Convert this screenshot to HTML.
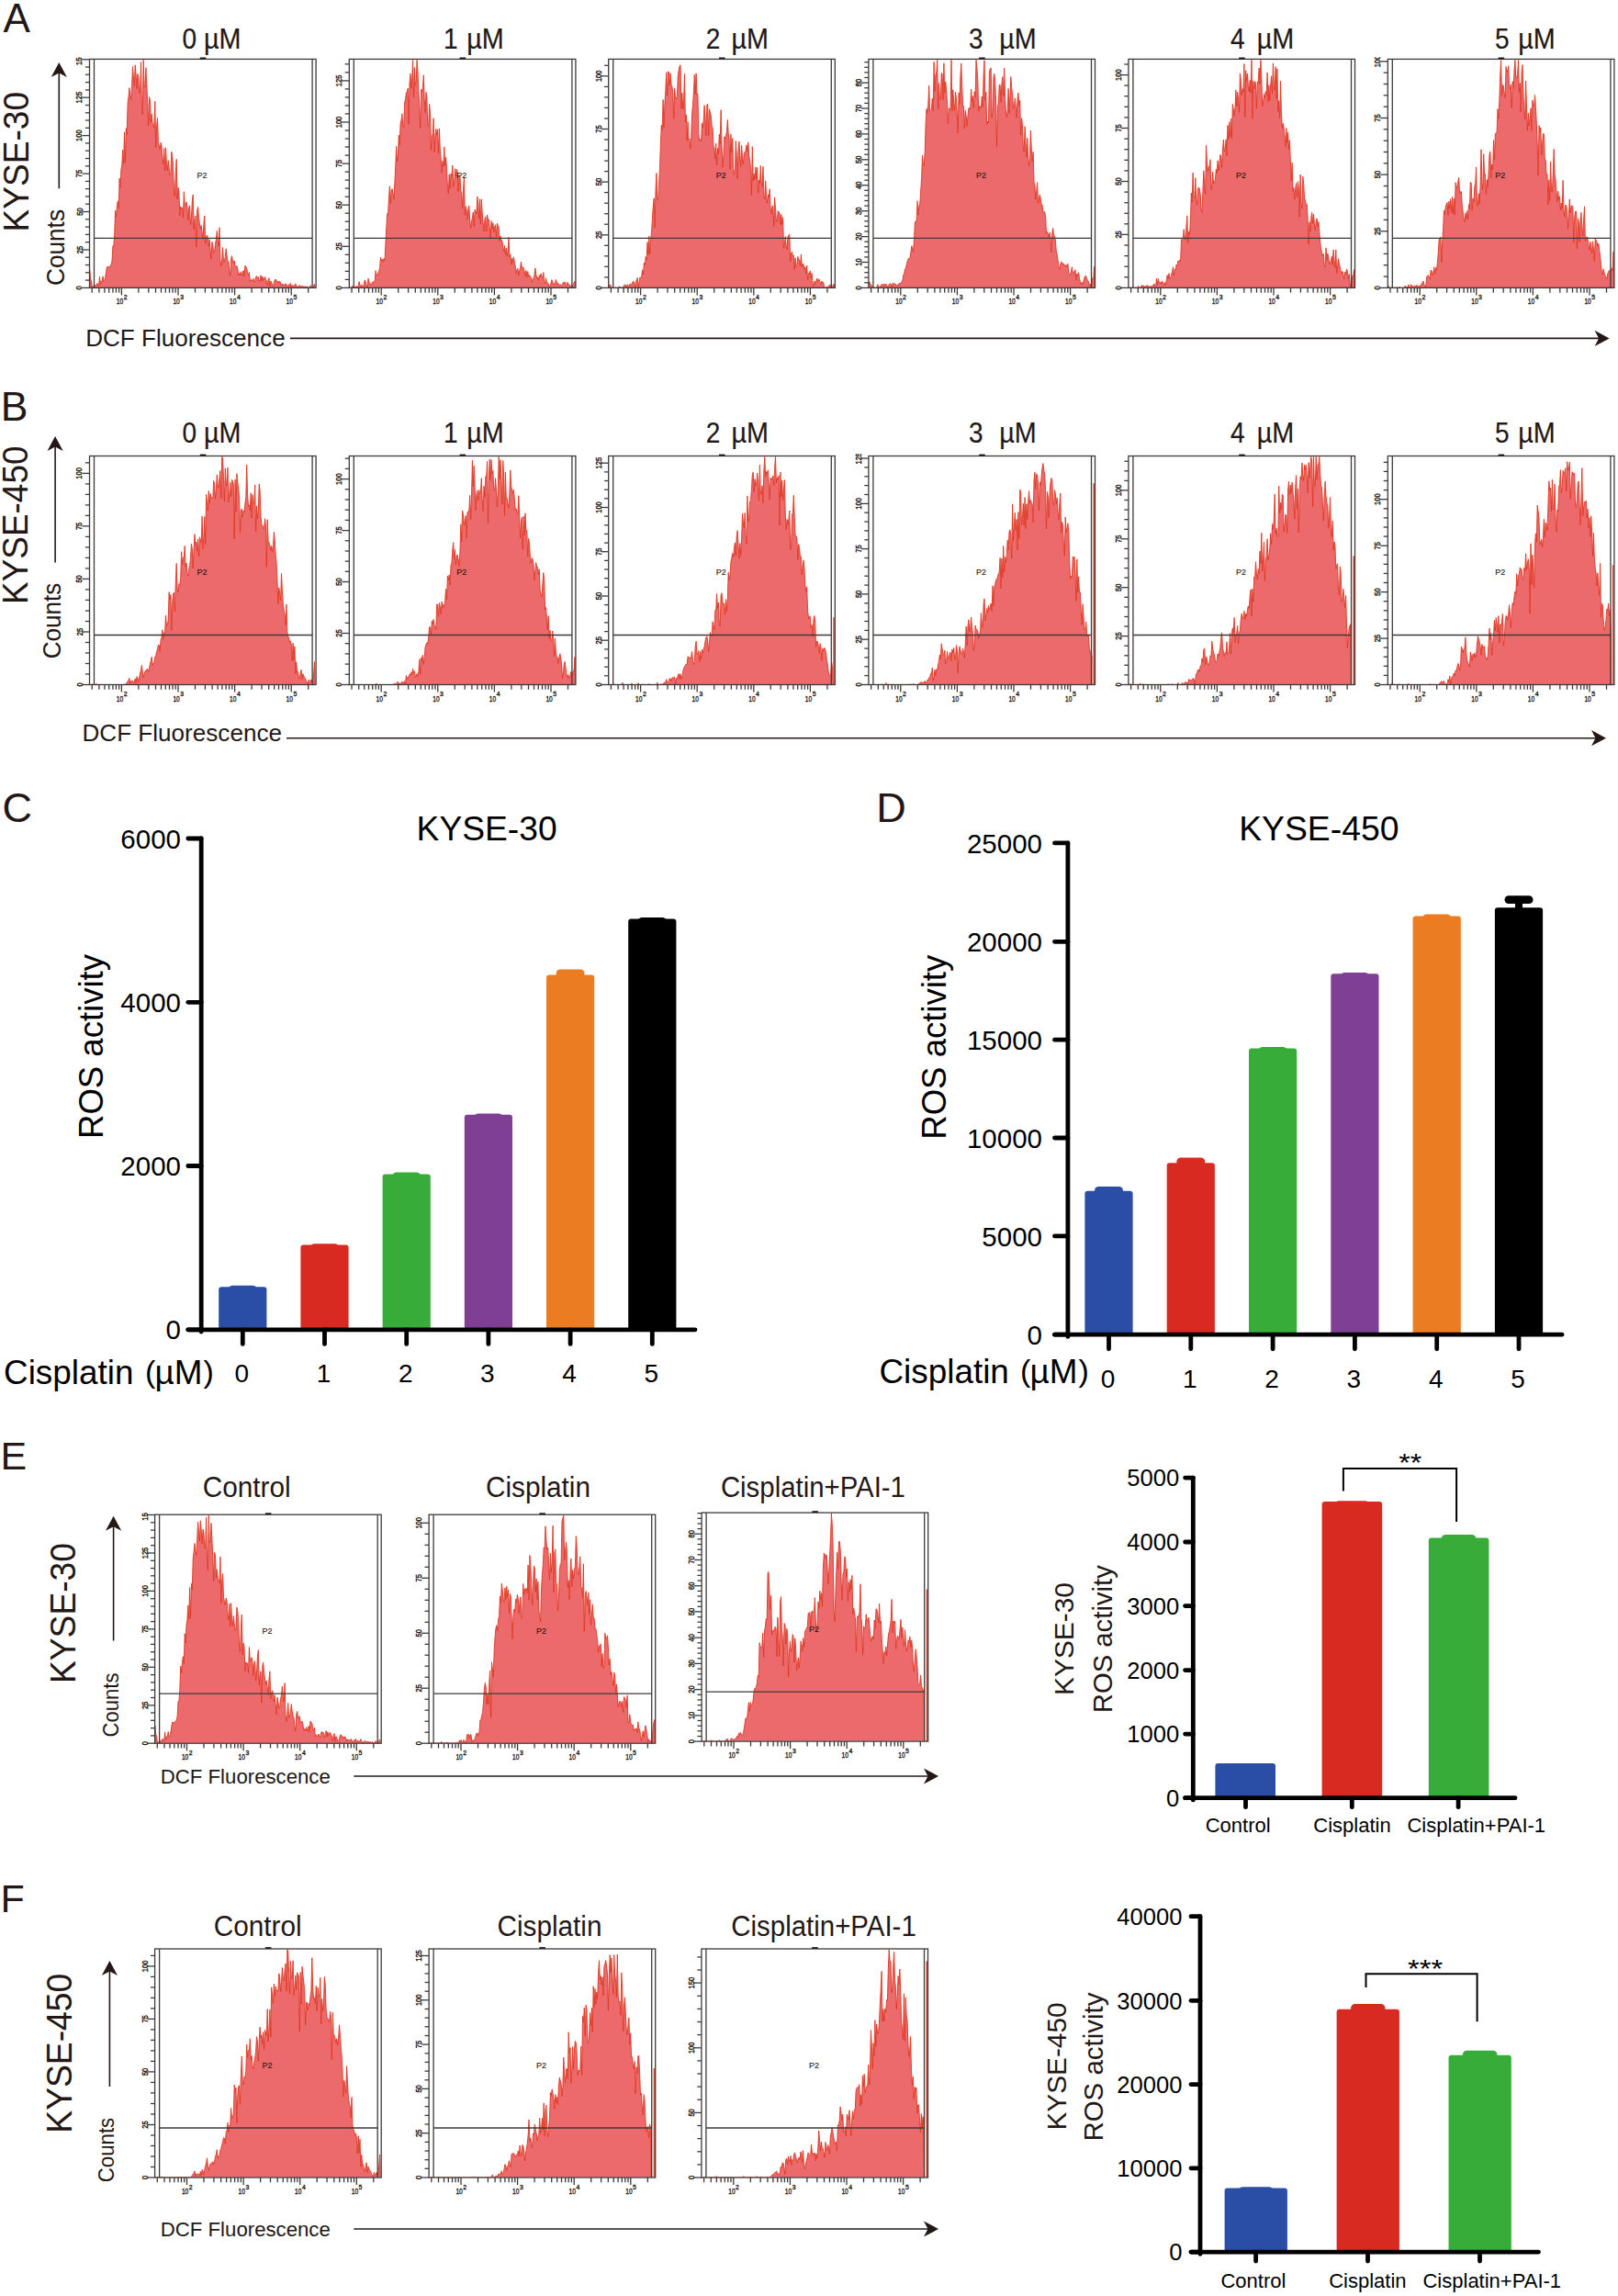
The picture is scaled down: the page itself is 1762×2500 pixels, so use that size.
<!DOCTYPE html>
<html lang="en"><head><meta charset="utf-8"><title>ROS activity figure</title>
<style>html,body{margin:0;padding:0;background:#fff}svg{display:block}text{font-family:"Liberation Sans",sans-serif}</style>
</head><body>
<svg width="1762" height="2500" viewBox="0 0 1762 2500" font-family="'Liberation Sans', sans-serif">
<rect width="1762" height="2500" fill="#fff"/>
<line x1="89.5" y1="313.4" x2="97.5" y2="313.4" stroke="#3e3a39" stroke-width="1.3"/>
<text x="89.5" y="313.4" font-size="9.5" text-anchor="middle" transform="rotate(-90 89.5 313.4)" textLength="4.2" lengthAdjust="spacingAndGlyphs" stroke="#231815" stroke-width="0.45" fill="#231815">0</text>
<line x1="92.9" y1="305.1" x2="97.5" y2="305.1" stroke="#3e3a39" stroke-width="1.3"/>
<line x1="92.9" y1="296.8" x2="97.5" y2="296.8" stroke="#3e3a39" stroke-width="1.3"/>
<line x1="92.9" y1="288.5" x2="97.5" y2="288.5" stroke="#3e3a39" stroke-width="1.3"/>
<line x1="92.9" y1="280.2" x2="97.5" y2="280.2" stroke="#3e3a39" stroke-width="1.3"/>
<line x1="89.5" y1="272" x2="97.5" y2="272" stroke="#3e3a39" stroke-width="1.3"/>
<text x="89.5" y="272" font-size="9.5" text-anchor="middle" transform="rotate(-90 89.5 272)" textLength="8.4" lengthAdjust="spacingAndGlyphs" stroke="#231815" stroke-width="0.45" fill="#231815">25</text>
<line x1="92.9" y1="263.7" x2="97.5" y2="263.7" stroke="#3e3a39" stroke-width="1.3"/>
<line x1="92.9" y1="255.4" x2="97.5" y2="255.4" stroke="#3e3a39" stroke-width="1.3"/>
<line x1="92.9" y1="247.1" x2="97.5" y2="247.1" stroke="#3e3a39" stroke-width="1.3"/>
<line x1="92.9" y1="238.8" x2="97.5" y2="238.8" stroke="#3e3a39" stroke-width="1.3"/>
<line x1="89.5" y1="230.5" x2="97.5" y2="230.5" stroke="#3e3a39" stroke-width="1.3"/>
<text x="89.5" y="230.5" font-size="9.5" text-anchor="middle" transform="rotate(-90 89.5 230.5)" textLength="8.4" lengthAdjust="spacingAndGlyphs" stroke="#231815" stroke-width="0.45" fill="#231815">50</text>
<line x1="92.9" y1="222.2" x2="97.5" y2="222.2" stroke="#3e3a39" stroke-width="1.3"/>
<line x1="92.9" y1="213.9" x2="97.5" y2="213.9" stroke="#3e3a39" stroke-width="1.3"/>
<line x1="92.9" y1="205.6" x2="97.5" y2="205.6" stroke="#3e3a39" stroke-width="1.3"/>
<line x1="92.9" y1="197.4" x2="97.5" y2="197.4" stroke="#3e3a39" stroke-width="1.3"/>
<line x1="89.5" y1="189.1" x2="97.5" y2="189.1" stroke="#3e3a39" stroke-width="1.3"/>
<text x="89.5" y="189.1" font-size="9.5" text-anchor="middle" transform="rotate(-90 89.5 189.1)" textLength="8.4" lengthAdjust="spacingAndGlyphs" stroke="#231815" stroke-width="0.45" fill="#231815">75</text>
<line x1="92.9" y1="180.8" x2="97.5" y2="180.8" stroke="#3e3a39" stroke-width="1.3"/>
<line x1="92.9" y1="172.5" x2="97.5" y2="172.5" stroke="#3e3a39" stroke-width="1.3"/>
<line x1="92.9" y1="164.2" x2="97.5" y2="164.2" stroke="#3e3a39" stroke-width="1.3"/>
<line x1="92.9" y1="155.9" x2="97.5" y2="155.9" stroke="#3e3a39" stroke-width="1.3"/>
<line x1="89.5" y1="147.6" x2="97.5" y2="147.6" stroke="#3e3a39" stroke-width="1.3"/>
<text x="89.5" y="147.6" font-size="9.5" text-anchor="middle" transform="rotate(-90 89.5 147.6)" textLength="12.6" lengthAdjust="spacingAndGlyphs" stroke="#231815" stroke-width="0.45" fill="#231815">100</text>
<line x1="92.9" y1="139.3" x2="97.5" y2="139.3" stroke="#3e3a39" stroke-width="1.3"/>
<line x1="92.9" y1="131" x2="97.5" y2="131" stroke="#3e3a39" stroke-width="1.3"/>
<line x1="92.9" y1="122.8" x2="97.5" y2="122.8" stroke="#3e3a39" stroke-width="1.3"/>
<line x1="92.9" y1="114.5" x2="97.5" y2="114.5" stroke="#3e3a39" stroke-width="1.3"/>
<line x1="89.5" y1="106.2" x2="97.5" y2="106.2" stroke="#3e3a39" stroke-width="1.3"/>
<text x="89.5" y="106.2" font-size="9.5" text-anchor="middle" transform="rotate(-90 89.5 106.2)" textLength="12.6" lengthAdjust="spacingAndGlyphs" stroke="#231815" stroke-width="0.45" fill="#231815">125</text>
<line x1="92.9" y1="97.9" x2="97.5" y2="97.9" stroke="#3e3a39" stroke-width="1.3"/>
<line x1="92.9" y1="89.6" x2="97.5" y2="89.6" stroke="#3e3a39" stroke-width="1.3"/>
<line x1="92.9" y1="81.3" x2="97.5" y2="81.3" stroke="#3e3a39" stroke-width="1.3"/>
<line x1="92.9" y1="73" x2="97.5" y2="73" stroke="#3e3a39" stroke-width="1.3"/>
<line x1="89.5" y1="64.7" x2="97.5" y2="64.7" stroke="#3e3a39" stroke-width="1.3"/>
<clipPath id="cA1"><rect x="77.5" y="62.2" width="20" height="24"/></clipPath><g clip-path="url(#cA1)">
<text x="89.5" y="64.7" font-size="9.5" text-anchor="middle" transform="rotate(-90 89.5 64.7)" textLength="12.6" lengthAdjust="spacingAndGlyphs" stroke="#231815" stroke-width="0.45" fill="#231815">150</text>
</g>
<line x1="100.2" y1="313.4" x2="100.2" y2="318.7" stroke="#3e3a39" stroke-width="1.3"/>
<line x1="107.9" y1="313.4" x2="107.9" y2="318.7" stroke="#3e3a39" stroke-width="1.3"/>
<line x1="113.9" y1="313.4" x2="113.9" y2="318.7" stroke="#3e3a39" stroke-width="1.3"/>
<line x1="118.7" y1="313.4" x2="118.7" y2="318.7" stroke="#3e3a39" stroke-width="1.3"/>
<line x1="122.9" y1="313.4" x2="122.9" y2="318.7" stroke="#3e3a39" stroke-width="1.3"/>
<line x1="126.4" y1="313.4" x2="126.4" y2="318.7" stroke="#3e3a39" stroke-width="1.3"/>
<line x1="129.6" y1="313.4" x2="129.6" y2="318.7" stroke="#3e3a39" stroke-width="1.3"/>
<line x1="132.4" y1="313.4" x2="132.4" y2="321.4" stroke="#3e3a39" stroke-width="1.3"/>
<text x="134.2" y="331.4" font-size="9" text-anchor="end" textLength="7.4" lengthAdjust="spacingAndGlyphs" stroke="#231815" stroke-width="0.35" fill="#231815">10</text>
<text x="134.7" y="326.2" font-size="7.2" textLength="3.8" lengthAdjust="spacingAndGlyphs" stroke="#231815" stroke-width="0.35" fill="#231815">2</text>
<line x1="150.9" y1="313.4" x2="150.9" y2="318.7" stroke="#3e3a39" stroke-width="1.3"/>
<line x1="161.8" y1="313.4" x2="161.8" y2="318.7" stroke="#3e3a39" stroke-width="1.3"/>
<line x1="169.5" y1="313.4" x2="169.5" y2="318.7" stroke="#3e3a39" stroke-width="1.3"/>
<line x1="175.5" y1="313.4" x2="175.5" y2="318.7" stroke="#3e3a39" stroke-width="1.3"/>
<line x1="180.3" y1="313.4" x2="180.3" y2="318.7" stroke="#3e3a39" stroke-width="1.3"/>
<line x1="184.5" y1="313.4" x2="184.5" y2="318.7" stroke="#3e3a39" stroke-width="1.3"/>
<line x1="188" y1="313.4" x2="188" y2="318.7" stroke="#3e3a39" stroke-width="1.3"/>
<line x1="191.2" y1="313.4" x2="191.2" y2="318.7" stroke="#3e3a39" stroke-width="1.3"/>
<line x1="194" y1="313.4" x2="194" y2="321.4" stroke="#3e3a39" stroke-width="1.3"/>
<text x="195.8" y="331.4" font-size="9" text-anchor="end" textLength="7.4" lengthAdjust="spacingAndGlyphs" stroke="#231815" stroke-width="0.35" fill="#231815">10</text>
<text x="196.3" y="326.2" font-size="7.2" textLength="3.8" lengthAdjust="spacingAndGlyphs" stroke="#231815" stroke-width="0.35" fill="#231815">3</text>
<line x1="212.5" y1="313.4" x2="212.5" y2="318.7" stroke="#3e3a39" stroke-width="1.3"/>
<line x1="223.4" y1="313.4" x2="223.4" y2="318.7" stroke="#3e3a39" stroke-width="1.3"/>
<line x1="231.1" y1="313.4" x2="231.1" y2="318.7" stroke="#3e3a39" stroke-width="1.3"/>
<line x1="237.1" y1="313.4" x2="237.1" y2="318.7" stroke="#3e3a39" stroke-width="1.3"/>
<line x1="241.9" y1="313.4" x2="241.9" y2="318.7" stroke="#3e3a39" stroke-width="1.3"/>
<line x1="246.1" y1="313.4" x2="246.1" y2="318.7" stroke="#3e3a39" stroke-width="1.3"/>
<line x1="249.6" y1="313.4" x2="249.6" y2="318.7" stroke="#3e3a39" stroke-width="1.3"/>
<line x1="252.8" y1="313.4" x2="252.8" y2="318.7" stroke="#3e3a39" stroke-width="1.3"/>
<line x1="255.6" y1="313.4" x2="255.6" y2="321.4" stroke="#3e3a39" stroke-width="1.3"/>
<text x="257.4" y="331.4" font-size="9" text-anchor="end" textLength="7.4" lengthAdjust="spacingAndGlyphs" stroke="#231815" stroke-width="0.35" fill="#231815">10</text>
<text x="257.9" y="326.2" font-size="7.2" textLength="3.8" lengthAdjust="spacingAndGlyphs" stroke="#231815" stroke-width="0.35" fill="#231815">4</text>
<line x1="274.1" y1="313.4" x2="274.1" y2="318.7" stroke="#3e3a39" stroke-width="1.3"/>
<line x1="285" y1="313.4" x2="285" y2="318.7" stroke="#3e3a39" stroke-width="1.3"/>
<line x1="292.7" y1="313.4" x2="292.7" y2="318.7" stroke="#3e3a39" stroke-width="1.3"/>
<line x1="298.7" y1="313.4" x2="298.7" y2="318.7" stroke="#3e3a39" stroke-width="1.3"/>
<line x1="303.5" y1="313.4" x2="303.5" y2="318.7" stroke="#3e3a39" stroke-width="1.3"/>
<line x1="307.7" y1="313.4" x2="307.7" y2="318.7" stroke="#3e3a39" stroke-width="1.3"/>
<line x1="311.2" y1="313.4" x2="311.2" y2="318.7" stroke="#3e3a39" stroke-width="1.3"/>
<line x1="314.4" y1="313.4" x2="314.4" y2="318.7" stroke="#3e3a39" stroke-width="1.3"/>
<line x1="317.2" y1="313.4" x2="317.2" y2="321.4" stroke="#3e3a39" stroke-width="1.3"/>
<text x="319" y="331.4" font-size="9" text-anchor="end" textLength="7.4" lengthAdjust="spacingAndGlyphs" stroke="#231815" stroke-width="0.35" fill="#231815">10</text>
<text x="319.5" y="326.2" font-size="7.2" textLength="3.8" lengthAdjust="spacingAndGlyphs" stroke="#231815" stroke-width="0.35" fill="#231815">5</text>
<line x1="335.7" y1="313.4" x2="335.7" y2="318.7" stroke="#3e3a39" stroke-width="1.3"/>
<clipPath id="h1"><rect x="97.5" y="64.4" width="246.6" height="248.5"/></clipPath>
<polygon clip-path="url(#h1)" points="97.7,313.4 97.7,294.2 98.6,303.6 99.5,305.9 100.4,312.6 101.3,312.1 102.2,312.1 103.1,310.9 104,310.7 104.9,311.2 105.8,308.4 106.7,310.1 107.6,311.3 108.5,301.1 109.4,309.5 110.3,306.1 111.2,306.4 112.1,300.8 113,306.6 113.9,305.6 114.8,301.3 115.7,295.3 116.6,290.2 117.5,290.9 118.4,290.5 119.3,290.7 120.2,289.2 121.1,287.9 122,284.1 122.9,267.7 123.8,268.1 124.7,255 125.6,229.3 126.5,236.6 127.4,224.6 128.3,218.9 129.2,226.6 130.1,194.1 131,204.3 131.9,184.8 132.8,179.2 133.7,163.1 134.6,178.3 135.5,143.8 136.4,176.8 137.3,139.6 138.2,146.5 139.1,112.3 140,105.3 140.9,95.6 141.8,103.7 142.7,108.5 143.6,92.2 144.5,72.4 145.4,83.8 146.3,93.3 147.2,70.9 148.1,81.3 149,96.5 149.9,80.4 150.8,83.1 151.7,101.3 152.6,100.7 153.5,67.5 154.4,114.2 155.3,124.6 156.2,65.4 157.1,95 158,93.2 158.9,73.7 159.8,91.9 160.7,111.3 161.6,136.8 162.5,105.6 163.4,108.6 164.3,133.1 165.2,124 166.1,133.6 167,135.4 167.9,139.2 168.8,110.3 169.7,160.4 170.6,136.5 171.5,128.5 172.4,154.6 173.3,158.7 174.2,162.8 175.1,155.2 176,158.6 176.9,172.4 177.8,178.8 178.7,161.4 179.6,185.9 180.5,160.8 181.4,177.9 182.3,185.6 183.2,174.7 184.1,183 185,190.4 185.9,188.5 186.8,165.2 187.7,169.7 188.6,181.4 189.5,209.6 190.4,213.9 191.3,187.3 192.2,173.2 193.1,216.8 194,204.2 194.9,208.1 195.8,234.7 196.7,224.9 197.6,227.2 198.5,226 199.4,236.6 200.3,208.8 201.2,222.8 202.1,223.5 203,219.9 203.9,225.1 204.8,239.7 205.7,225.8 206.6,223.8 207.5,245 208.4,237.3 209.3,219.5 210.2,211.9 211.1,249.8 212,238.4 212.9,234.9 213.8,268.9 214.7,228.8 215.6,225.4 216.5,236.6 217.4,243.4 218.3,249.1 219.2,245.3 220.1,252.9 221,260.7 221.9,243.1 222.8,235 223.7,265.2 224.6,258.2 225.5,255.9 226.4,259.7 227.3,268.1 228.2,260.7 229.1,271.8 230,282 230.9,263.3 231.8,267.7 232.7,275.3 233.6,273.8 234.5,265.3 235.4,260.7 236.3,251.4 237.2,262.7 238.1,267.9 239,247.7 239.9,283.1 240.8,289.8 241.7,282.5 242.6,269.5 243.5,285.6 244.4,284.9 245.3,279.4 246.2,270.9 247.1,278.7 248,284.4 248.9,284.9 249.8,295 250.7,300.2 251.6,282.2 252.5,278.6 253.4,283.8 254.3,286.3 255.2,283.9 256.1,290.5 257,290.5 257.9,289.4 258.8,292.6 259.7,299.5 260.6,297.5 261.5,299.3 262.4,295.8 263.3,300.3 264.2,297 265.1,294.6 266,301.4 266.9,289.2 267.8,290.5 268.7,291.9 269.6,297.4 270.5,299.7 271.4,296.3 272.3,306.6 273.2,304.1 274.1,304.9 275,306 275.9,303.2 276.8,306.1 277.7,307.2 278.6,301.5 279.5,300.7 280.4,301.9 281.3,301.7 282.2,307 283.1,304.4 284,299.8 284.9,306.4 285.8,300.9 286.7,305.2 287.6,302.9 288.5,301.5 289.4,303.7 290.3,305.7 291.2,310.9 292.1,305.1 293,302.7 293.9,311.9 294.8,306 295.7,307.6 296.6,310.2 297.5,311.6 298.4,308.3 299.3,304.6 300.2,304 301.1,306.3 302,306 302.9,308.2 303.8,306.3 304.7,306.3 305.6,307.9 306.5,311.1 307.4,308.9 308.3,310.3 309.2,309.7 310.1,310.9 311,308.7 311.9,310 312.8,311.3 313.7,312.3 314.6,309.7 315.5,310.7 316.4,308.4 317.3,313.4 318.2,310.3 319.1,310.8 320,311.8 320.9,310.4 321.8,308.9 322.7,311 323.6,313.4 324.5,311.8 325.4,311.8 326.3,310.6 327.2,311.7 328.1,312.2 329,311.3 329.9,311.9 330.8,312 331.7,312.3 332.6,311.8 333.5,313.1 334.4,311.7 335.3,313 336.2,313 337.1,313.4 338,310.7 338.9,312.3 339.8,313.4 340.7,312.5 341.6,310.9 342.5,309.2 343.1,313.4" fill="#ec6a6b" stroke="#e0341f" stroke-width="0.9" stroke-linejoin="miter" stroke-miterlimit="6"/>
<rect x="97.5" y="64.4" width="246.6" height="249" fill="none" stroke="#3e3a39" stroke-width="1.3"/>
<line x1="102.5" y1="64.4" x2="102.5" y2="313.4" stroke="#3e3a39" stroke-width="1.3"/>
<line x1="340.1" y1="64.4" x2="340.1" y2="313.4" stroke="#3e3a39" stroke-width="1.3"/>
<line x1="102.5" y1="259.4" x2="340.1" y2="259.4" stroke="#3e3a39" stroke-width="1.3"/>
<line x1="217.8" y1="63.4" x2="224.3" y2="63.4" stroke="#1a1a1a" stroke-width="1.8"/>
<text x="214.5" y="194" font-size="8.6" textLength="11" lengthAdjust="spacingAndGlyphs" stroke="#231815" stroke-width="0.12" fill="#231815">P2</text>
<line x1="372.3" y1="313.4" x2="380.3" y2="313.4" stroke="#3e3a39" stroke-width="1.3"/>
<text x="372.3" y="313.4" font-size="9.5" text-anchor="middle" transform="rotate(-90 372.3 313.4)" textLength="4.2" lengthAdjust="spacingAndGlyphs" stroke="#231815" stroke-width="0.45" fill="#231815">0</text>
<line x1="375.7" y1="304.4" x2="380.3" y2="304.4" stroke="#3e3a39" stroke-width="1.3"/>
<line x1="375.7" y1="295.4" x2="380.3" y2="295.4" stroke="#3e3a39" stroke-width="1.3"/>
<line x1="375.7" y1="286.3" x2="380.3" y2="286.3" stroke="#3e3a39" stroke-width="1.3"/>
<line x1="375.7" y1="277.3" x2="380.3" y2="277.3" stroke="#3e3a39" stroke-width="1.3"/>
<line x1="372.3" y1="268.3" x2="380.3" y2="268.3" stroke="#3e3a39" stroke-width="1.3"/>
<text x="372.3" y="268.3" font-size="9.5" text-anchor="middle" transform="rotate(-90 372.3 268.3)" textLength="8.4" lengthAdjust="spacingAndGlyphs" stroke="#231815" stroke-width="0.45" fill="#231815">25</text>
<line x1="375.7" y1="259.3" x2="380.3" y2="259.3" stroke="#3e3a39" stroke-width="1.3"/>
<line x1="375.7" y1="250.2" x2="380.3" y2="250.2" stroke="#3e3a39" stroke-width="1.3"/>
<line x1="375.7" y1="241.2" x2="380.3" y2="241.2" stroke="#3e3a39" stroke-width="1.3"/>
<line x1="375.7" y1="232.2" x2="380.3" y2="232.2" stroke="#3e3a39" stroke-width="1.3"/>
<line x1="372.3" y1="223.2" x2="380.3" y2="223.2" stroke="#3e3a39" stroke-width="1.3"/>
<text x="372.3" y="223.2" font-size="9.5" text-anchor="middle" transform="rotate(-90 372.3 223.2)" textLength="8.4" lengthAdjust="spacingAndGlyphs" stroke="#231815" stroke-width="0.45" fill="#231815">50</text>
<line x1="375.7" y1="214.2" x2="380.3" y2="214.2" stroke="#3e3a39" stroke-width="1.3"/>
<line x1="375.7" y1="205.1" x2="380.3" y2="205.1" stroke="#3e3a39" stroke-width="1.3"/>
<line x1="375.7" y1="196.1" x2="380.3" y2="196.1" stroke="#3e3a39" stroke-width="1.3"/>
<line x1="375.7" y1="187.1" x2="380.3" y2="187.1" stroke="#3e3a39" stroke-width="1.3"/>
<line x1="372.3" y1="178.1" x2="380.3" y2="178.1" stroke="#3e3a39" stroke-width="1.3"/>
<text x="372.3" y="178.1" font-size="9.5" text-anchor="middle" transform="rotate(-90 372.3 178.1)" textLength="8.4" lengthAdjust="spacingAndGlyphs" stroke="#231815" stroke-width="0.45" fill="#231815">75</text>
<line x1="375.7" y1="169.1" x2="380.3" y2="169.1" stroke="#3e3a39" stroke-width="1.3"/>
<line x1="375.7" y1="160" x2="380.3" y2="160" stroke="#3e3a39" stroke-width="1.3"/>
<line x1="375.7" y1="151" x2="380.3" y2="151" stroke="#3e3a39" stroke-width="1.3"/>
<line x1="375.7" y1="142" x2="380.3" y2="142" stroke="#3e3a39" stroke-width="1.3"/>
<line x1="372.3" y1="133" x2="380.3" y2="133" stroke="#3e3a39" stroke-width="1.3"/>
<text x="372.3" y="133" font-size="9.5" text-anchor="middle" transform="rotate(-90 372.3 133)" textLength="12.6" lengthAdjust="spacingAndGlyphs" stroke="#231815" stroke-width="0.45" fill="#231815">100</text>
<line x1="375.7" y1="123.9" x2="380.3" y2="123.9" stroke="#3e3a39" stroke-width="1.3"/>
<line x1="375.7" y1="114.9" x2="380.3" y2="114.9" stroke="#3e3a39" stroke-width="1.3"/>
<line x1="375.7" y1="105.9" x2="380.3" y2="105.9" stroke="#3e3a39" stroke-width="1.3"/>
<line x1="375.7" y1="96.9" x2="380.3" y2="96.9" stroke="#3e3a39" stroke-width="1.3"/>
<line x1="372.3" y1="87.9" x2="380.3" y2="87.9" stroke="#3e3a39" stroke-width="1.3"/>
<text x="372.3" y="87.9" font-size="9.5" text-anchor="middle" transform="rotate(-90 372.3 87.9)" textLength="12.6" lengthAdjust="spacingAndGlyphs" stroke="#231815" stroke-width="0.45" fill="#231815">125</text>
<line x1="375.7" y1="78.8" x2="380.3" y2="78.8" stroke="#3e3a39" stroke-width="1.3"/>
<line x1="375.7" y1="69.8" x2="380.3" y2="69.8" stroke="#3e3a39" stroke-width="1.3"/>
<line x1="383" y1="313.4" x2="383" y2="318.7" stroke="#3e3a39" stroke-width="1.3"/>
<line x1="390.7" y1="313.4" x2="390.7" y2="318.7" stroke="#3e3a39" stroke-width="1.3"/>
<line x1="396.7" y1="313.4" x2="396.7" y2="318.7" stroke="#3e3a39" stroke-width="1.3"/>
<line x1="401.5" y1="313.4" x2="401.5" y2="318.7" stroke="#3e3a39" stroke-width="1.3"/>
<line x1="405.7" y1="313.4" x2="405.7" y2="318.7" stroke="#3e3a39" stroke-width="1.3"/>
<line x1="409.2" y1="313.4" x2="409.2" y2="318.7" stroke="#3e3a39" stroke-width="1.3"/>
<line x1="412.4" y1="313.4" x2="412.4" y2="318.7" stroke="#3e3a39" stroke-width="1.3"/>
<line x1="415.2" y1="313.4" x2="415.2" y2="321.4" stroke="#3e3a39" stroke-width="1.3"/>
<text x="417" y="331.4" font-size="9" text-anchor="end" textLength="7.4" lengthAdjust="spacingAndGlyphs" stroke="#231815" stroke-width="0.35" fill="#231815">10</text>
<text x="417.5" y="326.2" font-size="7.2" textLength="3.8" lengthAdjust="spacingAndGlyphs" stroke="#231815" stroke-width="0.35" fill="#231815">2</text>
<line x1="433.7" y1="313.4" x2="433.7" y2="318.7" stroke="#3e3a39" stroke-width="1.3"/>
<line x1="444.6" y1="313.4" x2="444.6" y2="318.7" stroke="#3e3a39" stroke-width="1.3"/>
<line x1="452.3" y1="313.4" x2="452.3" y2="318.7" stroke="#3e3a39" stroke-width="1.3"/>
<line x1="458.3" y1="313.4" x2="458.3" y2="318.7" stroke="#3e3a39" stroke-width="1.3"/>
<line x1="463.1" y1="313.4" x2="463.1" y2="318.7" stroke="#3e3a39" stroke-width="1.3"/>
<line x1="467.3" y1="313.4" x2="467.3" y2="318.7" stroke="#3e3a39" stroke-width="1.3"/>
<line x1="470.8" y1="313.4" x2="470.8" y2="318.7" stroke="#3e3a39" stroke-width="1.3"/>
<line x1="474" y1="313.4" x2="474" y2="318.7" stroke="#3e3a39" stroke-width="1.3"/>
<line x1="476.8" y1="313.4" x2="476.8" y2="321.4" stroke="#3e3a39" stroke-width="1.3"/>
<text x="478.6" y="331.4" font-size="9" text-anchor="end" textLength="7.4" lengthAdjust="spacingAndGlyphs" stroke="#231815" stroke-width="0.35" fill="#231815">10</text>
<text x="479.1" y="326.2" font-size="7.2" textLength="3.8" lengthAdjust="spacingAndGlyphs" stroke="#231815" stroke-width="0.35" fill="#231815">3</text>
<line x1="495.3" y1="313.4" x2="495.3" y2="318.7" stroke="#3e3a39" stroke-width="1.3"/>
<line x1="506.2" y1="313.4" x2="506.2" y2="318.7" stroke="#3e3a39" stroke-width="1.3"/>
<line x1="513.9" y1="313.4" x2="513.9" y2="318.7" stroke="#3e3a39" stroke-width="1.3"/>
<line x1="519.9" y1="313.4" x2="519.9" y2="318.7" stroke="#3e3a39" stroke-width="1.3"/>
<line x1="524.7" y1="313.4" x2="524.7" y2="318.7" stroke="#3e3a39" stroke-width="1.3"/>
<line x1="528.9" y1="313.4" x2="528.9" y2="318.7" stroke="#3e3a39" stroke-width="1.3"/>
<line x1="532.4" y1="313.4" x2="532.4" y2="318.7" stroke="#3e3a39" stroke-width="1.3"/>
<line x1="535.6" y1="313.4" x2="535.6" y2="318.7" stroke="#3e3a39" stroke-width="1.3"/>
<line x1="538.4" y1="313.4" x2="538.4" y2="321.4" stroke="#3e3a39" stroke-width="1.3"/>
<text x="540.2" y="331.4" font-size="9" text-anchor="end" textLength="7.4" lengthAdjust="spacingAndGlyphs" stroke="#231815" stroke-width="0.35" fill="#231815">10</text>
<text x="540.7" y="326.2" font-size="7.2" textLength="3.8" lengthAdjust="spacingAndGlyphs" stroke="#231815" stroke-width="0.35" fill="#231815">4</text>
<line x1="556.9" y1="313.4" x2="556.9" y2="318.7" stroke="#3e3a39" stroke-width="1.3"/>
<line x1="567.8" y1="313.4" x2="567.8" y2="318.7" stroke="#3e3a39" stroke-width="1.3"/>
<line x1="575.5" y1="313.4" x2="575.5" y2="318.7" stroke="#3e3a39" stroke-width="1.3"/>
<line x1="581.5" y1="313.4" x2="581.5" y2="318.7" stroke="#3e3a39" stroke-width="1.3"/>
<line x1="586.3" y1="313.4" x2="586.3" y2="318.7" stroke="#3e3a39" stroke-width="1.3"/>
<line x1="590.5" y1="313.4" x2="590.5" y2="318.7" stroke="#3e3a39" stroke-width="1.3"/>
<line x1="594" y1="313.4" x2="594" y2="318.7" stroke="#3e3a39" stroke-width="1.3"/>
<line x1="597.2" y1="313.4" x2="597.2" y2="318.7" stroke="#3e3a39" stroke-width="1.3"/>
<line x1="600" y1="313.4" x2="600" y2="321.4" stroke="#3e3a39" stroke-width="1.3"/>
<text x="601.8" y="331.4" font-size="9" text-anchor="end" textLength="7.4" lengthAdjust="spacingAndGlyphs" stroke="#231815" stroke-width="0.35" fill="#231815">10</text>
<text x="602.3" y="326.2" font-size="7.2" textLength="3.8" lengthAdjust="spacingAndGlyphs" stroke="#231815" stroke-width="0.35" fill="#231815">5</text>
<line x1="618.5" y1="313.4" x2="618.5" y2="318.7" stroke="#3e3a39" stroke-width="1.3"/>
<clipPath id="h2"><rect x="380.3" y="64.4" width="246.6" height="248.5"/></clipPath>
<polygon clip-path="url(#h2)" points="380.3,313.4 380.3,313.4 381.2,313.4 382.1,313.4 383,313.4 383.9,311.2 384.8,313.4 385.7,313.4 386.6,312.4 387.5,313.4 388.4,311.1 389.3,313.4 390.2,311.5 391.1,306.6 392,311.2 392.9,311.4 393.8,309.9 394.7,312.2 395.6,313.4 396.5,308.1 397.4,304.8 398.3,306.7 399.2,310.7 400.1,313.4 401,303.2 401.9,307.3 402.8,308.2 403.7,310.2 404.6,310 405.5,307.1 406.4,307.3 407.3,306.5 408.2,305.3 409.1,294.7 410,299.1 410.9,300.2 411.8,297.2 412.7,295.2 413.6,291.6 414.5,280.1 415.4,283.9 416.3,282.2 417.2,285.1 418.1,281.4 419,283.3 419.9,265.5 420.8,247.4 421.7,232.4 422.6,232.9 423.5,215.4 424.4,202.7 425.3,221.6 426.2,206.8 427.1,205.6 428,210.5 428.9,216.7 429.8,200 430.7,181.8 431.6,159.4 432.5,175.9 433.4,169.3 434.3,147.2 435.2,157.9 436.1,134.4 437,131 437.9,123.9 438.8,138.6 439.7,138.5 440.6,112 441.5,108.1 442.4,101 443.3,99.9 444.2,96.1 445.1,135.4 446,91 446.9,80.1 447.8,96.4 448.7,85.9 449.6,65.4 450.5,106.1 451.4,73.5 452.3,92.8 453.2,88.5 454.1,65.4 455,78.9 455.9,100.9 456.8,115.2 457.7,139.3 458.6,97.4 459.5,99.2 460.4,95.3 461.3,81.8 462.2,107.6 463.1,122.5 464,100.5 464.9,106.2 465.8,136.8 466.7,137.6 467.6,113.3 468.5,123.4 469.4,163.4 470.3,147.8 471.2,145.6 472.1,128.7 473,165.5 473.9,147.4 474.8,140.4 475.7,147.2 476.6,140.9 477.5,167.1 478.4,140 479.3,162.8 480.2,173.8 481.1,188.1 482,175.3 482.9,180.8 483.8,159.9 484.7,180.6 485.6,171.4 486.5,184.7 487.4,203.1 488.3,210.9 489.2,189.9 490.1,205 491,189 491.9,192.5 492.8,180.1 493.7,203.4 494.6,200.8 495.5,183.6 496.4,192.1 497.3,184.2 498.2,186.7 499.1,208.3 500,191 500.9,191.3 501.8,208.1 502.7,209.3 503.6,226.9 504.5,206.5 505.4,193.8 506.3,234.4 507.2,224.6 508.1,228.1 509,238.7 509.9,227.7 510.8,224 511.7,238.2 512.6,248.6 513.5,241.2 514.4,237.4 515.3,230.9 516.2,246.3 517.1,228.2 518,230 518.9,232.3 519.8,214 520.7,221.7 521.6,237.8 522.5,216.7 523.4,244.1 524.3,216.8 525.2,232.3 526.1,242.8 527,251.7 527.9,239.1 528.8,235.9 529.7,252 530.6,234 531.5,239.9 532.4,238.9 533.3,248.3 534.2,259.6 535.1,240.4 536,249.2 536.9,242.8 537.8,252.9 538.7,247.1 539.6,244.7 540.5,257.6 541.4,243.2 542.3,246 543.2,247.1 544.1,262.5 545,256.9 545.9,262.3 546.8,261.8 547.7,269.7 548.6,273.6 549.5,267.4 550.4,276.6 551.3,270 552.2,279 553.1,273.2 554,258.4 554.9,279.8 555.8,276.9 556.7,288.3 557.6,281 558.5,285.6 559.4,279.8 560.3,285.9 561.2,290 562.1,297.9 563,293.4 563.9,292.3 564.8,299.9 565.7,294.6 566.6,291.3 567.5,285 568.4,291.5 569.3,291.4 570.2,291.5 571.1,295.6 572,300.6 572.9,294.5 573.8,301.8 574.7,295.7 575.6,301.2 576.5,299.6 577.4,300.6 578.3,302.4 579.2,307.2 580.1,303.7 581,302.6 581.9,300.4 582.8,291.8 583.7,298.3 584.6,303.1 585.5,301.7 586.4,305.4 587.3,299.7 588.2,301.7 589.1,297.9 590,301.9 590.9,302.1 591.8,296.5 592.7,306.8 593.6,308.7 594.5,302.8 595.4,307.4 596.3,307.8 597.2,309.1 598.1,312.1 599,311.1 599.9,309.1 600.8,304.6 601.7,306.5 602.6,309.6 603.5,308.8 604.4,309.9 605.3,304.4 606.2,307.6 607.1,307.7 608,309.6 608.9,309.6 609.8,310.4 610.7,309.9 611.6,310.3 612.5,309.4 613.4,307.7 614.3,307.5 615.2,307 616.1,310 617,310.8 617.9,307.3 618.8,309.3 619.7,309.8 620.6,311 621.5,310.9 622.4,312.3 623.3,310.8 624.2,309.7 625.1,307.8 626,306.2 626.8,313.4" fill="#ec6a6b" stroke="#e0341f" stroke-width="0.9" stroke-linejoin="miter" stroke-miterlimit="6"/>
<rect x="380.3" y="64.4" width="246.6" height="249" fill="none" stroke="#3e3a39" stroke-width="1.3"/>
<line x1="385.3" y1="64.4" x2="385.3" y2="313.4" stroke="#3e3a39" stroke-width="1.3"/>
<line x1="622.9" y1="64.4" x2="622.9" y2="313.4" stroke="#3e3a39" stroke-width="1.3"/>
<line x1="385.3" y1="259.4" x2="622.9" y2="259.4" stroke="#3e3a39" stroke-width="1.3"/>
<line x1="500.6" y1="63.4" x2="507.1" y2="63.4" stroke="#1a1a1a" stroke-width="1.8"/>
<text x="497.3" y="194" font-size="8.6" textLength="11" lengthAdjust="spacingAndGlyphs" stroke="#231815" stroke-width="0.12" fill="#231815">P2</text>
<line x1="654.7" y1="313.4" x2="662.7" y2="313.4" stroke="#3e3a39" stroke-width="1.3"/>
<text x="654.7" y="313.4" font-size="9.5" text-anchor="middle" transform="rotate(-90 654.7 313.4)" textLength="4.2" lengthAdjust="spacingAndGlyphs" stroke="#231815" stroke-width="0.45" fill="#231815">0</text>
<line x1="658.1" y1="301.9" x2="662.7" y2="301.9" stroke="#3e3a39" stroke-width="1.3"/>
<line x1="658.1" y1="290.3" x2="662.7" y2="290.3" stroke="#3e3a39" stroke-width="1.3"/>
<line x1="658.1" y1="278.8" x2="662.7" y2="278.8" stroke="#3e3a39" stroke-width="1.3"/>
<line x1="658.1" y1="267.3" x2="662.7" y2="267.3" stroke="#3e3a39" stroke-width="1.3"/>
<line x1="654.7" y1="255.8" x2="662.7" y2="255.8" stroke="#3e3a39" stroke-width="1.3"/>
<text x="654.7" y="255.8" font-size="9.5" text-anchor="middle" transform="rotate(-90 654.7 255.8)" textLength="8.4" lengthAdjust="spacingAndGlyphs" stroke="#231815" stroke-width="0.45" fill="#231815">25</text>
<line x1="658.1" y1="244.2" x2="662.7" y2="244.2" stroke="#3e3a39" stroke-width="1.3"/>
<line x1="658.1" y1="232.7" x2="662.7" y2="232.7" stroke="#3e3a39" stroke-width="1.3"/>
<line x1="658.1" y1="221.2" x2="662.7" y2="221.2" stroke="#3e3a39" stroke-width="1.3"/>
<line x1="658.1" y1="209.6" x2="662.7" y2="209.6" stroke="#3e3a39" stroke-width="1.3"/>
<line x1="654.7" y1="198.1" x2="662.7" y2="198.1" stroke="#3e3a39" stroke-width="1.3"/>
<text x="654.7" y="198.1" font-size="9.5" text-anchor="middle" transform="rotate(-90 654.7 198.1)" textLength="8.4" lengthAdjust="spacingAndGlyphs" stroke="#231815" stroke-width="0.45" fill="#231815">50</text>
<line x1="658.1" y1="186.6" x2="662.7" y2="186.6" stroke="#3e3a39" stroke-width="1.3"/>
<line x1="658.1" y1="175.1" x2="662.7" y2="175.1" stroke="#3e3a39" stroke-width="1.3"/>
<line x1="658.1" y1="163.5" x2="662.7" y2="163.5" stroke="#3e3a39" stroke-width="1.3"/>
<line x1="658.1" y1="152" x2="662.7" y2="152" stroke="#3e3a39" stroke-width="1.3"/>
<line x1="654.7" y1="140.5" x2="662.7" y2="140.5" stroke="#3e3a39" stroke-width="1.3"/>
<text x="654.7" y="140.5" font-size="9.5" text-anchor="middle" transform="rotate(-90 654.7 140.5)" textLength="8.4" lengthAdjust="spacingAndGlyphs" stroke="#231815" stroke-width="0.45" fill="#231815">75</text>
<line x1="658.1" y1="129" x2="662.7" y2="129" stroke="#3e3a39" stroke-width="1.3"/>
<line x1="658.1" y1="117.4" x2="662.7" y2="117.4" stroke="#3e3a39" stroke-width="1.3"/>
<line x1="658.1" y1="105.9" x2="662.7" y2="105.9" stroke="#3e3a39" stroke-width="1.3"/>
<line x1="658.1" y1="94.4" x2="662.7" y2="94.4" stroke="#3e3a39" stroke-width="1.3"/>
<line x1="654.7" y1="82.8" x2="662.7" y2="82.8" stroke="#3e3a39" stroke-width="1.3"/>
<text x="654.7" y="82.8" font-size="9.5" text-anchor="middle" transform="rotate(-90 654.7 82.8)" textLength="12.6" lengthAdjust="spacingAndGlyphs" stroke="#231815" stroke-width="0.45" fill="#231815">100</text>
<line x1="658.1" y1="71.3" x2="662.7" y2="71.3" stroke="#3e3a39" stroke-width="1.3"/>
<line x1="665.4" y1="313.4" x2="665.4" y2="318.7" stroke="#3e3a39" stroke-width="1.3"/>
<line x1="673.1" y1="313.4" x2="673.1" y2="318.7" stroke="#3e3a39" stroke-width="1.3"/>
<line x1="679.1" y1="313.4" x2="679.1" y2="318.7" stroke="#3e3a39" stroke-width="1.3"/>
<line x1="683.9" y1="313.4" x2="683.9" y2="318.7" stroke="#3e3a39" stroke-width="1.3"/>
<line x1="688.1" y1="313.4" x2="688.1" y2="318.7" stroke="#3e3a39" stroke-width="1.3"/>
<line x1="691.6" y1="313.4" x2="691.6" y2="318.7" stroke="#3e3a39" stroke-width="1.3"/>
<line x1="694.8" y1="313.4" x2="694.8" y2="318.7" stroke="#3e3a39" stroke-width="1.3"/>
<line x1="697.6" y1="313.4" x2="697.6" y2="321.4" stroke="#3e3a39" stroke-width="1.3"/>
<text x="699.4" y="331.4" font-size="9" text-anchor="end" textLength="7.4" lengthAdjust="spacingAndGlyphs" stroke="#231815" stroke-width="0.35" fill="#231815">10</text>
<text x="699.9" y="326.2" font-size="7.2" textLength="3.8" lengthAdjust="spacingAndGlyphs" stroke="#231815" stroke-width="0.35" fill="#231815">2</text>
<line x1="716.1" y1="313.4" x2="716.1" y2="318.7" stroke="#3e3a39" stroke-width="1.3"/>
<line x1="727" y1="313.4" x2="727" y2="318.7" stroke="#3e3a39" stroke-width="1.3"/>
<line x1="734.7" y1="313.4" x2="734.7" y2="318.7" stroke="#3e3a39" stroke-width="1.3"/>
<line x1="740.7" y1="313.4" x2="740.7" y2="318.7" stroke="#3e3a39" stroke-width="1.3"/>
<line x1="745.5" y1="313.4" x2="745.5" y2="318.7" stroke="#3e3a39" stroke-width="1.3"/>
<line x1="749.7" y1="313.4" x2="749.7" y2="318.7" stroke="#3e3a39" stroke-width="1.3"/>
<line x1="753.2" y1="313.4" x2="753.2" y2="318.7" stroke="#3e3a39" stroke-width="1.3"/>
<line x1="756.4" y1="313.4" x2="756.4" y2="318.7" stroke="#3e3a39" stroke-width="1.3"/>
<line x1="759.2" y1="313.4" x2="759.2" y2="321.4" stroke="#3e3a39" stroke-width="1.3"/>
<text x="761" y="331.4" font-size="9" text-anchor="end" textLength="7.4" lengthAdjust="spacingAndGlyphs" stroke="#231815" stroke-width="0.35" fill="#231815">10</text>
<text x="761.5" y="326.2" font-size="7.2" textLength="3.8" lengthAdjust="spacingAndGlyphs" stroke="#231815" stroke-width="0.35" fill="#231815">3</text>
<line x1="777.7" y1="313.4" x2="777.7" y2="318.7" stroke="#3e3a39" stroke-width="1.3"/>
<line x1="788.6" y1="313.4" x2="788.6" y2="318.7" stroke="#3e3a39" stroke-width="1.3"/>
<line x1="796.3" y1="313.4" x2="796.3" y2="318.7" stroke="#3e3a39" stroke-width="1.3"/>
<line x1="802.3" y1="313.4" x2="802.3" y2="318.7" stroke="#3e3a39" stroke-width="1.3"/>
<line x1="807.1" y1="313.4" x2="807.1" y2="318.7" stroke="#3e3a39" stroke-width="1.3"/>
<line x1="811.3" y1="313.4" x2="811.3" y2="318.7" stroke="#3e3a39" stroke-width="1.3"/>
<line x1="814.8" y1="313.4" x2="814.8" y2="318.7" stroke="#3e3a39" stroke-width="1.3"/>
<line x1="818" y1="313.4" x2="818" y2="318.7" stroke="#3e3a39" stroke-width="1.3"/>
<line x1="820.8" y1="313.4" x2="820.8" y2="321.4" stroke="#3e3a39" stroke-width="1.3"/>
<text x="822.6" y="331.4" font-size="9" text-anchor="end" textLength="7.4" lengthAdjust="spacingAndGlyphs" stroke="#231815" stroke-width="0.35" fill="#231815">10</text>
<text x="823.1" y="326.2" font-size="7.2" textLength="3.8" lengthAdjust="spacingAndGlyphs" stroke="#231815" stroke-width="0.35" fill="#231815">4</text>
<line x1="839.3" y1="313.4" x2="839.3" y2="318.7" stroke="#3e3a39" stroke-width="1.3"/>
<line x1="850.2" y1="313.4" x2="850.2" y2="318.7" stroke="#3e3a39" stroke-width="1.3"/>
<line x1="857.9" y1="313.4" x2="857.9" y2="318.7" stroke="#3e3a39" stroke-width="1.3"/>
<line x1="863.9" y1="313.4" x2="863.9" y2="318.7" stroke="#3e3a39" stroke-width="1.3"/>
<line x1="868.7" y1="313.4" x2="868.7" y2="318.7" stroke="#3e3a39" stroke-width="1.3"/>
<line x1="872.9" y1="313.4" x2="872.9" y2="318.7" stroke="#3e3a39" stroke-width="1.3"/>
<line x1="876.4" y1="313.4" x2="876.4" y2="318.7" stroke="#3e3a39" stroke-width="1.3"/>
<line x1="879.6" y1="313.4" x2="879.6" y2="318.7" stroke="#3e3a39" stroke-width="1.3"/>
<line x1="882.4" y1="313.4" x2="882.4" y2="321.4" stroke="#3e3a39" stroke-width="1.3"/>
<text x="884.2" y="331.4" font-size="9" text-anchor="end" textLength="7.4" lengthAdjust="spacingAndGlyphs" stroke="#231815" stroke-width="0.35" fill="#231815">10</text>
<text x="884.7" y="326.2" font-size="7.2" textLength="3.8" lengthAdjust="spacingAndGlyphs" stroke="#231815" stroke-width="0.35" fill="#231815">5</text>
<line x1="900.9" y1="313.4" x2="900.9" y2="318.7" stroke="#3e3a39" stroke-width="1.3"/>
<clipPath id="h3"><rect x="662.7" y="64.4" width="246.6" height="248.5"/></clipPath>
<polygon clip-path="url(#h3)" points="662.7,313.4 662.7,312.8 663.6,310.4 664.5,309.9 665.4,311.7 666.3,313.4 667.2,313.4 668.1,313.4 669,313.4 669.9,313.3 670.8,313.4 671.7,313.4 672.6,313.4 673.5,313.4 674.4,311.8 675.3,313.2 676.2,313.4 677.1,312.5 678,313.4 678.9,312.4 679.8,310.3 680.7,310.3 681.6,310.2 682.5,312.5 683.4,309.8 684.3,312 685.2,311.7 686.1,308.9 687,310.6 687.9,310 688.8,307 689.7,306.3 690.6,307.5 691.5,313.4 692.4,306.9 693.3,304.8 694.2,302.4 695.1,313.4 696,307.4 696.9,301.9 697.8,302.9 698.7,301 699.6,293.9 700.5,299 701.4,286 702.3,288.9 703.2,279.4 704.1,283 705,263.7 705.9,277.4 706.8,257.3 707.7,276.8 708.6,260.7 709.5,253.3 710.4,238.1 711.3,224.2 712.2,215.8 713.1,247.8 714,206.6 714.9,188.6 715.8,217.8 716.7,217.8 717.6,200.3 718.5,183.4 719.4,156.8 720.3,136.1 721.2,141.7 722.1,108.5 723,138.5 723.9,113.1 724.8,98.8 725.7,78.8 726.6,104.1 727.5,77.9 728.4,78.3 729.3,92.6 730.2,79.8 731.1,92.6 732,94.9 732.9,102.7 733.8,129.1 734.7,96.2 735.6,106.8 736.5,107.8 737.4,104.4 738.3,82.2 739.2,76 740.1,72 741,70.9 741.9,118.2 742.8,101 743.7,118.6 744.6,109.7 745.5,80.5 746.4,132.8 747.3,124.8 748.2,153.1 749.1,132.6 750,152 750.9,151 751.8,161.6 752.7,148.7 753.6,123.4 754.5,114.3 755.4,100 756.3,81.5 757.2,102.7 758.1,79.8 759,102.8 759.9,102 760.8,145.9 761.7,153.3 762.6,151.7 763.5,153.7 764.4,134.1 765.3,139.1 766.2,131 767.1,114.6 768,127.7 768.9,147.3 769.8,114.3 770.7,113.1 771.6,148.1 772.5,118.7 773.4,122.7 774.3,126.1 775.2,137.1 776.1,139.7 777,159 777.9,160.7 778.8,173.3 779.7,155.9 780.6,179.9 781.5,161.4 782.4,167.6 783.3,146.2 784.2,156.6 785.1,119.7 786,158.8 786.9,181.8 787.8,171.8 788.7,148.9 789.6,150.5 790.5,147.8 791.4,143.6 792.3,130.4 793.2,145.3 794.1,150.9 795,184.3 795.9,146.1 796.8,165.9 797.7,150.5 798.6,183.4 799.5,190.3 800.4,184.1 801.3,153.4 802.2,168.2 803.1,194.4 804,164.5 804.9,154 805.8,168.7 806.7,181.4 807.6,158.4 808.5,171.9 809.4,178.6 810.3,166.5 811.2,166.4 812.1,163.7 813,157.8 813.9,165 814.8,154.9 815.7,169.3 816.6,174 817.5,183.6 818.4,212.6 819.3,159.7 820.2,197 821.1,189 822,195.7 822.9,181.9 823.8,194.5 824.7,182.5 825.6,210.5 826.5,196.3 827.4,199.6 828.3,180.4 829.2,198.9 830.1,203.4 831,181.4 831.9,213 832.8,216.9 833.7,196.9 834.6,212.9 835.5,221.4 836.4,211.9 837.3,214.9 838.2,205.7 839.1,226.7 840,233 840.9,224.6 841.8,224 842.7,246.6 843.6,214.9 844.5,227.2 845.4,241.8 846.3,239.1 847.2,229.6 848.1,230.9 849,232.4 849.9,244.7 850.8,233.6 851.7,244.3 852.6,236.7 853.5,270.5 854.4,265.7 855.3,257.6 856.2,267.5 857.1,271.9 858,257.3 858.9,256.6 859.8,255.3 860.7,284.6 861.6,276.1 862.5,274.1 863.4,278.8 864.3,278 865.2,293.7 866.1,280.8 867,290.6 867.9,289.8 868.8,279.3 869.7,283.2 870.6,282.9 871.5,289.3 872.4,277 873.3,290.8 874.2,287.3 875.1,287.9 876,293.5 876.9,290.7 877.8,297.8 878.7,289.1 879.6,304.8 880.5,297.5 881.4,298.2 882.3,294.9 883.2,302.6 884.1,297.5 885,308.8 885.9,312 886.8,306.1 887.7,309.1 888.6,307 889.5,303.3 890.4,306.3 891.3,303.6 892.2,304.7 893.1,307.5 894,309.7 894.9,306.1 895.8,308.1 896.7,307.4 897.6,312.3 898.5,313.4 899.4,313.4 900.3,312.2 901.2,312.4 902.1,313.2 903,310.7 903.9,310 904.8,312.2 905.7,311.2 906.6,312.8 907.5,309.5 908.4,309.6 909,313.4" fill="#ec6a6b" stroke="#e0341f" stroke-width="0.9" stroke-linejoin="miter" stroke-miterlimit="6"/>
<rect x="662.7" y="64.4" width="246.6" height="249" fill="none" stroke="#3e3a39" stroke-width="1.3"/>
<line x1="667.7" y1="64.4" x2="667.7" y2="313.4" stroke="#3e3a39" stroke-width="1.3"/>
<line x1="905.3" y1="64.4" x2="905.3" y2="313.4" stroke="#3e3a39" stroke-width="1.3"/>
<line x1="667.7" y1="259.4" x2="905.3" y2="259.4" stroke="#3e3a39" stroke-width="1.3"/>
<line x1="783" y1="63.4" x2="789.5" y2="63.4" stroke="#1a1a1a" stroke-width="1.8"/>
<text x="779.7" y="194" font-size="8.6" textLength="11" lengthAdjust="spacingAndGlyphs" stroke="#231815" stroke-width="0.12" fill="#231815">P2</text>
<line x1="937.9" y1="313.4" x2="945.9" y2="313.4" stroke="#3e3a39" stroke-width="1.3"/>
<text x="937.9" y="313.4" font-size="9.5" text-anchor="middle" transform="rotate(-90 937.9 313.4)" textLength="4.2" lengthAdjust="spacingAndGlyphs" stroke="#231815" stroke-width="0.45" fill="#231815">0</text>
<line x1="941.3" y1="307.8" x2="945.9" y2="307.8" stroke="#3e3a39" stroke-width="1.3"/>
<line x1="941.3" y1="302.2" x2="945.9" y2="302.2" stroke="#3e3a39" stroke-width="1.3"/>
<line x1="941.3" y1="296.7" x2="945.9" y2="296.7" stroke="#3e3a39" stroke-width="1.3"/>
<line x1="941.3" y1="291.1" x2="945.9" y2="291.1" stroke="#3e3a39" stroke-width="1.3"/>
<line x1="937.9" y1="285.5" x2="945.9" y2="285.5" stroke="#3e3a39" stroke-width="1.3"/>
<text x="937.9" y="285.5" font-size="9.5" text-anchor="middle" transform="rotate(-90 937.9 285.5)" textLength="8.4" lengthAdjust="spacingAndGlyphs" stroke="#231815" stroke-width="0.45" fill="#231815">10</text>
<line x1="941.3" y1="279.9" x2="945.9" y2="279.9" stroke="#3e3a39" stroke-width="1.3"/>
<line x1="941.3" y1="274.3" x2="945.9" y2="274.3" stroke="#3e3a39" stroke-width="1.3"/>
<line x1="941.3" y1="268.7" x2="945.9" y2="268.7" stroke="#3e3a39" stroke-width="1.3"/>
<line x1="941.3" y1="263.2" x2="945.9" y2="263.2" stroke="#3e3a39" stroke-width="1.3"/>
<line x1="937.9" y1="257.6" x2="945.9" y2="257.6" stroke="#3e3a39" stroke-width="1.3"/>
<text x="937.9" y="257.6" font-size="9.5" text-anchor="middle" transform="rotate(-90 937.9 257.6)" textLength="8.4" lengthAdjust="spacingAndGlyphs" stroke="#231815" stroke-width="0.45" fill="#231815">20</text>
<line x1="941.3" y1="252" x2="945.9" y2="252" stroke="#3e3a39" stroke-width="1.3"/>
<line x1="941.3" y1="246.4" x2="945.9" y2="246.4" stroke="#3e3a39" stroke-width="1.3"/>
<line x1="941.3" y1="240.8" x2="945.9" y2="240.8" stroke="#3e3a39" stroke-width="1.3"/>
<line x1="941.3" y1="235.2" x2="945.9" y2="235.2" stroke="#3e3a39" stroke-width="1.3"/>
<line x1="937.9" y1="229.7" x2="945.9" y2="229.7" stroke="#3e3a39" stroke-width="1.3"/>
<text x="937.9" y="229.7" font-size="9.5" text-anchor="middle" transform="rotate(-90 937.9 229.7)" textLength="8.4" lengthAdjust="spacingAndGlyphs" stroke="#231815" stroke-width="0.45" fill="#231815">30</text>
<line x1="941.3" y1="224.1" x2="945.9" y2="224.1" stroke="#3e3a39" stroke-width="1.3"/>
<line x1="941.3" y1="218.5" x2="945.9" y2="218.5" stroke="#3e3a39" stroke-width="1.3"/>
<line x1="941.3" y1="212.9" x2="945.9" y2="212.9" stroke="#3e3a39" stroke-width="1.3"/>
<line x1="941.3" y1="207.3" x2="945.9" y2="207.3" stroke="#3e3a39" stroke-width="1.3"/>
<line x1="937.9" y1="201.7" x2="945.9" y2="201.7" stroke="#3e3a39" stroke-width="1.3"/>
<text x="937.9" y="201.7" font-size="9.5" text-anchor="middle" transform="rotate(-90 937.9 201.7)" textLength="8.4" lengthAdjust="spacingAndGlyphs" stroke="#231815" stroke-width="0.45" fill="#231815">40</text>
<line x1="941.3" y1="196.2" x2="945.9" y2="196.2" stroke="#3e3a39" stroke-width="1.3"/>
<line x1="941.3" y1="190.6" x2="945.9" y2="190.6" stroke="#3e3a39" stroke-width="1.3"/>
<line x1="941.3" y1="185" x2="945.9" y2="185" stroke="#3e3a39" stroke-width="1.3"/>
<line x1="941.3" y1="179.4" x2="945.9" y2="179.4" stroke="#3e3a39" stroke-width="1.3"/>
<line x1="937.9" y1="173.8" x2="945.9" y2="173.8" stroke="#3e3a39" stroke-width="1.3"/>
<text x="937.9" y="173.8" font-size="9.5" text-anchor="middle" transform="rotate(-90 937.9 173.8)" textLength="8.4" lengthAdjust="spacingAndGlyphs" stroke="#231815" stroke-width="0.45" fill="#231815">50</text>
<line x1="941.3" y1="168.2" x2="945.9" y2="168.2" stroke="#3e3a39" stroke-width="1.3"/>
<line x1="941.3" y1="162.7" x2="945.9" y2="162.7" stroke="#3e3a39" stroke-width="1.3"/>
<line x1="941.3" y1="157.1" x2="945.9" y2="157.1" stroke="#3e3a39" stroke-width="1.3"/>
<line x1="941.3" y1="151.5" x2="945.9" y2="151.5" stroke="#3e3a39" stroke-width="1.3"/>
<line x1="937.9" y1="145.9" x2="945.9" y2="145.9" stroke="#3e3a39" stroke-width="1.3"/>
<text x="937.9" y="145.9" font-size="9.5" text-anchor="middle" transform="rotate(-90 937.9 145.9)" textLength="8.4" lengthAdjust="spacingAndGlyphs" stroke="#231815" stroke-width="0.45" fill="#231815">60</text>
<line x1="941.3" y1="140.3" x2="945.9" y2="140.3" stroke="#3e3a39" stroke-width="1.3"/>
<line x1="941.3" y1="134.7" x2="945.9" y2="134.7" stroke="#3e3a39" stroke-width="1.3"/>
<line x1="941.3" y1="129.2" x2="945.9" y2="129.2" stroke="#3e3a39" stroke-width="1.3"/>
<line x1="941.3" y1="123.6" x2="945.9" y2="123.6" stroke="#3e3a39" stroke-width="1.3"/>
<line x1="937.9" y1="118" x2="945.9" y2="118" stroke="#3e3a39" stroke-width="1.3"/>
<text x="937.9" y="118" font-size="9.5" text-anchor="middle" transform="rotate(-90 937.9 118)" textLength="8.4" lengthAdjust="spacingAndGlyphs" stroke="#231815" stroke-width="0.45" fill="#231815">70</text>
<line x1="941.3" y1="112.4" x2="945.9" y2="112.4" stroke="#3e3a39" stroke-width="1.3"/>
<line x1="941.3" y1="106.8" x2="945.9" y2="106.8" stroke="#3e3a39" stroke-width="1.3"/>
<line x1="941.3" y1="101.2" x2="945.9" y2="101.2" stroke="#3e3a39" stroke-width="1.3"/>
<line x1="941.3" y1="95.7" x2="945.9" y2="95.7" stroke="#3e3a39" stroke-width="1.3"/>
<line x1="937.9" y1="90.1" x2="945.9" y2="90.1" stroke="#3e3a39" stroke-width="1.3"/>
<text x="937.9" y="90.1" font-size="9.5" text-anchor="middle" transform="rotate(-90 937.9 90.1)" textLength="8.4" lengthAdjust="spacingAndGlyphs" stroke="#231815" stroke-width="0.45" fill="#231815">80</text>
<line x1="941.3" y1="84.5" x2="945.9" y2="84.5" stroke="#3e3a39" stroke-width="1.3"/>
<line x1="941.3" y1="78.9" x2="945.9" y2="78.9" stroke="#3e3a39" stroke-width="1.3"/>
<line x1="941.3" y1="73.3" x2="945.9" y2="73.3" stroke="#3e3a39" stroke-width="1.3"/>
<line x1="941.3" y1="67.7" x2="945.9" y2="67.7" stroke="#3e3a39" stroke-width="1.3"/>
<line x1="948.6" y1="313.4" x2="948.6" y2="318.7" stroke="#3e3a39" stroke-width="1.3"/>
<line x1="956.3" y1="313.4" x2="956.3" y2="318.7" stroke="#3e3a39" stroke-width="1.3"/>
<line x1="962.3" y1="313.4" x2="962.3" y2="318.7" stroke="#3e3a39" stroke-width="1.3"/>
<line x1="967.1" y1="313.4" x2="967.1" y2="318.7" stroke="#3e3a39" stroke-width="1.3"/>
<line x1="971.3" y1="313.4" x2="971.3" y2="318.7" stroke="#3e3a39" stroke-width="1.3"/>
<line x1="974.8" y1="313.4" x2="974.8" y2="318.7" stroke="#3e3a39" stroke-width="1.3"/>
<line x1="978" y1="313.4" x2="978" y2="318.7" stroke="#3e3a39" stroke-width="1.3"/>
<line x1="980.8" y1="313.4" x2="980.8" y2="321.4" stroke="#3e3a39" stroke-width="1.3"/>
<text x="982.6" y="331.4" font-size="9" text-anchor="end" textLength="7.4" lengthAdjust="spacingAndGlyphs" stroke="#231815" stroke-width="0.35" fill="#231815">10</text>
<text x="983.1" y="326.2" font-size="7.2" textLength="3.8" lengthAdjust="spacingAndGlyphs" stroke="#231815" stroke-width="0.35" fill="#231815">2</text>
<line x1="999.3" y1="313.4" x2="999.3" y2="318.7" stroke="#3e3a39" stroke-width="1.3"/>
<line x1="1010.2" y1="313.4" x2="1010.2" y2="318.7" stroke="#3e3a39" stroke-width="1.3"/>
<line x1="1017.9" y1="313.4" x2="1017.9" y2="318.7" stroke="#3e3a39" stroke-width="1.3"/>
<line x1="1023.9" y1="313.4" x2="1023.9" y2="318.7" stroke="#3e3a39" stroke-width="1.3"/>
<line x1="1028.7" y1="313.4" x2="1028.7" y2="318.7" stroke="#3e3a39" stroke-width="1.3"/>
<line x1="1032.9" y1="313.4" x2="1032.9" y2="318.7" stroke="#3e3a39" stroke-width="1.3"/>
<line x1="1036.4" y1="313.4" x2="1036.4" y2="318.7" stroke="#3e3a39" stroke-width="1.3"/>
<line x1="1039.6" y1="313.4" x2="1039.6" y2="318.7" stroke="#3e3a39" stroke-width="1.3"/>
<line x1="1042.4" y1="313.4" x2="1042.4" y2="321.4" stroke="#3e3a39" stroke-width="1.3"/>
<text x="1044.2" y="331.4" font-size="9" text-anchor="end" textLength="7.4" lengthAdjust="spacingAndGlyphs" stroke="#231815" stroke-width="0.35" fill="#231815">10</text>
<text x="1044.7" y="326.2" font-size="7.2" textLength="3.8" lengthAdjust="spacingAndGlyphs" stroke="#231815" stroke-width="0.35" fill="#231815">3</text>
<line x1="1060.9" y1="313.4" x2="1060.9" y2="318.7" stroke="#3e3a39" stroke-width="1.3"/>
<line x1="1071.8" y1="313.4" x2="1071.8" y2="318.7" stroke="#3e3a39" stroke-width="1.3"/>
<line x1="1079.5" y1="313.4" x2="1079.5" y2="318.7" stroke="#3e3a39" stroke-width="1.3"/>
<line x1="1085.5" y1="313.4" x2="1085.5" y2="318.7" stroke="#3e3a39" stroke-width="1.3"/>
<line x1="1090.3" y1="313.4" x2="1090.3" y2="318.7" stroke="#3e3a39" stroke-width="1.3"/>
<line x1="1094.5" y1="313.4" x2="1094.5" y2="318.7" stroke="#3e3a39" stroke-width="1.3"/>
<line x1="1098" y1="313.4" x2="1098" y2="318.7" stroke="#3e3a39" stroke-width="1.3"/>
<line x1="1101.2" y1="313.4" x2="1101.2" y2="318.7" stroke="#3e3a39" stroke-width="1.3"/>
<line x1="1104" y1="313.4" x2="1104" y2="321.4" stroke="#3e3a39" stroke-width="1.3"/>
<text x="1105.8" y="331.4" font-size="9" text-anchor="end" textLength="7.4" lengthAdjust="spacingAndGlyphs" stroke="#231815" stroke-width="0.35" fill="#231815">10</text>
<text x="1106.3" y="326.2" font-size="7.2" textLength="3.8" lengthAdjust="spacingAndGlyphs" stroke="#231815" stroke-width="0.35" fill="#231815">4</text>
<line x1="1122.5" y1="313.4" x2="1122.5" y2="318.7" stroke="#3e3a39" stroke-width="1.3"/>
<line x1="1133.4" y1="313.4" x2="1133.4" y2="318.7" stroke="#3e3a39" stroke-width="1.3"/>
<line x1="1141.1" y1="313.4" x2="1141.1" y2="318.7" stroke="#3e3a39" stroke-width="1.3"/>
<line x1="1147.1" y1="313.4" x2="1147.1" y2="318.7" stroke="#3e3a39" stroke-width="1.3"/>
<line x1="1151.9" y1="313.4" x2="1151.9" y2="318.7" stroke="#3e3a39" stroke-width="1.3"/>
<line x1="1156.1" y1="313.4" x2="1156.1" y2="318.7" stroke="#3e3a39" stroke-width="1.3"/>
<line x1="1159.6" y1="313.4" x2="1159.6" y2="318.7" stroke="#3e3a39" stroke-width="1.3"/>
<line x1="1162.8" y1="313.4" x2="1162.8" y2="318.7" stroke="#3e3a39" stroke-width="1.3"/>
<line x1="1165.6" y1="313.4" x2="1165.6" y2="321.4" stroke="#3e3a39" stroke-width="1.3"/>
<text x="1167.4" y="331.4" font-size="9" text-anchor="end" textLength="7.4" lengthAdjust="spacingAndGlyphs" stroke="#231815" stroke-width="0.35" fill="#231815">10</text>
<text x="1167.9" y="326.2" font-size="7.2" textLength="3.8" lengthAdjust="spacingAndGlyphs" stroke="#231815" stroke-width="0.35" fill="#231815">5</text>
<line x1="1184.1" y1="313.4" x2="1184.1" y2="318.7" stroke="#3e3a39" stroke-width="1.3"/>
<clipPath id="h4"><rect x="945.9" y="64.4" width="246.6" height="248.5"/></clipPath>
<polygon clip-path="url(#h4)" points="946,313.4 946,309.3 946.9,306.9 947.8,309.9 948.7,310.1 949.6,311.8 950.5,313.4 951.4,312.8 952.3,313.4 953.2,313.4 954.1,313.4 955,312.2 955.9,309.7 956.8,313.1 957.7,312.2 958.6,311.8 959.5,310.8 960.4,309.1 961.3,311.4 962.2,309.5 963.1,309.2 964,310.4 964.9,309.1 965.8,312.1 966.7,311.8 967.6,310.7 968.5,309.5 969.4,308.5 970.3,309.6 971.2,313.4 972.1,308.6 973,308.1 973.9,309.5 974.8,308.9 975.7,310 976.6,311.4 977.5,309.9 978.4,310 979.3,308.2 980.2,308.8 981.1,308.3 982,306.7 982.9,304.9 983.8,299.4 984.7,297.6 985.6,292.7 986.5,292 987.4,287.6 988.3,283.7 989.2,281.7 990.1,281.3 991,281.1 991.9,274.5 992.8,267.8 993.7,271.1 994.6,274.3 995.5,259.5 996.4,241.6 997.3,242.2 998.2,238.9 999.1,218.7 1000,233.8 1000.9,224.3 1001.8,221.7 1002.7,207.7 1003.6,193.7 1004.5,169 1005.4,178.9 1006.3,180.6 1007.2,165.4 1008.1,134.9 1009,118.4 1009.9,123.1 1010.8,113.6 1011.7,93.2 1012.6,119.4 1013.5,119.8 1014.4,118.9 1015.3,107 1016.2,120.4 1017.1,67.4 1018,99.5 1018.9,81.3 1019.8,78.6 1020.7,65.4 1021.6,119.2 1022.5,90.5 1023.4,107.9 1024.3,108.4 1025.2,79.5 1026.1,80.2 1027,108.2 1027.9,68.7 1028.8,100.9 1029.7,88.9 1030.6,97.4 1031.5,110.9 1032.4,134.5 1033.3,117.6 1034.2,119.2 1035.1,117.6 1036,65.4 1036.9,120.8 1037.8,97.8 1038.7,112.7 1039.6,120.3 1040.5,100.2 1041.4,106.7 1042.3,123.5 1043.2,144.8 1044.1,100.9 1045,112.9 1045.9,82.3 1046.8,69 1047.7,94.4 1048.6,115 1049.5,115.5 1050.4,139.9 1051.3,120.5 1052.2,126.6 1053.1,137.6 1054,125.5 1054.9,117.9 1055.8,117.6 1056.7,118.8 1057.6,97.2 1058.5,110.8 1059.4,104.7 1060.3,117.4 1061.2,99.8 1062.1,105.5 1063,65.4 1063.9,73.9 1064.8,86.6 1065.7,120.8 1066.6,115.3 1067.5,116.1 1068.4,117.9 1069.3,105 1070.2,116.2 1071.1,80.7 1072,65.8 1072.9,109.5 1073.8,100.2 1074.7,135.4 1075.6,132 1076.5,133.8 1077.4,79.1 1078.3,74.6 1079.2,74.2 1080.1,127.8 1081,122.4 1081.9,84.8 1082.8,80.3 1083.7,89.1 1084.6,111.1 1085.5,159.2 1086.4,115.6 1087.3,113.1 1088.2,92.2 1089.1,92.4 1090,111.3 1090.9,91.5 1091.8,83.6 1092.7,104.7 1093.6,74.2 1094.5,102 1095.4,122 1096.3,127.7 1097.2,119.8 1098.1,96.4 1099,123.1 1099.9,105.1 1100.8,83.6 1101.7,95.5 1102.6,103.4 1103.5,118.2 1104.4,116.7 1105.3,106.9 1106.2,116.9 1107.1,128.1 1108,107.5 1108.9,101.1 1109.8,115.1 1110.7,109.4 1111.6,147.3 1112.5,128.5 1113.4,135.5 1114.3,159.6 1115.2,165.7 1116.1,137.7 1117,155.1 1117.9,171.1 1118.8,150.4 1119.7,173.3 1120.6,180.9 1121.5,168.6 1122.4,142 1123.3,163 1124.2,176.2 1125.1,165.3 1126,198.4 1126.9,201.1 1127.8,217.2 1128.7,208.3 1129.6,198.7 1130.5,221.3 1131.4,217.1 1132.3,212 1133.2,216 1134.1,223 1135,223 1135.9,231.5 1136.8,230.8 1137.7,230.6 1138.6,235.2 1139.5,254.2 1140.4,252.5 1141.3,255 1142.2,258.7 1143.1,253.1 1144,258.1 1144.9,274.7 1145.8,253.8 1146.7,248.4 1147.6,256.8 1148.5,257 1149.4,262.2 1150.3,273.9 1151.2,277.1 1152.1,283.6 1153,290.7 1153.9,293.3 1154.8,287.7 1155.7,285 1156.6,285.9 1157.5,288.1 1158.4,286.9 1159.3,290.1 1160.2,288.4 1161.1,288.6 1162,291 1162.9,287.2 1163.8,297.5 1164.7,298.1 1165.6,298.9 1166.5,294.8 1167.4,290.7 1168.3,297.9 1169.2,297.8 1170.1,295.1 1171,293.8 1171.9,305.1 1172.8,298.1 1173.7,300.3 1174.6,296.6 1175.5,303.3 1176.4,306.9 1177.3,309.6 1178.2,307.5 1179.1,309.6 1180,306.1 1180.9,302.4 1181.8,300.6 1182.7,300.4 1183.6,303.7 1184.5,305.5 1185.4,306.6 1186.3,310.5 1187.2,309.2 1188.1,312.1 1189,305.3 1189.9,302.9 1190.8,302.6 1191.7,290.2 1191.9,313.4" fill="#ec6a6b" stroke="#e0341f" stroke-width="0.9" stroke-linejoin="miter" stroke-miterlimit="6"/>
<rect x="945.9" y="64.4" width="246.6" height="249" fill="none" stroke="#3e3a39" stroke-width="1.3"/>
<line x1="950.9" y1="64.4" x2="950.9" y2="313.4" stroke="#3e3a39" stroke-width="1.3"/>
<line x1="1188.5" y1="64.4" x2="1188.5" y2="313.4" stroke="#3e3a39" stroke-width="1.3"/>
<line x1="950.9" y1="259.4" x2="1188.5" y2="259.4" stroke="#3e3a39" stroke-width="1.3"/>
<line x1="1066.2" y1="63.4" x2="1072.7" y2="63.4" stroke="#1a1a1a" stroke-width="1.8"/>
<text x="1062.9" y="194" font-size="8.6" textLength="11" lengthAdjust="spacingAndGlyphs" stroke="#231815" stroke-width="0.12" fill="#231815">P2</text>
<line x1="1220.9" y1="313.4" x2="1228.9" y2="313.4" stroke="#3e3a39" stroke-width="1.3"/>
<text x="1220.9" y="313.4" font-size="9.5" text-anchor="middle" transform="rotate(-90 1220.9 313.4)" textLength="4.2" lengthAdjust="spacingAndGlyphs" stroke="#231815" stroke-width="0.45" fill="#231815">0</text>
<line x1="1224.3" y1="301.8" x2="1228.9" y2="301.8" stroke="#3e3a39" stroke-width="1.3"/>
<line x1="1224.3" y1="290.2" x2="1228.9" y2="290.2" stroke="#3e3a39" stroke-width="1.3"/>
<line x1="1224.3" y1="278.6" x2="1228.9" y2="278.6" stroke="#3e3a39" stroke-width="1.3"/>
<line x1="1224.3" y1="267" x2="1228.9" y2="267" stroke="#3e3a39" stroke-width="1.3"/>
<line x1="1220.9" y1="255.4" x2="1228.9" y2="255.4" stroke="#3e3a39" stroke-width="1.3"/>
<text x="1220.9" y="255.4" font-size="9.5" text-anchor="middle" transform="rotate(-90 1220.9 255.4)" textLength="8.4" lengthAdjust="spacingAndGlyphs" stroke="#231815" stroke-width="0.45" fill="#231815">25</text>
<line x1="1224.3" y1="243.8" x2="1228.9" y2="243.8" stroke="#3e3a39" stroke-width="1.3"/>
<line x1="1224.3" y1="232.3" x2="1228.9" y2="232.3" stroke="#3e3a39" stroke-width="1.3"/>
<line x1="1224.3" y1="220.7" x2="1228.9" y2="220.7" stroke="#3e3a39" stroke-width="1.3"/>
<line x1="1224.3" y1="209.1" x2="1228.9" y2="209.1" stroke="#3e3a39" stroke-width="1.3"/>
<line x1="1220.9" y1="197.5" x2="1228.9" y2="197.5" stroke="#3e3a39" stroke-width="1.3"/>
<text x="1220.9" y="197.5" font-size="9.5" text-anchor="middle" transform="rotate(-90 1220.9 197.5)" textLength="8.4" lengthAdjust="spacingAndGlyphs" stroke="#231815" stroke-width="0.45" fill="#231815">50</text>
<line x1="1224.3" y1="185.9" x2="1228.9" y2="185.9" stroke="#3e3a39" stroke-width="1.3"/>
<line x1="1224.3" y1="174.3" x2="1228.9" y2="174.3" stroke="#3e3a39" stroke-width="1.3"/>
<line x1="1224.3" y1="162.7" x2="1228.9" y2="162.7" stroke="#3e3a39" stroke-width="1.3"/>
<line x1="1224.3" y1="151.1" x2="1228.9" y2="151.1" stroke="#3e3a39" stroke-width="1.3"/>
<line x1="1220.9" y1="139.5" x2="1228.9" y2="139.5" stroke="#3e3a39" stroke-width="1.3"/>
<text x="1220.9" y="139.5" font-size="9.5" text-anchor="middle" transform="rotate(-90 1220.9 139.5)" textLength="8.4" lengthAdjust="spacingAndGlyphs" stroke="#231815" stroke-width="0.45" fill="#231815">75</text>
<line x1="1224.3" y1="127.9" x2="1228.9" y2="127.9" stroke="#3e3a39" stroke-width="1.3"/>
<line x1="1224.3" y1="116.3" x2="1228.9" y2="116.3" stroke="#3e3a39" stroke-width="1.3"/>
<line x1="1224.3" y1="104.7" x2="1228.9" y2="104.7" stroke="#3e3a39" stroke-width="1.3"/>
<line x1="1224.3" y1="93.1" x2="1228.9" y2="93.1" stroke="#3e3a39" stroke-width="1.3"/>
<line x1="1220.9" y1="81.6" x2="1228.9" y2="81.6" stroke="#3e3a39" stroke-width="1.3"/>
<text x="1220.9" y="81.6" font-size="9.5" text-anchor="middle" transform="rotate(-90 1220.9 81.6)" textLength="12.6" lengthAdjust="spacingAndGlyphs" stroke="#231815" stroke-width="0.45" fill="#231815">100</text>
<line x1="1224.3" y1="70" x2="1228.9" y2="70" stroke="#3e3a39" stroke-width="1.3"/>
<line x1="1231.6" y1="313.4" x2="1231.6" y2="318.7" stroke="#3e3a39" stroke-width="1.3"/>
<line x1="1239.3" y1="313.4" x2="1239.3" y2="318.7" stroke="#3e3a39" stroke-width="1.3"/>
<line x1="1245.3" y1="313.4" x2="1245.3" y2="318.7" stroke="#3e3a39" stroke-width="1.3"/>
<line x1="1250.1" y1="313.4" x2="1250.1" y2="318.7" stroke="#3e3a39" stroke-width="1.3"/>
<line x1="1254.3" y1="313.4" x2="1254.3" y2="318.7" stroke="#3e3a39" stroke-width="1.3"/>
<line x1="1257.8" y1="313.4" x2="1257.8" y2="318.7" stroke="#3e3a39" stroke-width="1.3"/>
<line x1="1261" y1="313.4" x2="1261" y2="318.7" stroke="#3e3a39" stroke-width="1.3"/>
<line x1="1263.8" y1="313.4" x2="1263.8" y2="321.4" stroke="#3e3a39" stroke-width="1.3"/>
<text x="1265.6" y="331.4" font-size="9" text-anchor="end" textLength="7.4" lengthAdjust="spacingAndGlyphs" stroke="#231815" stroke-width="0.35" fill="#231815">10</text>
<text x="1266.1" y="326.2" font-size="7.2" textLength="3.8" lengthAdjust="spacingAndGlyphs" stroke="#231815" stroke-width="0.35" fill="#231815">2</text>
<line x1="1282.3" y1="313.4" x2="1282.3" y2="318.7" stroke="#3e3a39" stroke-width="1.3"/>
<line x1="1293.2" y1="313.4" x2="1293.2" y2="318.7" stroke="#3e3a39" stroke-width="1.3"/>
<line x1="1300.9" y1="313.4" x2="1300.9" y2="318.7" stroke="#3e3a39" stroke-width="1.3"/>
<line x1="1306.9" y1="313.4" x2="1306.9" y2="318.7" stroke="#3e3a39" stroke-width="1.3"/>
<line x1="1311.7" y1="313.4" x2="1311.7" y2="318.7" stroke="#3e3a39" stroke-width="1.3"/>
<line x1="1315.9" y1="313.4" x2="1315.9" y2="318.7" stroke="#3e3a39" stroke-width="1.3"/>
<line x1="1319.4" y1="313.4" x2="1319.4" y2="318.7" stroke="#3e3a39" stroke-width="1.3"/>
<line x1="1322.6" y1="313.4" x2="1322.6" y2="318.7" stroke="#3e3a39" stroke-width="1.3"/>
<line x1="1325.4" y1="313.4" x2="1325.4" y2="321.4" stroke="#3e3a39" stroke-width="1.3"/>
<text x="1327.2" y="331.4" font-size="9" text-anchor="end" textLength="7.4" lengthAdjust="spacingAndGlyphs" stroke="#231815" stroke-width="0.35" fill="#231815">10</text>
<text x="1327.7" y="326.2" font-size="7.2" textLength="3.8" lengthAdjust="spacingAndGlyphs" stroke="#231815" stroke-width="0.35" fill="#231815">3</text>
<line x1="1343.9" y1="313.4" x2="1343.9" y2="318.7" stroke="#3e3a39" stroke-width="1.3"/>
<line x1="1354.8" y1="313.4" x2="1354.8" y2="318.7" stroke="#3e3a39" stroke-width="1.3"/>
<line x1="1362.5" y1="313.4" x2="1362.5" y2="318.7" stroke="#3e3a39" stroke-width="1.3"/>
<line x1="1368.5" y1="313.4" x2="1368.5" y2="318.7" stroke="#3e3a39" stroke-width="1.3"/>
<line x1="1373.3" y1="313.4" x2="1373.3" y2="318.7" stroke="#3e3a39" stroke-width="1.3"/>
<line x1="1377.5" y1="313.4" x2="1377.5" y2="318.7" stroke="#3e3a39" stroke-width="1.3"/>
<line x1="1381" y1="313.4" x2="1381" y2="318.7" stroke="#3e3a39" stroke-width="1.3"/>
<line x1="1384.2" y1="313.4" x2="1384.2" y2="318.7" stroke="#3e3a39" stroke-width="1.3"/>
<line x1="1387" y1="313.4" x2="1387" y2="321.4" stroke="#3e3a39" stroke-width="1.3"/>
<text x="1388.8" y="331.4" font-size="9" text-anchor="end" textLength="7.4" lengthAdjust="spacingAndGlyphs" stroke="#231815" stroke-width="0.35" fill="#231815">10</text>
<text x="1389.3" y="326.2" font-size="7.2" textLength="3.8" lengthAdjust="spacingAndGlyphs" stroke="#231815" stroke-width="0.35" fill="#231815">4</text>
<line x1="1405.5" y1="313.4" x2="1405.5" y2="318.7" stroke="#3e3a39" stroke-width="1.3"/>
<line x1="1416.4" y1="313.4" x2="1416.4" y2="318.7" stroke="#3e3a39" stroke-width="1.3"/>
<line x1="1424.1" y1="313.4" x2="1424.1" y2="318.7" stroke="#3e3a39" stroke-width="1.3"/>
<line x1="1430.1" y1="313.4" x2="1430.1" y2="318.7" stroke="#3e3a39" stroke-width="1.3"/>
<line x1="1434.9" y1="313.4" x2="1434.9" y2="318.7" stroke="#3e3a39" stroke-width="1.3"/>
<line x1="1439.1" y1="313.4" x2="1439.1" y2="318.7" stroke="#3e3a39" stroke-width="1.3"/>
<line x1="1442.6" y1="313.4" x2="1442.6" y2="318.7" stroke="#3e3a39" stroke-width="1.3"/>
<line x1="1445.8" y1="313.4" x2="1445.8" y2="318.7" stroke="#3e3a39" stroke-width="1.3"/>
<line x1="1448.6" y1="313.4" x2="1448.6" y2="321.4" stroke="#3e3a39" stroke-width="1.3"/>
<text x="1450.4" y="331.4" font-size="9" text-anchor="end" textLength="7.4" lengthAdjust="spacingAndGlyphs" stroke="#231815" stroke-width="0.35" fill="#231815">10</text>
<text x="1450.9" y="326.2" font-size="7.2" textLength="3.8" lengthAdjust="spacingAndGlyphs" stroke="#231815" stroke-width="0.35" fill="#231815">5</text>
<line x1="1467.1" y1="313.4" x2="1467.1" y2="318.7" stroke="#3e3a39" stroke-width="1.3"/>
<clipPath id="h5"><rect x="1228.9" y="64.4" width="246.6" height="248.5"/></clipPath>
<polygon clip-path="url(#h5)" points="1228.9,313.4 1228.9,313.4 1229.8,313.4 1230.7,313.4 1231.6,313.4 1232.5,313.4 1233.4,313.4 1234.3,313.4 1235.2,313.4 1236.1,313.4 1237,313.4 1237.9,313.4 1238.8,313.4 1239.7,311.5 1240.6,313.4 1241.5,313.4 1242.4,313.4 1243.3,310.5 1244.2,311.8 1245.1,311 1246,311.3 1246.9,313.3 1247.8,311.6 1248.7,310.8 1249.6,311.1 1250.5,311.4 1251.4,311.9 1252.3,311.9 1253.2,311.8 1254.1,312.7 1255,311 1255.9,311.3 1256.8,308.9 1257.7,311 1258.6,311.9 1259.5,303.3 1260.4,309.8 1261.3,303.6 1262.2,307.3 1263.1,308.1 1264,307 1264.9,309.4 1265.8,306.3 1266.7,308.8 1267.6,310.2 1268.5,307.5 1269.4,310.7 1270.3,304.6 1271.2,299.6 1272.1,303.6 1273,297.6 1273.9,303.3 1274.8,303.1 1275.7,298.1 1276.6,295.9 1277.5,290.7 1278.4,300.7 1279.3,292.9 1280.2,293.8 1281.1,288.2 1282,289.8 1282.9,283.9 1283.8,285.1 1284.7,283.2 1285.6,284.7 1286.5,260.8 1287.4,260 1288.3,258.6 1289.2,249.6 1290.1,256.9 1291,261.5 1291.9,246.5 1292.8,234.9 1293.7,264.6 1294.6,252.2 1295.5,255.3 1296.4,241 1297.3,210 1298.2,220.1 1299.1,188.2 1300,215 1300.9,216.2 1301.8,193.6 1302.7,216.8 1303.6,223 1304.5,205.5 1305.4,204 1306.3,205.7 1307.2,211.6 1308.1,228.1 1309,231.3 1309.9,208.2 1310.8,186 1311.7,200.3 1312.6,211.3 1313.5,158.4 1314.4,175.9 1315.3,186.3 1316.2,181.6 1317.1,181.9 1318,173.7 1318.9,206.4 1319.8,202 1320.7,187 1321.6,199.9 1322.5,198.1 1323.4,195.6 1324.3,184.4 1325.2,188.4 1326.1,174.8 1327,186 1327.9,177.9 1328.8,168.4 1329.7,169.3 1330.6,182.5 1331.5,163.1 1332.4,152 1333.3,165 1334.2,163.3 1335.1,151.7 1336,169.4 1336.9,136.4 1337.8,151.9 1338.7,132.8 1339.6,149.2 1340.5,129.2 1341.4,150.9 1342.3,113.4 1343.2,118.8 1344.1,126.2 1345,116.6 1345.9,98.1 1346.8,115.7 1347.7,100.4 1348.6,108.3 1349.5,122.3 1350.4,79.8 1351.3,87.1 1352.2,103.8 1353.1,96.6 1354,100.2 1354.9,69.6 1355.8,127.4 1356.7,76.7 1357.6,87.9 1358.5,80.1 1359.4,94.7 1360.3,99.4 1361.2,87.3 1362.1,101 1363,65.4 1363.9,129.1 1364.8,88.3 1365.7,96.7 1366.6,88.6 1367.5,91.3 1368.4,117.7 1369.3,88.9 1370.2,90.6 1371.1,74.1 1372,91.3 1372.9,65.4 1373.8,84.2 1374.7,115.8 1375.6,110.9 1376.5,102.4 1377.4,106.9 1378.3,99.6 1379.2,102.8 1380.1,79 1381,110.7 1381.9,92.7 1382.8,109.2 1383.7,93 1384.6,82.9 1385.5,102.2 1386.4,68.8 1387.3,93.4 1388.2,98.2 1389.1,72.6 1390,107.3 1390.9,74.9 1391.8,121.4 1392.7,109.6 1393.6,128.4 1394.5,88.3 1395.4,121.2 1396.3,139.5 1397.2,134.3 1398.1,138.5 1399,147.3 1399.9,159.5 1400.8,139.5 1401.7,155.2 1402.6,144 1403.5,163 1404.4,152.6 1405.3,175 1406.2,196.6 1407.1,177 1408,208.8 1408.9,204.3 1409.8,217 1410.7,205.8 1411.6,199.4 1412.5,214.7 1413.4,197.7 1414.3,203.8 1415.2,236.5 1416.1,190.1 1417,221.4 1417.9,226.8 1418.8,192.1 1419.7,200.4 1420.6,216.8 1421.5,217.9 1422.4,223.6 1423.3,222.7 1424.2,239.6 1425.1,266 1426,241.6 1426.9,251.9 1427.8,237.2 1428.7,231.5 1429.6,243.6 1430.5,233 1431.4,243.5 1432.3,250.8 1433.2,241.6 1434.1,237.8 1435,246.6 1435.9,241.6 1436.8,252.5 1437.7,264.1 1438.6,270.7 1439.5,275.6 1440.4,278.3 1441.3,276.2 1442.2,289.2 1443.1,290.8 1444,269.9 1444.9,283.9 1445.8,276 1446.7,279.3 1447.6,287.1 1448.5,285.6 1449.4,284 1450.3,279.3 1451.2,288.5 1452.1,272 1453,283.4 1453.9,291.4 1454.8,271.9 1455.7,297.5 1456.6,289.8 1457.5,281.7 1458.4,287.2 1459.3,290.8 1460.2,295.4 1461.1,297.6 1462,295.4 1462.9,299.4 1463.8,303.9 1464.7,295.9 1465.6,299.1 1466.5,293.1 1467.4,295.5 1468.3,303.8 1469.2,298.5 1470.1,308.7 1471,312.3 1471.9,312.3 1472.8,300.1 1473.7,300.5 1474.6,293.5 1474.9,313.4" fill="#ec6a6b" stroke="#e0341f" stroke-width="0.9" stroke-linejoin="miter" stroke-miterlimit="6"/>
<rect x="1228.9" y="64.4" width="246.6" height="249" fill="none" stroke="#3e3a39" stroke-width="1.3"/>
<line x1="1233.9" y1="64.4" x2="1233.9" y2="313.4" stroke="#3e3a39" stroke-width="1.3"/>
<line x1="1471.5" y1="64.4" x2="1471.5" y2="313.4" stroke="#3e3a39" stroke-width="1.3"/>
<line x1="1233.9" y1="259.4" x2="1471.5" y2="259.4" stroke="#3e3a39" stroke-width="1.3"/>
<line x1="1349.2" y1="63.4" x2="1355.7" y2="63.4" stroke="#1a1a1a" stroke-width="1.8"/>
<text x="1345.9" y="194" font-size="8.6" textLength="11" lengthAdjust="spacingAndGlyphs" stroke="#231815" stroke-width="0.12" fill="#231815">P2</text>
<line x1="1503.3" y1="313.4" x2="1511.3" y2="313.4" stroke="#3e3a39" stroke-width="1.3"/>
<text x="1503.3" y="313.4" font-size="9.5" text-anchor="middle" transform="rotate(-90 1503.3 313.4)" textLength="4.2" lengthAdjust="spacingAndGlyphs" stroke="#231815" stroke-width="0.45" fill="#231815">0</text>
<line x1="1506.7" y1="301.1" x2="1511.3" y2="301.1" stroke="#3e3a39" stroke-width="1.3"/>
<line x1="1506.7" y1="288.7" x2="1511.3" y2="288.7" stroke="#3e3a39" stroke-width="1.3"/>
<line x1="1506.7" y1="276.4" x2="1511.3" y2="276.4" stroke="#3e3a39" stroke-width="1.3"/>
<line x1="1506.7" y1="264.1" x2="1511.3" y2="264.1" stroke="#3e3a39" stroke-width="1.3"/>
<line x1="1503.3" y1="251.8" x2="1511.3" y2="251.8" stroke="#3e3a39" stroke-width="1.3"/>
<text x="1503.3" y="251.8" font-size="9.5" text-anchor="middle" transform="rotate(-90 1503.3 251.8)" textLength="8.4" lengthAdjust="spacingAndGlyphs" stroke="#231815" stroke-width="0.45" fill="#231815">25</text>
<line x1="1506.7" y1="239.4" x2="1511.3" y2="239.4" stroke="#3e3a39" stroke-width="1.3"/>
<line x1="1506.7" y1="227.1" x2="1511.3" y2="227.1" stroke="#3e3a39" stroke-width="1.3"/>
<line x1="1506.7" y1="214.8" x2="1511.3" y2="214.8" stroke="#3e3a39" stroke-width="1.3"/>
<line x1="1506.7" y1="202.5" x2="1511.3" y2="202.5" stroke="#3e3a39" stroke-width="1.3"/>
<line x1="1503.3" y1="190.1" x2="1511.3" y2="190.1" stroke="#3e3a39" stroke-width="1.3"/>
<text x="1503.3" y="190.1" font-size="9.5" text-anchor="middle" transform="rotate(-90 1503.3 190.1)" textLength="8.4" lengthAdjust="spacingAndGlyphs" stroke="#231815" stroke-width="0.45" fill="#231815">50</text>
<line x1="1506.7" y1="177.8" x2="1511.3" y2="177.8" stroke="#3e3a39" stroke-width="1.3"/>
<line x1="1506.7" y1="165.5" x2="1511.3" y2="165.5" stroke="#3e3a39" stroke-width="1.3"/>
<line x1="1506.7" y1="153.2" x2="1511.3" y2="153.2" stroke="#3e3a39" stroke-width="1.3"/>
<line x1="1506.7" y1="140.8" x2="1511.3" y2="140.8" stroke="#3e3a39" stroke-width="1.3"/>
<line x1="1503.3" y1="128.5" x2="1511.3" y2="128.5" stroke="#3e3a39" stroke-width="1.3"/>
<text x="1503.3" y="128.5" font-size="9.5" text-anchor="middle" transform="rotate(-90 1503.3 128.5)" textLength="8.4" lengthAdjust="spacingAndGlyphs" stroke="#231815" stroke-width="0.45" fill="#231815">75</text>
<line x1="1506.7" y1="116.2" x2="1511.3" y2="116.2" stroke="#3e3a39" stroke-width="1.3"/>
<line x1="1506.7" y1="103.8" x2="1511.3" y2="103.8" stroke="#3e3a39" stroke-width="1.3"/>
<line x1="1506.7" y1="91.5" x2="1511.3" y2="91.5" stroke="#3e3a39" stroke-width="1.3"/>
<line x1="1506.7" y1="79.2" x2="1511.3" y2="79.2" stroke="#3e3a39" stroke-width="1.3"/>
<line x1="1503.3" y1="66.9" x2="1511.3" y2="66.9" stroke="#3e3a39" stroke-width="1.3"/>
<clipPath id="cA6"><rect x="1491.3" y="62.2" width="20" height="24"/></clipPath><g clip-path="url(#cA6)">
<text x="1503.3" y="66.9" font-size="9.5" text-anchor="middle" transform="rotate(-90 1503.3 66.9)" textLength="12.6" lengthAdjust="spacingAndGlyphs" stroke="#231815" stroke-width="0.45" fill="#231815">100</text>
</g>
<line x1="1514" y1="313.4" x2="1514" y2="318.7" stroke="#3e3a39" stroke-width="1.3"/>
<line x1="1521.7" y1="313.4" x2="1521.7" y2="318.7" stroke="#3e3a39" stroke-width="1.3"/>
<line x1="1527.7" y1="313.4" x2="1527.7" y2="318.7" stroke="#3e3a39" stroke-width="1.3"/>
<line x1="1532.5" y1="313.4" x2="1532.5" y2="318.7" stroke="#3e3a39" stroke-width="1.3"/>
<line x1="1536.7" y1="313.4" x2="1536.7" y2="318.7" stroke="#3e3a39" stroke-width="1.3"/>
<line x1="1540.2" y1="313.4" x2="1540.2" y2="318.7" stroke="#3e3a39" stroke-width="1.3"/>
<line x1="1543.4" y1="313.4" x2="1543.4" y2="318.7" stroke="#3e3a39" stroke-width="1.3"/>
<line x1="1546.2" y1="313.4" x2="1546.2" y2="321.4" stroke="#3e3a39" stroke-width="1.3"/>
<text x="1548" y="331.4" font-size="9" text-anchor="end" textLength="7.4" lengthAdjust="spacingAndGlyphs" stroke="#231815" stroke-width="0.35" fill="#231815">10</text>
<text x="1548.5" y="326.2" font-size="7.2" textLength="3.8" lengthAdjust="spacingAndGlyphs" stroke="#231815" stroke-width="0.35" fill="#231815">2</text>
<line x1="1564.7" y1="313.4" x2="1564.7" y2="318.7" stroke="#3e3a39" stroke-width="1.3"/>
<line x1="1575.6" y1="313.4" x2="1575.6" y2="318.7" stroke="#3e3a39" stroke-width="1.3"/>
<line x1="1583.3" y1="313.4" x2="1583.3" y2="318.7" stroke="#3e3a39" stroke-width="1.3"/>
<line x1="1589.3" y1="313.4" x2="1589.3" y2="318.7" stroke="#3e3a39" stroke-width="1.3"/>
<line x1="1594.1" y1="313.4" x2="1594.1" y2="318.7" stroke="#3e3a39" stroke-width="1.3"/>
<line x1="1598.3" y1="313.4" x2="1598.3" y2="318.7" stroke="#3e3a39" stroke-width="1.3"/>
<line x1="1601.8" y1="313.4" x2="1601.8" y2="318.7" stroke="#3e3a39" stroke-width="1.3"/>
<line x1="1605" y1="313.4" x2="1605" y2="318.7" stroke="#3e3a39" stroke-width="1.3"/>
<line x1="1607.8" y1="313.4" x2="1607.8" y2="321.4" stroke="#3e3a39" stroke-width="1.3"/>
<text x="1609.6" y="331.4" font-size="9" text-anchor="end" textLength="7.4" lengthAdjust="spacingAndGlyphs" stroke="#231815" stroke-width="0.35" fill="#231815">10</text>
<text x="1610.1" y="326.2" font-size="7.2" textLength="3.8" lengthAdjust="spacingAndGlyphs" stroke="#231815" stroke-width="0.35" fill="#231815">3</text>
<line x1="1626.3" y1="313.4" x2="1626.3" y2="318.7" stroke="#3e3a39" stroke-width="1.3"/>
<line x1="1637.2" y1="313.4" x2="1637.2" y2="318.7" stroke="#3e3a39" stroke-width="1.3"/>
<line x1="1644.9" y1="313.4" x2="1644.9" y2="318.7" stroke="#3e3a39" stroke-width="1.3"/>
<line x1="1650.9" y1="313.4" x2="1650.9" y2="318.7" stroke="#3e3a39" stroke-width="1.3"/>
<line x1="1655.7" y1="313.4" x2="1655.7" y2="318.7" stroke="#3e3a39" stroke-width="1.3"/>
<line x1="1659.9" y1="313.4" x2="1659.9" y2="318.7" stroke="#3e3a39" stroke-width="1.3"/>
<line x1="1663.4" y1="313.4" x2="1663.4" y2="318.7" stroke="#3e3a39" stroke-width="1.3"/>
<line x1="1666.6" y1="313.4" x2="1666.6" y2="318.7" stroke="#3e3a39" stroke-width="1.3"/>
<line x1="1669.4" y1="313.4" x2="1669.4" y2="321.4" stroke="#3e3a39" stroke-width="1.3"/>
<text x="1671.2" y="331.4" font-size="9" text-anchor="end" textLength="7.4" lengthAdjust="spacingAndGlyphs" stroke="#231815" stroke-width="0.35" fill="#231815">10</text>
<text x="1671.7" y="326.2" font-size="7.2" textLength="3.8" lengthAdjust="spacingAndGlyphs" stroke="#231815" stroke-width="0.35" fill="#231815">4</text>
<line x1="1687.9" y1="313.4" x2="1687.9" y2="318.7" stroke="#3e3a39" stroke-width="1.3"/>
<line x1="1698.8" y1="313.4" x2="1698.8" y2="318.7" stroke="#3e3a39" stroke-width="1.3"/>
<line x1="1706.5" y1="313.4" x2="1706.5" y2="318.7" stroke="#3e3a39" stroke-width="1.3"/>
<line x1="1712.5" y1="313.4" x2="1712.5" y2="318.7" stroke="#3e3a39" stroke-width="1.3"/>
<line x1="1717.3" y1="313.4" x2="1717.3" y2="318.7" stroke="#3e3a39" stroke-width="1.3"/>
<line x1="1721.5" y1="313.4" x2="1721.5" y2="318.7" stroke="#3e3a39" stroke-width="1.3"/>
<line x1="1725" y1="313.4" x2="1725" y2="318.7" stroke="#3e3a39" stroke-width="1.3"/>
<line x1="1728.2" y1="313.4" x2="1728.2" y2="318.7" stroke="#3e3a39" stroke-width="1.3"/>
<line x1="1731" y1="313.4" x2="1731" y2="321.4" stroke="#3e3a39" stroke-width="1.3"/>
<text x="1732.8" y="331.4" font-size="9" text-anchor="end" textLength="7.4" lengthAdjust="spacingAndGlyphs" stroke="#231815" stroke-width="0.35" fill="#231815">10</text>
<text x="1733.3" y="326.2" font-size="7.2" textLength="3.8" lengthAdjust="spacingAndGlyphs" stroke="#231815" stroke-width="0.35" fill="#231815">5</text>
<line x1="1749.5" y1="313.4" x2="1749.5" y2="318.7" stroke="#3e3a39" stroke-width="1.3"/>
<clipPath id="h6"><rect x="1511.3" y="64.4" width="246.6" height="248.5"/></clipPath>
<polygon clip-path="url(#h6)" points="1511.3,313.4 1511.3,313.4 1512.2,311.5 1513.1,313.4 1514,313.4 1514.9,313.4 1515.8,313.4 1516.7,313.4 1517.6,313.4 1518.5,313.4 1519.4,313.4 1520.3,313.4 1521.2,313.1 1522.1,313.4 1523,313.4 1523.9,312.4 1524.8,313.4 1525.7,313.4 1526.6,313.4 1527.5,313.4 1528.4,313.4 1529.3,313.4 1530.2,311.1 1531.1,313.2 1532,312.1 1532.9,313.4 1533.8,309.9 1534.7,313.4 1535.6,313.4 1536.5,309.7 1537.4,310.9 1538.3,311.4 1539.2,313.4 1540.1,311.4 1541,311.3 1541.9,312.3 1542.8,310.3 1543.7,312.2 1544.6,311.8 1545.5,311.1 1546.4,311.2 1547.3,311.5 1548.2,308.7 1549.1,308 1550,306.1 1550.9,310.2 1551.8,310.9 1552.7,312.9 1553.6,301.3 1554.5,300.3 1555.4,299.6 1556.3,302.2 1557.2,303.9 1558.1,294.3 1559,294.8 1559.9,299.6 1560.8,297.8 1561.7,290.7 1562.6,298.3 1563.5,291.3 1564.4,294.7 1565.3,286.7 1566.2,276 1567.1,261.2 1568,259.8 1568.9,258 1569.8,285.4 1570.7,262.7 1571.6,249.3 1572.5,229 1573.4,233.6 1574.3,225 1575.2,222.3 1576.1,220.5 1577,234.2 1577.9,219.1 1578.8,227.3 1579.7,216.7 1580.6,231.1 1581.5,214.5 1582.4,232.6 1583.3,216 1584.2,233.7 1585.1,198.7 1586,203.1 1586.9,204.6 1587.8,197.8 1588.7,193.3 1589.6,210.6 1590.5,208.9 1591.4,208.5 1592.3,223.9 1593.2,231 1594.1,238 1595,241.9 1595.9,231.9 1596.8,238 1597.7,229.4 1598.6,239.1 1599.5,222.7 1600.4,227.6 1601.3,198.2 1602.2,199.5 1603.1,229.4 1604,216 1604.9,219.9 1605.8,203.6 1606.7,199.6 1607.6,181.9 1608.5,224.2 1609.4,223.9 1610.3,210.6 1611.2,221.6 1612.1,201.3 1613,162.8 1613.9,199.1 1614.8,206.4 1615.7,167.6 1616.6,189.8 1617.5,189.6 1618.4,211.3 1619.3,195.6 1620.2,203.8 1621.1,185.9 1622,168.1 1622.9,165.1 1623.8,193.9 1624.7,179 1625.6,184.7 1626.5,152.7 1627.4,174.3 1628.3,145.7 1629.2,144.8 1630.1,143.4 1631,118.6 1631.9,129 1632.8,109.5 1633.7,82.5 1634.6,65.4 1635.5,104.1 1636.4,92.3 1637.3,93.7 1638.2,101.6 1639.1,106.5 1640,72.5 1640.9,75.7 1641.8,78.8 1642.7,71.7 1643.6,93.2 1644.5,97 1645.4,91.8 1646.3,117.2 1647.2,88.6 1648.1,96.2 1649,77 1649.9,65.4 1650.8,83.9 1651.7,85 1652.6,80.5 1653.5,65.4 1654.4,100.3 1655.3,90.3 1656.2,121.8 1657.1,77.5 1658,70.5 1658.9,101.3 1659.8,118.3 1660.7,129.9 1661.6,88 1662.5,118.8 1663.4,141.8 1664.3,123.1 1665.2,137.3 1666.1,129 1667,117.8 1667.9,142.3 1668.8,108.9 1669.7,116.4 1670.6,115.5 1671.5,103.5 1672.4,116.4 1673.3,134.3 1674.2,156.2 1675.1,191 1676,136.5 1676.9,143.4 1677.8,138.9 1678.7,168.7 1679.6,156.4 1680.5,145.1 1681.4,146.5 1682.3,174.3 1683.2,174.2 1684.1,190.3 1685,189.6 1685.9,222.8 1686.8,195.7 1687.7,218.4 1688.6,175.9 1689.5,207.8 1690.4,209.4 1691.3,187.9 1692.2,162.4 1693.1,189.9 1694,195.1 1694.9,208.6 1695.8,219.8 1696.7,208 1697.6,217.1 1698.5,213.8 1699.4,228.8 1700.3,221 1701.2,227.1 1702.1,196.4 1703,229 1703.9,236.2 1704.8,223.1 1705.7,224.1 1706.6,229.8 1707.5,249.2 1708.4,233.2 1709.3,216.9 1710.2,231.8 1711.1,224.2 1712,223.9 1712.9,225.6 1713.8,264 1714.7,236.5 1715.6,230.1 1716.5,230.1 1717.4,270.7 1718.3,237.8 1719.2,241.3 1720.1,263.5 1721,238.5 1721.9,231.3 1722.8,246.3 1723.7,257.1 1724.6,239.3 1725.5,224.8 1726.4,262.9 1727.3,259.2 1728.2,257.7 1729.1,260.6 1730,267.1 1730.9,272.1 1731.8,263.2 1732.7,267.5 1733.6,275.9 1734.5,262.7 1735.4,270.8 1736.3,284.4 1737.2,259.7 1738.1,261.6 1739,263.7 1739.9,268 1740.8,265.1 1741.7,272.4 1742.6,279.2 1743.5,288.1 1744.4,296.9 1745.3,298.9 1746.2,292.8 1747.1,297.8 1748,299.9 1748.9,301.6 1749.8,304.1 1750.7,298.3 1751.6,296.1 1752.5,294.4 1753.4,295.6 1754.3,294.4 1755.2,291.9 1756.1,294.8 1757,273.9 1757.9,313.4" fill="#ec6a6b" stroke="#e0341f" stroke-width="0.9" stroke-linejoin="miter" stroke-miterlimit="6"/>
<rect x="1511.3" y="64.4" width="246.6" height="249" fill="none" stroke="#3e3a39" stroke-width="1.3"/>
<line x1="1516.3" y1="64.4" x2="1516.3" y2="313.4" stroke="#3e3a39" stroke-width="1.3"/>
<line x1="1753.9" y1="64.4" x2="1753.9" y2="313.4" stroke="#3e3a39" stroke-width="1.3"/>
<line x1="1516.3" y1="259.4" x2="1753.9" y2="259.4" stroke="#3e3a39" stroke-width="1.3"/>
<line x1="1631.6" y1="63.4" x2="1638.1" y2="63.4" stroke="#1a1a1a" stroke-width="1.8"/>
<text x="1628.3" y="194" font-size="8.6" textLength="11" lengthAdjust="spacingAndGlyphs" stroke="#231815" stroke-width="0.12" fill="#231815">P2</text>
<line x1="89.5" y1="745.5" x2="97.5" y2="745.5" stroke="#3e3a39" stroke-width="1.3"/>
<text x="89.5" y="745.5" font-size="9.5" text-anchor="middle" transform="rotate(-90 89.5 745.5)" textLength="4.2" lengthAdjust="spacingAndGlyphs" stroke="#231815" stroke-width="0.45" fill="#231815">0</text>
<line x1="92.9" y1="734" x2="97.5" y2="734" stroke="#3e3a39" stroke-width="1.3"/>
<line x1="92.9" y1="722.5" x2="97.5" y2="722.5" stroke="#3e3a39" stroke-width="1.3"/>
<line x1="92.9" y1="711" x2="97.5" y2="711" stroke="#3e3a39" stroke-width="1.3"/>
<line x1="92.9" y1="699.5" x2="97.5" y2="699.5" stroke="#3e3a39" stroke-width="1.3"/>
<line x1="89.5" y1="688" x2="97.5" y2="688" stroke="#3e3a39" stroke-width="1.3"/>
<text x="89.5" y="688" font-size="9.5" text-anchor="middle" transform="rotate(-90 89.5 688)" textLength="8.4" lengthAdjust="spacingAndGlyphs" stroke="#231815" stroke-width="0.45" fill="#231815">25</text>
<line x1="92.9" y1="676.5" x2="97.5" y2="676.5" stroke="#3e3a39" stroke-width="1.3"/>
<line x1="92.9" y1="665" x2="97.5" y2="665" stroke="#3e3a39" stroke-width="1.3"/>
<line x1="92.9" y1="653.4" x2="97.5" y2="653.4" stroke="#3e3a39" stroke-width="1.3"/>
<line x1="92.9" y1="641.9" x2="97.5" y2="641.9" stroke="#3e3a39" stroke-width="1.3"/>
<line x1="89.5" y1="630.4" x2="97.5" y2="630.4" stroke="#3e3a39" stroke-width="1.3"/>
<text x="89.5" y="630.4" font-size="9.5" text-anchor="middle" transform="rotate(-90 89.5 630.4)" textLength="8.4" lengthAdjust="spacingAndGlyphs" stroke="#231815" stroke-width="0.45" fill="#231815">50</text>
<line x1="92.9" y1="618.9" x2="97.5" y2="618.9" stroke="#3e3a39" stroke-width="1.3"/>
<line x1="92.9" y1="607.4" x2="97.5" y2="607.4" stroke="#3e3a39" stroke-width="1.3"/>
<line x1="92.9" y1="595.9" x2="97.5" y2="595.9" stroke="#3e3a39" stroke-width="1.3"/>
<line x1="92.9" y1="584.4" x2="97.5" y2="584.4" stroke="#3e3a39" stroke-width="1.3"/>
<line x1="89.5" y1="572.9" x2="97.5" y2="572.9" stroke="#3e3a39" stroke-width="1.3"/>
<text x="89.5" y="572.9" font-size="9.5" text-anchor="middle" transform="rotate(-90 89.5 572.9)" textLength="8.4" lengthAdjust="spacingAndGlyphs" stroke="#231815" stroke-width="0.45" fill="#231815">75</text>
<line x1="92.9" y1="561.4" x2="97.5" y2="561.4" stroke="#3e3a39" stroke-width="1.3"/>
<line x1="92.9" y1="549.9" x2="97.5" y2="549.9" stroke="#3e3a39" stroke-width="1.3"/>
<line x1="92.9" y1="538.4" x2="97.5" y2="538.4" stroke="#3e3a39" stroke-width="1.3"/>
<line x1="92.9" y1="526.9" x2="97.5" y2="526.9" stroke="#3e3a39" stroke-width="1.3"/>
<line x1="89.5" y1="515.4" x2="97.5" y2="515.4" stroke="#3e3a39" stroke-width="1.3"/>
<text x="89.5" y="515.4" font-size="9.5" text-anchor="middle" transform="rotate(-90 89.5 515.4)" textLength="12.6" lengthAdjust="spacingAndGlyphs" stroke="#231815" stroke-width="0.45" fill="#231815">100</text>
<line x1="92.9" y1="503.9" x2="97.5" y2="503.9" stroke="#3e3a39" stroke-width="1.3"/>
<line x1="100.2" y1="745.5" x2="100.2" y2="750.8" stroke="#3e3a39" stroke-width="1.3"/>
<line x1="107.9" y1="745.5" x2="107.9" y2="750.8" stroke="#3e3a39" stroke-width="1.3"/>
<line x1="113.9" y1="745.5" x2="113.9" y2="750.8" stroke="#3e3a39" stroke-width="1.3"/>
<line x1="118.7" y1="745.5" x2="118.7" y2="750.8" stroke="#3e3a39" stroke-width="1.3"/>
<line x1="122.9" y1="745.5" x2="122.9" y2="750.8" stroke="#3e3a39" stroke-width="1.3"/>
<line x1="126.4" y1="745.5" x2="126.4" y2="750.8" stroke="#3e3a39" stroke-width="1.3"/>
<line x1="129.6" y1="745.5" x2="129.6" y2="750.8" stroke="#3e3a39" stroke-width="1.3"/>
<line x1="132.4" y1="745.5" x2="132.4" y2="753.5" stroke="#3e3a39" stroke-width="1.3"/>
<text x="134.2" y="763.5" font-size="9" text-anchor="end" textLength="7.4" lengthAdjust="spacingAndGlyphs" stroke="#231815" stroke-width="0.35" fill="#231815">10</text>
<text x="134.7" y="758.3" font-size="7.2" textLength="3.8" lengthAdjust="spacingAndGlyphs" stroke="#231815" stroke-width="0.35" fill="#231815">2</text>
<line x1="150.9" y1="745.5" x2="150.9" y2="750.8" stroke="#3e3a39" stroke-width="1.3"/>
<line x1="161.8" y1="745.5" x2="161.8" y2="750.8" stroke="#3e3a39" stroke-width="1.3"/>
<line x1="169.5" y1="745.5" x2="169.5" y2="750.8" stroke="#3e3a39" stroke-width="1.3"/>
<line x1="175.5" y1="745.5" x2="175.5" y2="750.8" stroke="#3e3a39" stroke-width="1.3"/>
<line x1="180.3" y1="745.5" x2="180.3" y2="750.8" stroke="#3e3a39" stroke-width="1.3"/>
<line x1="184.5" y1="745.5" x2="184.5" y2="750.8" stroke="#3e3a39" stroke-width="1.3"/>
<line x1="188" y1="745.5" x2="188" y2="750.8" stroke="#3e3a39" stroke-width="1.3"/>
<line x1="191.2" y1="745.5" x2="191.2" y2="750.8" stroke="#3e3a39" stroke-width="1.3"/>
<line x1="194" y1="745.5" x2="194" y2="753.5" stroke="#3e3a39" stroke-width="1.3"/>
<text x="195.8" y="763.5" font-size="9" text-anchor="end" textLength="7.4" lengthAdjust="spacingAndGlyphs" stroke="#231815" stroke-width="0.35" fill="#231815">10</text>
<text x="196.3" y="758.3" font-size="7.2" textLength="3.8" lengthAdjust="spacingAndGlyphs" stroke="#231815" stroke-width="0.35" fill="#231815">3</text>
<line x1="212.5" y1="745.5" x2="212.5" y2="750.8" stroke="#3e3a39" stroke-width="1.3"/>
<line x1="223.4" y1="745.5" x2="223.4" y2="750.8" stroke="#3e3a39" stroke-width="1.3"/>
<line x1="231.1" y1="745.5" x2="231.1" y2="750.8" stroke="#3e3a39" stroke-width="1.3"/>
<line x1="237.1" y1="745.5" x2="237.1" y2="750.8" stroke="#3e3a39" stroke-width="1.3"/>
<line x1="241.9" y1="745.5" x2="241.9" y2="750.8" stroke="#3e3a39" stroke-width="1.3"/>
<line x1="246.1" y1="745.5" x2="246.1" y2="750.8" stroke="#3e3a39" stroke-width="1.3"/>
<line x1="249.6" y1="745.5" x2="249.6" y2="750.8" stroke="#3e3a39" stroke-width="1.3"/>
<line x1="252.8" y1="745.5" x2="252.8" y2="750.8" stroke="#3e3a39" stroke-width="1.3"/>
<line x1="255.6" y1="745.5" x2="255.6" y2="753.5" stroke="#3e3a39" stroke-width="1.3"/>
<text x="257.4" y="763.5" font-size="9" text-anchor="end" textLength="7.4" lengthAdjust="spacingAndGlyphs" stroke="#231815" stroke-width="0.35" fill="#231815">10</text>
<text x="257.9" y="758.3" font-size="7.2" textLength="3.8" lengthAdjust="spacingAndGlyphs" stroke="#231815" stroke-width="0.35" fill="#231815">4</text>
<line x1="274.1" y1="745.5" x2="274.1" y2="750.8" stroke="#3e3a39" stroke-width="1.3"/>
<line x1="285" y1="745.5" x2="285" y2="750.8" stroke="#3e3a39" stroke-width="1.3"/>
<line x1="292.7" y1="745.5" x2="292.7" y2="750.8" stroke="#3e3a39" stroke-width="1.3"/>
<line x1="298.7" y1="745.5" x2="298.7" y2="750.8" stroke="#3e3a39" stroke-width="1.3"/>
<line x1="303.5" y1="745.5" x2="303.5" y2="750.8" stroke="#3e3a39" stroke-width="1.3"/>
<line x1="307.7" y1="745.5" x2="307.7" y2="750.8" stroke="#3e3a39" stroke-width="1.3"/>
<line x1="311.2" y1="745.5" x2="311.2" y2="750.8" stroke="#3e3a39" stroke-width="1.3"/>
<line x1="314.4" y1="745.5" x2="314.4" y2="750.8" stroke="#3e3a39" stroke-width="1.3"/>
<line x1="317.2" y1="745.5" x2="317.2" y2="753.5" stroke="#3e3a39" stroke-width="1.3"/>
<text x="319" y="763.5" font-size="9" text-anchor="end" textLength="7.4" lengthAdjust="spacingAndGlyphs" stroke="#231815" stroke-width="0.35" fill="#231815">10</text>
<text x="319.5" y="758.3" font-size="7.2" textLength="3.8" lengthAdjust="spacingAndGlyphs" stroke="#231815" stroke-width="0.35" fill="#231815">5</text>
<line x1="335.7" y1="745.5" x2="335.7" y2="750.8" stroke="#3e3a39" stroke-width="1.3"/>
<clipPath id="h7"><rect x="97.5" y="496.5" width="246.6" height="248.5"/></clipPath>
<polygon clip-path="url(#h7)" points="97.7,745.5 97.7,745.5 98.6,745.5 99.5,745.5 100.4,745.1 101.3,745.5 102.2,745.5 103.1,745.5 104,745.5 104.9,744.4 105.8,745.5 106.7,745.5 107.6,745.5 108.5,745.5 109.4,745.5 110.3,745.5 111.2,745.5 112.1,745.5 113,745.5 113.9,745.5 114.8,745.5 115.7,745.5 116.6,745.5 117.5,745.5 118.4,745.5 119.3,745.5 120.2,745.5 121.1,745.5 122,745.5 122.9,745.5 123.8,745.5 124.7,745.5 125.6,745.5 126.5,745.5 127.4,745.5 128.3,745.5 129.2,745.5 130.1,745.5 131,745.5 131.9,745.5 132.8,745.5 133.7,745.5 134.6,745.2 135.5,745.5 136.4,745.5 137.3,744.2 138.2,743.9 139.1,741.7 140,740.6 140.9,738.4 141.8,744.3 142.7,741.5 143.6,741.9 144.5,741.3 145.4,742.1 146.3,743.3 147.2,738.9 148.1,743.7 149,736.7 149.9,738.4 150.8,742.6 151.7,737.3 152.6,733 153.5,729.7 154.4,724.3 155.3,732.6 156.2,738 157.1,733.2 158,730.6 158.9,730.8 159.8,728.9 160.7,728.3 161.6,731.6 162.5,727.8 163.4,722.9 164.3,719.9 165.2,715.2 166.1,724.5 167,722.2 167.9,721.2 168.8,715.6 169.7,713.7 170.6,709.7 171.5,706.7 172.4,702.1 173.3,702.7 174.2,709.1 175.1,696.1 176,694.2 176.9,685.9 177.8,696.4 178.7,688.8 179.6,689.1 180.5,669.9 181.4,681.3 182.3,680 183.2,676.1 184.1,644.6 185,652.8 185.9,647.5 186.8,686.1 187.7,655.4 188.6,646.7 189.5,645.1 190.4,665.8 191.3,633.2 192.2,613.4 193.1,641 194,644.7 194.9,635.7 195.8,636.6 196.7,630.1 197.6,600.7 198.5,614.7 199.4,607.1 200.3,607.1 201.2,594.4 202.1,617.1 203,613.1 203.9,624.5 204.8,627.2 205.7,619.9 206.6,615.4 207.5,608.2 208.4,592.1 209.3,597.5 210.2,618.8 211.1,597.1 212,581.7 212.9,593.5 213.8,590.2 214.7,600.2 215.6,587.1 216.5,606 217.4,584.7 218.3,587.9 219.2,591.1 220.1,562.2 221,597.4 221.9,583.5 222.8,562.6 223.7,592.5 224.6,538.3 225.5,548.1 226.4,556 227.3,534.5 228.2,548.2 229.1,537.5 230,541.9 230.9,542 231.8,542.4 232.7,523.4 233.6,527.2 234.5,543.1 235.4,533 236.3,517 237.2,529 238.1,531.1 239,520.3 239.9,512.5 240.8,542.7 241.7,497.5 242.6,498.2 243.5,522.7 244.4,545.8 245.3,509.9 246.2,526 247.1,528.9 248,509.3 248.9,546.9 249.8,537.2 250.7,525.4 251.6,540.9 252.5,522.3 253.4,524.2 254.3,526.7 255.2,586.5 256.1,521.9 257,556.8 257.9,515.7 258.8,525.2 259.7,532.1 260.6,542.2 261.5,579.7 262.4,555.5 263.3,554.3 264.2,563.4 265.1,555.8 266,558 266.9,548.3 267.8,541.7 268.7,506.2 269.6,539.5 270.5,550.9 271.4,549.9 272.3,555.9 273.2,536.8 274.1,564.1 275,538.6 275.9,548.7 276.8,547.7 277.7,527.9 278.6,578.3 279.5,550.9 280.4,564.6 281.3,555.7 282.2,527.1 283.1,534.6 284,562.3 284.9,571.5 285.8,572.1 286.7,574.5 287.6,576.1 288.5,564.7 289.4,571.8 290.3,617.1 291.2,565.7 292.1,590.6 293,590.6 293.9,593.7 294.8,599.3 295.7,594.3 296.6,601.3 297.5,593.7 298.4,579.4 299.3,590.2 300.2,604.4 301.1,614.3 302,633.1 302.9,657.5 303.8,639.9 304.7,646.8 305.6,653.6 306.5,624.3 307.4,642.6 308.3,658.2 309.2,664.5 310.1,668.5 311,680.7 311.9,658 312.8,688.5 313.7,692.7 314.6,694.9 315.5,699.1 316.4,697.8 317.3,702.1 318.2,719.4 319.1,700.2 320,718.7 320.9,703.9 321.8,733.7 322.7,720.7 323.6,732.1 324.5,731.3 325.4,738.1 326.3,739.1 327.2,732.8 328.1,729.3 329,740 329.9,733.7 330.8,736 331.7,737.9 332.6,738.7 333.5,742 334.4,742.6 335.3,745.5 336.2,739.9 337.1,742.4 338,743.1 338.9,739.9 339.8,742.8 340.7,739.4 341.6,733.9 342.5,720.4 343.1,745.5" fill="#ec6a6b" stroke="#e0341f" stroke-width="0.9" stroke-linejoin="miter" stroke-miterlimit="6"/>
<rect x="97.5" y="496.5" width="246.6" height="249" fill="none" stroke="#3e3a39" stroke-width="1.3"/>
<line x1="102.5" y1="496.5" x2="102.5" y2="745.5" stroke="#3e3a39" stroke-width="1.3"/>
<line x1="340.1" y1="496.5" x2="340.1" y2="745.5" stroke="#3e3a39" stroke-width="1.3"/>
<line x1="102.5" y1="691.5" x2="340.1" y2="691.5" stroke="#3e3a39" stroke-width="1.3"/>
<line x1="217.8" y1="495.5" x2="224.3" y2="495.5" stroke="#1a1a1a" stroke-width="1.8"/>
<text x="214.5" y="626.1" font-size="8.6" textLength="11" lengthAdjust="spacingAndGlyphs" stroke="#231815" stroke-width="0.12" fill="#231815">P2</text>
<line x1="372.3" y1="745.5" x2="380.3" y2="745.5" stroke="#3e3a39" stroke-width="1.3"/>
<text x="372.3" y="745.5" font-size="9.5" text-anchor="middle" transform="rotate(-90 372.3 745.5)" textLength="4.2" lengthAdjust="spacingAndGlyphs" stroke="#231815" stroke-width="0.45" fill="#231815">0</text>
<line x1="375.7" y1="734.3" x2="380.3" y2="734.3" stroke="#3e3a39" stroke-width="1.3"/>
<line x1="375.7" y1="723.1" x2="380.3" y2="723.1" stroke="#3e3a39" stroke-width="1.3"/>
<line x1="375.7" y1="711.9" x2="380.3" y2="711.9" stroke="#3e3a39" stroke-width="1.3"/>
<line x1="375.7" y1="700.7" x2="380.3" y2="700.7" stroke="#3e3a39" stroke-width="1.3"/>
<line x1="372.3" y1="689.5" x2="380.3" y2="689.5" stroke="#3e3a39" stroke-width="1.3"/>
<text x="372.3" y="689.5" font-size="9.5" text-anchor="middle" transform="rotate(-90 372.3 689.5)" textLength="8.4" lengthAdjust="spacingAndGlyphs" stroke="#231815" stroke-width="0.45" fill="#231815">25</text>
<line x1="375.7" y1="678.3" x2="380.3" y2="678.3" stroke="#3e3a39" stroke-width="1.3"/>
<line x1="375.7" y1="667.1" x2="380.3" y2="667.1" stroke="#3e3a39" stroke-width="1.3"/>
<line x1="375.7" y1="655.9" x2="380.3" y2="655.9" stroke="#3e3a39" stroke-width="1.3"/>
<line x1="375.7" y1="644.7" x2="380.3" y2="644.7" stroke="#3e3a39" stroke-width="1.3"/>
<line x1="372.3" y1="633.5" x2="380.3" y2="633.5" stroke="#3e3a39" stroke-width="1.3"/>
<text x="372.3" y="633.5" font-size="9.5" text-anchor="middle" transform="rotate(-90 372.3 633.5)" textLength="8.4" lengthAdjust="spacingAndGlyphs" stroke="#231815" stroke-width="0.45" fill="#231815">50</text>
<line x1="375.7" y1="622.3" x2="380.3" y2="622.3" stroke="#3e3a39" stroke-width="1.3"/>
<line x1="375.7" y1="611.1" x2="380.3" y2="611.1" stroke="#3e3a39" stroke-width="1.3"/>
<line x1="375.7" y1="600" x2="380.3" y2="600" stroke="#3e3a39" stroke-width="1.3"/>
<line x1="375.7" y1="588.8" x2="380.3" y2="588.8" stroke="#3e3a39" stroke-width="1.3"/>
<line x1="372.3" y1="577.6" x2="380.3" y2="577.6" stroke="#3e3a39" stroke-width="1.3"/>
<text x="372.3" y="577.6" font-size="9.5" text-anchor="middle" transform="rotate(-90 372.3 577.6)" textLength="8.4" lengthAdjust="spacingAndGlyphs" stroke="#231815" stroke-width="0.45" fill="#231815">75</text>
<line x1="375.7" y1="566.4" x2="380.3" y2="566.4" stroke="#3e3a39" stroke-width="1.3"/>
<line x1="375.7" y1="555.2" x2="380.3" y2="555.2" stroke="#3e3a39" stroke-width="1.3"/>
<line x1="375.7" y1="544" x2="380.3" y2="544" stroke="#3e3a39" stroke-width="1.3"/>
<line x1="375.7" y1="532.8" x2="380.3" y2="532.8" stroke="#3e3a39" stroke-width="1.3"/>
<line x1="372.3" y1="521.6" x2="380.3" y2="521.6" stroke="#3e3a39" stroke-width="1.3"/>
<text x="372.3" y="521.6" font-size="9.5" text-anchor="middle" transform="rotate(-90 372.3 521.6)" textLength="12.6" lengthAdjust="spacingAndGlyphs" stroke="#231815" stroke-width="0.45" fill="#231815">100</text>
<line x1="375.7" y1="510.4" x2="380.3" y2="510.4" stroke="#3e3a39" stroke-width="1.3"/>
<line x1="375.7" y1="499.2" x2="380.3" y2="499.2" stroke="#3e3a39" stroke-width="1.3"/>
<line x1="383" y1="745.5" x2="383" y2="750.8" stroke="#3e3a39" stroke-width="1.3"/>
<line x1="390.7" y1="745.5" x2="390.7" y2="750.8" stroke="#3e3a39" stroke-width="1.3"/>
<line x1="396.7" y1="745.5" x2="396.7" y2="750.8" stroke="#3e3a39" stroke-width="1.3"/>
<line x1="401.5" y1="745.5" x2="401.5" y2="750.8" stroke="#3e3a39" stroke-width="1.3"/>
<line x1="405.7" y1="745.5" x2="405.7" y2="750.8" stroke="#3e3a39" stroke-width="1.3"/>
<line x1="409.2" y1="745.5" x2="409.2" y2="750.8" stroke="#3e3a39" stroke-width="1.3"/>
<line x1="412.4" y1="745.5" x2="412.4" y2="750.8" stroke="#3e3a39" stroke-width="1.3"/>
<line x1="415.2" y1="745.5" x2="415.2" y2="753.5" stroke="#3e3a39" stroke-width="1.3"/>
<text x="417" y="763.5" font-size="9" text-anchor="end" textLength="7.4" lengthAdjust="spacingAndGlyphs" stroke="#231815" stroke-width="0.35" fill="#231815">10</text>
<text x="417.5" y="758.3" font-size="7.2" textLength="3.8" lengthAdjust="spacingAndGlyphs" stroke="#231815" stroke-width="0.35" fill="#231815">2</text>
<line x1="433.7" y1="745.5" x2="433.7" y2="750.8" stroke="#3e3a39" stroke-width="1.3"/>
<line x1="444.6" y1="745.5" x2="444.6" y2="750.8" stroke="#3e3a39" stroke-width="1.3"/>
<line x1="452.3" y1="745.5" x2="452.3" y2="750.8" stroke="#3e3a39" stroke-width="1.3"/>
<line x1="458.3" y1="745.5" x2="458.3" y2="750.8" stroke="#3e3a39" stroke-width="1.3"/>
<line x1="463.1" y1="745.5" x2="463.1" y2="750.8" stroke="#3e3a39" stroke-width="1.3"/>
<line x1="467.3" y1="745.5" x2="467.3" y2="750.8" stroke="#3e3a39" stroke-width="1.3"/>
<line x1="470.8" y1="745.5" x2="470.8" y2="750.8" stroke="#3e3a39" stroke-width="1.3"/>
<line x1="474" y1="745.5" x2="474" y2="750.8" stroke="#3e3a39" stroke-width="1.3"/>
<line x1="476.8" y1="745.5" x2="476.8" y2="753.5" stroke="#3e3a39" stroke-width="1.3"/>
<text x="478.6" y="763.5" font-size="9" text-anchor="end" textLength="7.4" lengthAdjust="spacingAndGlyphs" stroke="#231815" stroke-width="0.35" fill="#231815">10</text>
<text x="479.1" y="758.3" font-size="7.2" textLength="3.8" lengthAdjust="spacingAndGlyphs" stroke="#231815" stroke-width="0.35" fill="#231815">3</text>
<line x1="495.3" y1="745.5" x2="495.3" y2="750.8" stroke="#3e3a39" stroke-width="1.3"/>
<line x1="506.2" y1="745.5" x2="506.2" y2="750.8" stroke="#3e3a39" stroke-width="1.3"/>
<line x1="513.9" y1="745.5" x2="513.9" y2="750.8" stroke="#3e3a39" stroke-width="1.3"/>
<line x1="519.9" y1="745.5" x2="519.9" y2="750.8" stroke="#3e3a39" stroke-width="1.3"/>
<line x1="524.7" y1="745.5" x2="524.7" y2="750.8" stroke="#3e3a39" stroke-width="1.3"/>
<line x1="528.9" y1="745.5" x2="528.9" y2="750.8" stroke="#3e3a39" stroke-width="1.3"/>
<line x1="532.4" y1="745.5" x2="532.4" y2="750.8" stroke="#3e3a39" stroke-width="1.3"/>
<line x1="535.6" y1="745.5" x2="535.6" y2="750.8" stroke="#3e3a39" stroke-width="1.3"/>
<line x1="538.4" y1="745.5" x2="538.4" y2="753.5" stroke="#3e3a39" stroke-width="1.3"/>
<text x="540.2" y="763.5" font-size="9" text-anchor="end" textLength="7.4" lengthAdjust="spacingAndGlyphs" stroke="#231815" stroke-width="0.35" fill="#231815">10</text>
<text x="540.7" y="758.3" font-size="7.2" textLength="3.8" lengthAdjust="spacingAndGlyphs" stroke="#231815" stroke-width="0.35" fill="#231815">4</text>
<line x1="556.9" y1="745.5" x2="556.9" y2="750.8" stroke="#3e3a39" stroke-width="1.3"/>
<line x1="567.8" y1="745.5" x2="567.8" y2="750.8" stroke="#3e3a39" stroke-width="1.3"/>
<line x1="575.5" y1="745.5" x2="575.5" y2="750.8" stroke="#3e3a39" stroke-width="1.3"/>
<line x1="581.5" y1="745.5" x2="581.5" y2="750.8" stroke="#3e3a39" stroke-width="1.3"/>
<line x1="586.3" y1="745.5" x2="586.3" y2="750.8" stroke="#3e3a39" stroke-width="1.3"/>
<line x1="590.5" y1="745.5" x2="590.5" y2="750.8" stroke="#3e3a39" stroke-width="1.3"/>
<line x1="594" y1="745.5" x2="594" y2="750.8" stroke="#3e3a39" stroke-width="1.3"/>
<line x1="597.2" y1="745.5" x2="597.2" y2="750.8" stroke="#3e3a39" stroke-width="1.3"/>
<line x1="600" y1="745.5" x2="600" y2="753.5" stroke="#3e3a39" stroke-width="1.3"/>
<text x="601.8" y="763.5" font-size="9" text-anchor="end" textLength="7.4" lengthAdjust="spacingAndGlyphs" stroke="#231815" stroke-width="0.35" fill="#231815">10</text>
<text x="602.3" y="758.3" font-size="7.2" textLength="3.8" lengthAdjust="spacingAndGlyphs" stroke="#231815" stroke-width="0.35" fill="#231815">5</text>
<line x1="618.5" y1="745.5" x2="618.5" y2="750.8" stroke="#3e3a39" stroke-width="1.3"/>
<clipPath id="h8"><rect x="380.3" y="496.5" width="246.6" height="248.5"/></clipPath>
<polygon clip-path="url(#h8)" points="380.3,745.5 380.3,745.5 381.2,745 382.1,745.5 383,745.5 383.9,745.5 384.8,745.5 385.7,745.5 386.6,745.5 387.5,745.5 388.4,745.5 389.3,745.5 390.2,745.5 391.1,745.5 392,745.5 392.9,745.5 393.8,745.5 394.7,745.5 395.6,745.5 396.5,745.5 397.4,745.5 398.3,745.5 399.2,745.5 400.1,745.5 401,745.3 401.9,745.5 402.8,745.5 403.7,745.5 404.6,745.5 405.5,745.5 406.4,745.5 407.3,745.5 408.2,745.5 409.1,745.5 410,744.1 410.9,745.5 411.8,745.5 412.7,745.5 413.6,745.5 414.5,745.5 415.4,745.5 416.3,745.5 417.2,745.5 418.1,745.5 419,745.5 419.9,745.5 420.8,745.5 421.7,745.5 422.6,745.5 423.5,745.5 424.4,745.5 425.3,745.5 426.2,745.5 427.1,745.5 428,745.5 428.9,744.7 429.8,744.2 430.7,745.1 431.6,745.5 432.5,742.5 433.4,742.6 434.3,745.5 435.2,743.7 436.1,745.5 437,744 437.9,742 438.8,743.8 439.7,743.1 440.6,741.5 441.5,745 442.4,735.6 443.3,739.5 444.2,737.1 445.1,737.6 446,734 446.9,734.7 447.8,731.8 448.7,734.2 449.6,728.3 450.5,732.4 451.4,730.8 452.3,737.5 453.2,735.8 454.1,733.6 455,737 455.9,730.9 456.8,717.7 457.7,733.9 458.6,715.8 459.5,719.7 460.4,713.1 461.3,723.3 462.2,715.8 463.1,704.5 464,701.6 464.9,699.8 465.8,700.8 466.7,694.1 467.6,682.4 468.5,683.2 469.4,691.7 470.3,676.2 471.2,679.6 472.1,674.4 473,680.5 473.9,682.7 474.8,685.4 475.7,658 476.6,657.9 477.5,671.2 478.4,656.5 479.3,660.7 480.2,668.7 481.1,655 482,661.8 482.9,658.4 483.8,659.7 484.7,654.1 485.6,641.1 486.5,653 487.4,627.1 488.3,631.9 489.2,626 490.1,637 491,615.8 491.9,613 492.8,598.4 493.7,590.7 494.6,608.9 495.5,598.5 496.4,615 497.3,605.3 498.2,604.1 499.1,609 500,616.8 500.9,601.6 501.8,570.9 502.7,590.1 503.6,556 504.5,560.8 505.4,571.5 506.3,568.1 507.2,561.4 508.1,585.7 509,557.5 509.9,557 510.8,556.5 511.7,539.3 512.6,565.6 513.5,541.3 514.4,501.2 515.3,529.9 516.2,507.2 517.1,529.7 518,555.3 518.9,538.5 519.8,534.1 520.7,545.2 521.6,533.3 522.5,537.5 523.4,536.7 524.3,520.8 525.2,543.9 526.1,556.7 527,529.3 527.9,541.1 528.8,518.7 529.7,519.5 530.6,502.4 531.5,569.8 532.4,518.3 533.3,499.9 534.2,522.8 535.1,500.6 536,515.9 536.9,512.4 537.8,533.7 538.7,534.7 539.6,520.7 540.5,535.1 541.4,551.8 542.3,533.9 543.2,497.5 544.1,521.7 545,500.7 545.9,522.4 546.8,549 547.7,501.5 548.6,515.7 549.5,561.2 550.4,514.2 551.3,542.7 552.2,542.5 553.1,548.6 554,553.2 554.9,537.1 555.8,511.9 556.7,529.6 557.6,533.8 558.5,536.8 559.4,533.1 560.3,543.5 561.2,555.5 562.1,553.9 563,557.9 563.9,559.6 564.8,539.8 565.7,561.6 566.6,586 567.5,567.5 568.4,563.1 569.3,598.1 570.2,562.2 571.1,583 572,558.8 572.9,578.4 573.8,577.6 574.7,606.1 575.6,586.2 576.5,591.5 577.4,606.6 578.3,613.6 579.2,607.6 580.1,608.8 581,614.4 581.9,631.9 582.8,622.1 583.7,612.4 584.6,617.5 585.5,617.6 586.4,625.5 587.3,619.8 588.2,642.6 589.1,646.8 590,649.6 590.9,635.9 591.8,623.6 592.7,631.8 593.6,664 594.5,661.3 595.4,672.5 596.3,685.4 597.2,670.6 598.1,695.6 599,686.3 599.9,698.2 600.8,698 601.7,687.1 602.6,695.6 603.5,714.6 604.4,694.9 605.3,708.7 606.2,715.2 607.1,715.4 608,722.6 608.9,716 609.8,711.8 610.7,715.8 611.6,723.1 612.5,738.6 613.4,732.8 614.3,722.9 615.2,720.4 616.1,727.9 617,734.7 617.9,737.3 618.8,734.6 619.7,738.6 620.6,738.1 621.5,731.4 622.4,734.1 623.3,733.8 624.2,731.2 625.1,729.7 626,715.2 626.3,745.5" fill="#ec6a6b" stroke="#e0341f" stroke-width="0.9" stroke-linejoin="miter" stroke-miterlimit="6"/>
<rect x="380.3" y="496.5" width="246.6" height="249" fill="none" stroke="#3e3a39" stroke-width="1.3"/>
<line x1="385.3" y1="496.5" x2="385.3" y2="745.5" stroke="#3e3a39" stroke-width="1.3"/>
<line x1="622.9" y1="496.5" x2="622.9" y2="745.5" stroke="#3e3a39" stroke-width="1.3"/>
<line x1="385.3" y1="691.5" x2="622.9" y2="691.5" stroke="#3e3a39" stroke-width="1.3"/>
<line x1="500.6" y1="495.5" x2="507.1" y2="495.5" stroke="#1a1a1a" stroke-width="1.8"/>
<text x="497.3" y="626.1" font-size="8.6" textLength="11" lengthAdjust="spacingAndGlyphs" stroke="#231815" stroke-width="0.12" fill="#231815">P2</text>
<line x1="654.7" y1="745.5" x2="662.7" y2="745.5" stroke="#3e3a39" stroke-width="1.3"/>
<text x="654.7" y="745.5" font-size="9.5" text-anchor="middle" transform="rotate(-90 654.7 745.5)" textLength="4.2" lengthAdjust="spacingAndGlyphs" stroke="#231815" stroke-width="0.45" fill="#231815">0</text>
<line x1="658.1" y1="735.8" x2="662.7" y2="735.8" stroke="#3e3a39" stroke-width="1.3"/>
<line x1="658.1" y1="726.2" x2="662.7" y2="726.2" stroke="#3e3a39" stroke-width="1.3"/>
<line x1="658.1" y1="716.5" x2="662.7" y2="716.5" stroke="#3e3a39" stroke-width="1.3"/>
<line x1="658.1" y1="706.9" x2="662.7" y2="706.9" stroke="#3e3a39" stroke-width="1.3"/>
<line x1="654.7" y1="697.2" x2="662.7" y2="697.2" stroke="#3e3a39" stroke-width="1.3"/>
<text x="654.7" y="697.2" font-size="9.5" text-anchor="middle" transform="rotate(-90 654.7 697.2)" textLength="8.4" lengthAdjust="spacingAndGlyphs" stroke="#231815" stroke-width="0.45" fill="#231815">25</text>
<line x1="658.1" y1="687.6" x2="662.7" y2="687.6" stroke="#3e3a39" stroke-width="1.3"/>
<line x1="658.1" y1="677.9" x2="662.7" y2="677.9" stroke="#3e3a39" stroke-width="1.3"/>
<line x1="658.1" y1="668.3" x2="662.7" y2="668.3" stroke="#3e3a39" stroke-width="1.3"/>
<line x1="658.1" y1="658.6" x2="662.7" y2="658.6" stroke="#3e3a39" stroke-width="1.3"/>
<line x1="654.7" y1="649" x2="662.7" y2="649" stroke="#3e3a39" stroke-width="1.3"/>
<text x="654.7" y="649" font-size="9.5" text-anchor="middle" transform="rotate(-90 654.7 649)" textLength="8.4" lengthAdjust="spacingAndGlyphs" stroke="#231815" stroke-width="0.45" fill="#231815">50</text>
<line x1="658.1" y1="639.3" x2="662.7" y2="639.3" stroke="#3e3a39" stroke-width="1.3"/>
<line x1="658.1" y1="629.7" x2="662.7" y2="629.7" stroke="#3e3a39" stroke-width="1.3"/>
<line x1="658.1" y1="620" x2="662.7" y2="620" stroke="#3e3a39" stroke-width="1.3"/>
<line x1="658.1" y1="610.4" x2="662.7" y2="610.4" stroke="#3e3a39" stroke-width="1.3"/>
<line x1="654.7" y1="600.7" x2="662.7" y2="600.7" stroke="#3e3a39" stroke-width="1.3"/>
<text x="654.7" y="600.7" font-size="9.5" text-anchor="middle" transform="rotate(-90 654.7 600.7)" textLength="8.4" lengthAdjust="spacingAndGlyphs" stroke="#231815" stroke-width="0.45" fill="#231815">75</text>
<line x1="658.1" y1="591.1" x2="662.7" y2="591.1" stroke="#3e3a39" stroke-width="1.3"/>
<line x1="658.1" y1="581.4" x2="662.7" y2="581.4" stroke="#3e3a39" stroke-width="1.3"/>
<line x1="658.1" y1="571.8" x2="662.7" y2="571.8" stroke="#3e3a39" stroke-width="1.3"/>
<line x1="658.1" y1="562.1" x2="662.7" y2="562.1" stroke="#3e3a39" stroke-width="1.3"/>
<line x1="654.7" y1="552.5" x2="662.7" y2="552.5" stroke="#3e3a39" stroke-width="1.3"/>
<text x="654.7" y="552.5" font-size="9.5" text-anchor="middle" transform="rotate(-90 654.7 552.5)" textLength="12.6" lengthAdjust="spacingAndGlyphs" stroke="#231815" stroke-width="0.45" fill="#231815">100</text>
<line x1="658.1" y1="542.8" x2="662.7" y2="542.8" stroke="#3e3a39" stroke-width="1.3"/>
<line x1="658.1" y1="533.2" x2="662.7" y2="533.2" stroke="#3e3a39" stroke-width="1.3"/>
<line x1="658.1" y1="523.5" x2="662.7" y2="523.5" stroke="#3e3a39" stroke-width="1.3"/>
<line x1="658.1" y1="513.9" x2="662.7" y2="513.9" stroke="#3e3a39" stroke-width="1.3"/>
<line x1="654.7" y1="504.2" x2="662.7" y2="504.2" stroke="#3e3a39" stroke-width="1.3"/>
<text x="654.7" y="504.2" font-size="9.5" text-anchor="middle" transform="rotate(-90 654.7 504.2)" textLength="12.6" lengthAdjust="spacingAndGlyphs" stroke="#231815" stroke-width="0.45" fill="#231815">125</text>
<line x1="665.4" y1="745.5" x2="665.4" y2="750.8" stroke="#3e3a39" stroke-width="1.3"/>
<line x1="673.1" y1="745.5" x2="673.1" y2="750.8" stroke="#3e3a39" stroke-width="1.3"/>
<line x1="679.1" y1="745.5" x2="679.1" y2="750.8" stroke="#3e3a39" stroke-width="1.3"/>
<line x1="683.9" y1="745.5" x2="683.9" y2="750.8" stroke="#3e3a39" stroke-width="1.3"/>
<line x1="688.1" y1="745.5" x2="688.1" y2="750.8" stroke="#3e3a39" stroke-width="1.3"/>
<line x1="691.6" y1="745.5" x2="691.6" y2="750.8" stroke="#3e3a39" stroke-width="1.3"/>
<line x1="694.8" y1="745.5" x2="694.8" y2="750.8" stroke="#3e3a39" stroke-width="1.3"/>
<line x1="697.6" y1="745.5" x2="697.6" y2="753.5" stroke="#3e3a39" stroke-width="1.3"/>
<text x="699.4" y="763.5" font-size="9" text-anchor="end" textLength="7.4" lengthAdjust="spacingAndGlyphs" stroke="#231815" stroke-width="0.35" fill="#231815">10</text>
<text x="699.9" y="758.3" font-size="7.2" textLength="3.8" lengthAdjust="spacingAndGlyphs" stroke="#231815" stroke-width="0.35" fill="#231815">2</text>
<line x1="716.1" y1="745.5" x2="716.1" y2="750.8" stroke="#3e3a39" stroke-width="1.3"/>
<line x1="727" y1="745.5" x2="727" y2="750.8" stroke="#3e3a39" stroke-width="1.3"/>
<line x1="734.7" y1="745.5" x2="734.7" y2="750.8" stroke="#3e3a39" stroke-width="1.3"/>
<line x1="740.7" y1="745.5" x2="740.7" y2="750.8" stroke="#3e3a39" stroke-width="1.3"/>
<line x1="745.5" y1="745.5" x2="745.5" y2="750.8" stroke="#3e3a39" stroke-width="1.3"/>
<line x1="749.7" y1="745.5" x2="749.7" y2="750.8" stroke="#3e3a39" stroke-width="1.3"/>
<line x1="753.2" y1="745.5" x2="753.2" y2="750.8" stroke="#3e3a39" stroke-width="1.3"/>
<line x1="756.4" y1="745.5" x2="756.4" y2="750.8" stroke="#3e3a39" stroke-width="1.3"/>
<line x1="759.2" y1="745.5" x2="759.2" y2="753.5" stroke="#3e3a39" stroke-width="1.3"/>
<text x="761" y="763.5" font-size="9" text-anchor="end" textLength="7.4" lengthAdjust="spacingAndGlyphs" stroke="#231815" stroke-width="0.35" fill="#231815">10</text>
<text x="761.5" y="758.3" font-size="7.2" textLength="3.8" lengthAdjust="spacingAndGlyphs" stroke="#231815" stroke-width="0.35" fill="#231815">3</text>
<line x1="777.7" y1="745.5" x2="777.7" y2="750.8" stroke="#3e3a39" stroke-width="1.3"/>
<line x1="788.6" y1="745.5" x2="788.6" y2="750.8" stroke="#3e3a39" stroke-width="1.3"/>
<line x1="796.3" y1="745.5" x2="796.3" y2="750.8" stroke="#3e3a39" stroke-width="1.3"/>
<line x1="802.3" y1="745.5" x2="802.3" y2="750.8" stroke="#3e3a39" stroke-width="1.3"/>
<line x1="807.1" y1="745.5" x2="807.1" y2="750.8" stroke="#3e3a39" stroke-width="1.3"/>
<line x1="811.3" y1="745.5" x2="811.3" y2="750.8" stroke="#3e3a39" stroke-width="1.3"/>
<line x1="814.8" y1="745.5" x2="814.8" y2="750.8" stroke="#3e3a39" stroke-width="1.3"/>
<line x1="818" y1="745.5" x2="818" y2="750.8" stroke="#3e3a39" stroke-width="1.3"/>
<line x1="820.8" y1="745.5" x2="820.8" y2="753.5" stroke="#3e3a39" stroke-width="1.3"/>
<text x="822.6" y="763.5" font-size="9" text-anchor="end" textLength="7.4" lengthAdjust="spacingAndGlyphs" stroke="#231815" stroke-width="0.35" fill="#231815">10</text>
<text x="823.1" y="758.3" font-size="7.2" textLength="3.8" lengthAdjust="spacingAndGlyphs" stroke="#231815" stroke-width="0.35" fill="#231815">4</text>
<line x1="839.3" y1="745.5" x2="839.3" y2="750.8" stroke="#3e3a39" stroke-width="1.3"/>
<line x1="850.2" y1="745.5" x2="850.2" y2="750.8" stroke="#3e3a39" stroke-width="1.3"/>
<line x1="857.9" y1="745.5" x2="857.9" y2="750.8" stroke="#3e3a39" stroke-width="1.3"/>
<line x1="863.9" y1="745.5" x2="863.9" y2="750.8" stroke="#3e3a39" stroke-width="1.3"/>
<line x1="868.7" y1="745.5" x2="868.7" y2="750.8" stroke="#3e3a39" stroke-width="1.3"/>
<line x1="872.9" y1="745.5" x2="872.9" y2="750.8" stroke="#3e3a39" stroke-width="1.3"/>
<line x1="876.4" y1="745.5" x2="876.4" y2="750.8" stroke="#3e3a39" stroke-width="1.3"/>
<line x1="879.6" y1="745.5" x2="879.6" y2="750.8" stroke="#3e3a39" stroke-width="1.3"/>
<line x1="882.4" y1="745.5" x2="882.4" y2="753.5" stroke="#3e3a39" stroke-width="1.3"/>
<text x="884.2" y="763.5" font-size="9" text-anchor="end" textLength="7.4" lengthAdjust="spacingAndGlyphs" stroke="#231815" stroke-width="0.35" fill="#231815">10</text>
<text x="884.7" y="758.3" font-size="7.2" textLength="3.8" lengthAdjust="spacingAndGlyphs" stroke="#231815" stroke-width="0.35" fill="#231815">5</text>
<line x1="900.9" y1="745.5" x2="900.9" y2="750.8" stroke="#3e3a39" stroke-width="1.3"/>
<clipPath id="h9"><rect x="662.7" y="496.5" width="246.6" height="248.5"/></clipPath>
<polygon clip-path="url(#h9)" points="662.7,745.5 662.7,745.5 663.6,745.5 664.5,745.5 665.4,745.5 666.3,745.5 667.2,745.5 668.1,745.5 669,745.1 669.9,745.5 670.8,745.5 671.7,745.5 672.6,745.5 673.5,745.5 674.4,745.5 675.3,745.5 676.2,745.4 677.1,744.8 678,743.4 678.9,745.5 679.8,745.5 680.7,745.5 681.6,745.5 682.5,745.5 683.4,745.5 684.3,745.5 685.2,745.5 686.1,745.5 687,745.5 687.9,743.9 688.8,745.5 689.7,745.5 690.6,745.5 691.5,745.5 692.4,745.5 693.3,745.5 694.2,745.5 695.1,743.7 696,745.5 696.9,745.5 697.8,745.5 698.7,745.5 699.6,745.1 700.5,745.5 701.4,745.5 702.3,745.5 703.2,745.5 704.1,745.5 705,745.5 705.9,745.5 706.8,744.6 707.7,745.5 708.6,745.5 709.5,745.5 710.4,745.5 711.3,745.5 712.2,745.5 713.1,745.5 714,745.5 714.9,745.5 715.8,743.3 716.7,745.5 717.6,745.5 718.5,745.5 719.4,744.7 720.3,745.5 721.2,745.5 722.1,744.3 723,744 723.9,742.8 724.8,743.3 725.7,739.6 726.6,742.6 727.5,742.6 728.4,741.9 729.3,738.4 730.2,739.4 731.1,741.9 732,737.7 732.9,738.3 733.8,737.7 734.7,737 735.6,744.7 736.5,738.5 737.4,739.7 738.3,735 739.2,733.6 740.1,739.4 741,733.8 741.9,739.5 742.8,736.5 743.7,732 744.6,727 745.5,726.2 746.4,724.2 747.3,723.1 748.2,723.4 749.1,714.7 750,715.7 750.9,716.1 751.8,717.1 752.7,714.7 753.6,709.5 754.5,719.3 755.4,723.5 756.3,720.1 757.2,704.1 758.1,698.3 759,712.3 759.9,711.8 760.8,708.6 761.7,720.6 762.6,709.3 763.5,718.1 764.4,707.3 765.3,711.3 766.2,706.7 767.1,704.3 768,698.2 768.9,694.3 769.8,692.8 770.7,697.5 771.6,709.5 772.5,699.7 773.4,688.6 774.3,692.4 775.2,690 776.1,676.8 777,680.6 777.9,685.9 778.8,664.5 779.7,664.4 780.6,646.6 781.5,662.4 782.4,656 783.3,678.3 784.2,681.8 785.1,648.3 786,645.7 786.9,656.1 787.8,658.1 788.7,656.9 789.6,669.2 790.5,652.6 791.4,665.7 792.3,651.4 793.2,623.3 794.1,632 795,626.1 795.9,612.2 796.8,607.5 797.7,602.5 798.6,606.6 799.5,596.8 800.4,590.9 801.3,605.2 802.2,583.5 803.1,577.7 804,592.9 804.9,607.8 805.8,591.5 806.7,604.3 807.6,586.9 808.5,559.2 809.4,568.6 810.3,574.7 811.2,558.5 812.1,581.8 813,592 813.9,540.1 814.8,568 815.7,563.9 816.6,546.1 817.5,544.7 818.4,533.4 819.3,516.9 820.2,514.1 821.1,535.6 822,521.4 822.9,529 823.8,526.1 824.7,515.1 825.6,525.1 826.5,545.2 827.4,506.3 828.3,536.1 829.2,538.3 830.1,528.7 831,547.4 831.9,510.7 832.8,497.5 833.7,518.7 834.6,513.3 835.5,516 836.4,511.8 837.3,527.1 838.2,544.2 839.1,520.4 840,522.8 840.9,520.7 841.8,518 842.7,528.4 843.6,509.5 844.5,497.5 845.4,525.8 846.3,519.9 847.2,523 848.1,517.8 849,572 849.9,514 850.8,540.5 851.7,523.1 852.6,544.4 853.5,532.5 854.4,522.6 855.3,561.3 856.2,576.8 857.1,565.5 858,571.3 858.9,565.5 859.8,556 860.7,598.3 861.6,595.1 862.5,559.8 863.4,559.6 864.3,539.2 865.2,561.7 866.1,583.6 867,583.7 867.9,585.9 868.8,609.5 869.7,592.6 870.6,597.2 871.5,607 872.4,606.2 873.3,626 874.2,615.1 875.1,609.8 876,619.8 876.9,637.2 877.8,644.5 878.7,639.3 879.6,664.7 880.5,673.6 881.4,671.2 882.3,671.2 883.2,683.7 884.1,680.4 885,692.6 885.9,675.3 886.8,670.4 887.7,675 888.6,704.5 889.5,698.5 890.4,698.4 891.3,703.1 892.2,711.4 893.1,700.8 894,705.9 894.9,719.1 895.8,705.9 896.7,709.3 897.6,705.5 898.5,706.4 899.4,710.9 900.3,717.5 901.2,722.7 902.1,730.8 903,735.3 903.9,735.2 904.8,734.2 905.7,721.3 906.6,727.9 907.5,745.5" fill="#ec6a6b" stroke="#e0341f" stroke-width="0.9" stroke-linejoin="miter" stroke-miterlimit="6"/>
<rect x="907.2" y="672.2" width="1.6" height="73.3" fill="#d9503c"/>
<rect x="662.7" y="496.5" width="246.6" height="249" fill="none" stroke="#3e3a39" stroke-width="1.3"/>
<line x1="667.7" y1="496.5" x2="667.7" y2="745.5" stroke="#3e3a39" stroke-width="1.3"/>
<line x1="905.3" y1="496.5" x2="905.3" y2="745.5" stroke="#3e3a39" stroke-width="1.3"/>
<line x1="667.7" y1="691.5" x2="905.3" y2="691.5" stroke="#3e3a39" stroke-width="1.3"/>
<line x1="783" y1="495.5" x2="789.5" y2="495.5" stroke="#1a1a1a" stroke-width="1.8"/>
<text x="779.7" y="626.1" font-size="8.6" textLength="11" lengthAdjust="spacingAndGlyphs" stroke="#231815" stroke-width="0.12" fill="#231815">P2</text>
<line x1="937.9" y1="745.5" x2="945.9" y2="745.5" stroke="#3e3a39" stroke-width="1.3"/>
<text x="937.9" y="745.5" font-size="9.5" text-anchor="middle" transform="rotate(-90 937.9 745.5)" textLength="4.2" lengthAdjust="spacingAndGlyphs" stroke="#231815" stroke-width="0.45" fill="#231815">0</text>
<line x1="941.3" y1="735.6" x2="945.9" y2="735.6" stroke="#3e3a39" stroke-width="1.3"/>
<line x1="941.3" y1="725.8" x2="945.9" y2="725.8" stroke="#3e3a39" stroke-width="1.3"/>
<line x1="941.3" y1="715.9" x2="945.9" y2="715.9" stroke="#3e3a39" stroke-width="1.3"/>
<line x1="941.3" y1="706.1" x2="945.9" y2="706.1" stroke="#3e3a39" stroke-width="1.3"/>
<line x1="937.9" y1="696.2" x2="945.9" y2="696.2" stroke="#3e3a39" stroke-width="1.3"/>
<text x="937.9" y="696.2" font-size="9.5" text-anchor="middle" transform="rotate(-90 937.9 696.2)" textLength="8.4" lengthAdjust="spacingAndGlyphs" stroke="#231815" stroke-width="0.45" fill="#231815">25</text>
<line x1="941.3" y1="686.4" x2="945.9" y2="686.4" stroke="#3e3a39" stroke-width="1.3"/>
<line x1="941.3" y1="676.5" x2="945.9" y2="676.5" stroke="#3e3a39" stroke-width="1.3"/>
<line x1="941.3" y1="666.6" x2="945.9" y2="666.6" stroke="#3e3a39" stroke-width="1.3"/>
<line x1="941.3" y1="656.8" x2="945.9" y2="656.8" stroke="#3e3a39" stroke-width="1.3"/>
<line x1="937.9" y1="646.9" x2="945.9" y2="646.9" stroke="#3e3a39" stroke-width="1.3"/>
<text x="937.9" y="646.9" font-size="9.5" text-anchor="middle" transform="rotate(-90 937.9 646.9)" textLength="8.4" lengthAdjust="spacingAndGlyphs" stroke="#231815" stroke-width="0.45" fill="#231815">50</text>
<line x1="941.3" y1="637.1" x2="945.9" y2="637.1" stroke="#3e3a39" stroke-width="1.3"/>
<line x1="941.3" y1="627.2" x2="945.9" y2="627.2" stroke="#3e3a39" stroke-width="1.3"/>
<line x1="941.3" y1="617.4" x2="945.9" y2="617.4" stroke="#3e3a39" stroke-width="1.3"/>
<line x1="941.3" y1="607.5" x2="945.9" y2="607.5" stroke="#3e3a39" stroke-width="1.3"/>
<line x1="937.9" y1="597.6" x2="945.9" y2="597.6" stroke="#3e3a39" stroke-width="1.3"/>
<text x="937.9" y="597.6" font-size="9.5" text-anchor="middle" transform="rotate(-90 937.9 597.6)" textLength="8.4" lengthAdjust="spacingAndGlyphs" stroke="#231815" stroke-width="0.45" fill="#231815">75</text>
<line x1="941.3" y1="587.8" x2="945.9" y2="587.8" stroke="#3e3a39" stroke-width="1.3"/>
<line x1="941.3" y1="577.9" x2="945.9" y2="577.9" stroke="#3e3a39" stroke-width="1.3"/>
<line x1="941.3" y1="568.1" x2="945.9" y2="568.1" stroke="#3e3a39" stroke-width="1.3"/>
<line x1="941.3" y1="558.2" x2="945.9" y2="558.2" stroke="#3e3a39" stroke-width="1.3"/>
<line x1="937.9" y1="548.4" x2="945.9" y2="548.4" stroke="#3e3a39" stroke-width="1.3"/>
<text x="937.9" y="548.4" font-size="9.5" text-anchor="middle" transform="rotate(-90 937.9 548.4)" textLength="12.6" lengthAdjust="spacingAndGlyphs" stroke="#231815" stroke-width="0.45" fill="#231815">100</text>
<line x1="941.3" y1="538.5" x2="945.9" y2="538.5" stroke="#3e3a39" stroke-width="1.3"/>
<line x1="941.3" y1="528.6" x2="945.9" y2="528.6" stroke="#3e3a39" stroke-width="1.3"/>
<line x1="941.3" y1="518.8" x2="945.9" y2="518.8" stroke="#3e3a39" stroke-width="1.3"/>
<line x1="941.3" y1="508.9" x2="945.9" y2="508.9" stroke="#3e3a39" stroke-width="1.3"/>
<line x1="937.9" y1="499.1" x2="945.9" y2="499.1" stroke="#3e3a39" stroke-width="1.3"/>
<clipPath id="cB4"><rect x="925.9" y="494.3" width="20" height="24"/></clipPath><g clip-path="url(#cB4)">
<text x="937.9" y="499.1" font-size="9.5" text-anchor="middle" transform="rotate(-90 937.9 499.1)" textLength="12.6" lengthAdjust="spacingAndGlyphs" stroke="#231815" stroke-width="0.45" fill="#231815">125</text>
</g>
<line x1="948.6" y1="745.5" x2="948.6" y2="750.8" stroke="#3e3a39" stroke-width="1.3"/>
<line x1="956.3" y1="745.5" x2="956.3" y2="750.8" stroke="#3e3a39" stroke-width="1.3"/>
<line x1="962.3" y1="745.5" x2="962.3" y2="750.8" stroke="#3e3a39" stroke-width="1.3"/>
<line x1="967.1" y1="745.5" x2="967.1" y2="750.8" stroke="#3e3a39" stroke-width="1.3"/>
<line x1="971.3" y1="745.5" x2="971.3" y2="750.8" stroke="#3e3a39" stroke-width="1.3"/>
<line x1="974.8" y1="745.5" x2="974.8" y2="750.8" stroke="#3e3a39" stroke-width="1.3"/>
<line x1="978" y1="745.5" x2="978" y2="750.8" stroke="#3e3a39" stroke-width="1.3"/>
<line x1="980.8" y1="745.5" x2="980.8" y2="753.5" stroke="#3e3a39" stroke-width="1.3"/>
<text x="982.6" y="763.5" font-size="9" text-anchor="end" textLength="7.4" lengthAdjust="spacingAndGlyphs" stroke="#231815" stroke-width="0.35" fill="#231815">10</text>
<text x="983.1" y="758.3" font-size="7.2" textLength="3.8" lengthAdjust="spacingAndGlyphs" stroke="#231815" stroke-width="0.35" fill="#231815">2</text>
<line x1="999.3" y1="745.5" x2="999.3" y2="750.8" stroke="#3e3a39" stroke-width="1.3"/>
<line x1="1010.2" y1="745.5" x2="1010.2" y2="750.8" stroke="#3e3a39" stroke-width="1.3"/>
<line x1="1017.9" y1="745.5" x2="1017.9" y2="750.8" stroke="#3e3a39" stroke-width="1.3"/>
<line x1="1023.9" y1="745.5" x2="1023.9" y2="750.8" stroke="#3e3a39" stroke-width="1.3"/>
<line x1="1028.7" y1="745.5" x2="1028.7" y2="750.8" stroke="#3e3a39" stroke-width="1.3"/>
<line x1="1032.9" y1="745.5" x2="1032.9" y2="750.8" stroke="#3e3a39" stroke-width="1.3"/>
<line x1="1036.4" y1="745.5" x2="1036.4" y2="750.8" stroke="#3e3a39" stroke-width="1.3"/>
<line x1="1039.6" y1="745.5" x2="1039.6" y2="750.8" stroke="#3e3a39" stroke-width="1.3"/>
<line x1="1042.4" y1="745.5" x2="1042.4" y2="753.5" stroke="#3e3a39" stroke-width="1.3"/>
<text x="1044.2" y="763.5" font-size="9" text-anchor="end" textLength="7.4" lengthAdjust="spacingAndGlyphs" stroke="#231815" stroke-width="0.35" fill="#231815">10</text>
<text x="1044.7" y="758.3" font-size="7.2" textLength="3.8" lengthAdjust="spacingAndGlyphs" stroke="#231815" stroke-width="0.35" fill="#231815">3</text>
<line x1="1060.9" y1="745.5" x2="1060.9" y2="750.8" stroke="#3e3a39" stroke-width="1.3"/>
<line x1="1071.8" y1="745.5" x2="1071.8" y2="750.8" stroke="#3e3a39" stroke-width="1.3"/>
<line x1="1079.5" y1="745.5" x2="1079.5" y2="750.8" stroke="#3e3a39" stroke-width="1.3"/>
<line x1="1085.5" y1="745.5" x2="1085.5" y2="750.8" stroke="#3e3a39" stroke-width="1.3"/>
<line x1="1090.3" y1="745.5" x2="1090.3" y2="750.8" stroke="#3e3a39" stroke-width="1.3"/>
<line x1="1094.5" y1="745.5" x2="1094.5" y2="750.8" stroke="#3e3a39" stroke-width="1.3"/>
<line x1="1098" y1="745.5" x2="1098" y2="750.8" stroke="#3e3a39" stroke-width="1.3"/>
<line x1="1101.2" y1="745.5" x2="1101.2" y2="750.8" stroke="#3e3a39" stroke-width="1.3"/>
<line x1="1104" y1="745.5" x2="1104" y2="753.5" stroke="#3e3a39" stroke-width="1.3"/>
<text x="1105.8" y="763.5" font-size="9" text-anchor="end" textLength="7.4" lengthAdjust="spacingAndGlyphs" stroke="#231815" stroke-width="0.35" fill="#231815">10</text>
<text x="1106.3" y="758.3" font-size="7.2" textLength="3.8" lengthAdjust="spacingAndGlyphs" stroke="#231815" stroke-width="0.35" fill="#231815">4</text>
<line x1="1122.5" y1="745.5" x2="1122.5" y2="750.8" stroke="#3e3a39" stroke-width="1.3"/>
<line x1="1133.4" y1="745.5" x2="1133.4" y2="750.8" stroke="#3e3a39" stroke-width="1.3"/>
<line x1="1141.1" y1="745.5" x2="1141.1" y2="750.8" stroke="#3e3a39" stroke-width="1.3"/>
<line x1="1147.1" y1="745.5" x2="1147.1" y2="750.8" stroke="#3e3a39" stroke-width="1.3"/>
<line x1="1151.9" y1="745.5" x2="1151.9" y2="750.8" stroke="#3e3a39" stroke-width="1.3"/>
<line x1="1156.1" y1="745.5" x2="1156.1" y2="750.8" stroke="#3e3a39" stroke-width="1.3"/>
<line x1="1159.6" y1="745.5" x2="1159.6" y2="750.8" stroke="#3e3a39" stroke-width="1.3"/>
<line x1="1162.8" y1="745.5" x2="1162.8" y2="750.8" stroke="#3e3a39" stroke-width="1.3"/>
<line x1="1165.6" y1="745.5" x2="1165.6" y2="753.5" stroke="#3e3a39" stroke-width="1.3"/>
<text x="1167.4" y="763.5" font-size="9" text-anchor="end" textLength="7.4" lengthAdjust="spacingAndGlyphs" stroke="#231815" stroke-width="0.35" fill="#231815">10</text>
<text x="1167.9" y="758.3" font-size="7.2" textLength="3.8" lengthAdjust="spacingAndGlyphs" stroke="#231815" stroke-width="0.35" fill="#231815">5</text>
<line x1="1184.1" y1="745.5" x2="1184.1" y2="750.8" stroke="#3e3a39" stroke-width="1.3"/>
<clipPath id="h10"><rect x="945.9" y="496.5" width="246.6" height="248.5"/></clipPath>
<polygon clip-path="url(#h10)" points="946,745.5 946,745.5 946.9,745.5 947.8,745.5 948.7,745.5 949.6,745.5 950.5,745.5 951.4,745.5 952.3,745.5 953.2,745.4 954.1,745.5 955,745.5 955.9,745.5 956.8,745.5 957.7,745.5 958.6,745.5 959.5,745.5 960.4,744.9 961.3,745.5 962.2,745.5 963.1,745.5 964,745.5 964.9,743.6 965.8,745.5 966.7,745.5 967.6,745.3 968.5,745.5 969.4,745.5 970.3,745.5 971.2,745.5 972.1,745.1 973,745.5 973.9,745.5 974.8,745.5 975.7,745.5 976.6,745.5 977.5,745.5 978.4,745.5 979.3,745.5 980.2,745.5 981.1,745.5 982,745.5 982.9,745.5 983.8,745.5 984.7,745.5 985.6,745.5 986.5,745.5 987.4,745.5 988.3,745.5 989.2,745.5 990.1,745.1 991,745.5 991.9,745.5 992.8,745.3 993.7,745.5 994.6,744.5 995.5,745.5 996.4,745.5 997.3,745.5 998.2,745.5 999.1,745.5 1000,745.5 1000.9,744.1 1001.8,744 1002.7,742.8 1003.6,742.5 1004.5,743.9 1005.4,743.3 1006.3,743.2 1007.2,741.4 1008.1,744 1009,742.8 1009.9,740.4 1010.8,740.3 1011.7,737.9 1012.6,738.2 1013.5,733.4 1014.4,734.3 1015.3,727.1 1016.2,741.4 1017.1,736.5 1018,729.2 1018.9,736.1 1019.8,728.7 1020.7,729.4 1021.6,724 1022.5,719.6 1023.4,713 1024.3,717.5 1025.2,700.8 1026.1,706.8 1027,713.2 1027.9,712.3 1028.8,708 1029.7,722.9 1030.6,720.7 1031.5,709.2 1032.4,717.7 1033.3,717.1 1034.2,711.3 1035.1,710.2 1036,719.7 1036.9,706.9 1037.8,710.6 1038.7,705.4 1039.6,716.1 1040.5,718.3 1041.4,702.6 1042.3,707.3 1043.2,733.2 1044.1,710.5 1045,703.9 1045.9,707.8 1046.8,711.2 1047.7,712.5 1048.6,706.1 1049.5,710.3 1050.4,716.5 1051.3,699.4 1052.2,682.1 1053.1,702.7 1054,681.8 1054.9,674.8 1055.8,688.2 1056.7,684.1 1057.6,671.9 1058.5,682.2 1059.4,689.4 1060.3,708.1 1061.2,701.8 1062.1,681 1063,684.9 1063.9,685.8 1064.8,687.1 1065.7,695.2 1066.6,689.5 1067.5,689.4 1068.4,667.5 1069.3,679.4 1070.2,683.1 1071.1,658 1072,651.9 1072.9,675.9 1073.8,669.1 1074.7,662.4 1075.6,667.3 1076.5,659.4 1077.4,663.8 1078.3,661 1079.2,657 1080.1,665.6 1081,637.9 1081.9,659.7 1082.8,639.3 1083.7,636.2 1084.6,631.2 1085.5,630.7 1086.4,628.3 1087.3,624.6 1088.2,623.2 1089.1,607.4 1090,641 1090.9,608 1091.8,628.5 1092.7,594.5 1093.6,623 1094.5,606.4 1095.4,612.7 1096.3,604.4 1097.2,588.3 1098.1,599 1099,579.2 1099.9,576.9 1100.8,582.5 1101.7,607.7 1102.6,549.1 1103.5,589.1 1104.4,572.1 1105.3,558.2 1106.2,577.6 1107.1,565.4 1108,598.7 1108.9,557.5 1109.8,586.3 1110.7,533.2 1111.6,534.6 1112.5,571.7 1113.4,564.4 1114.3,548.2 1115.2,571.9 1116.1,541.6 1117,575.5 1117.9,548.7 1118.8,565.6 1119.7,546.1 1120.6,534.7 1121.5,547.8 1122.4,544.4 1123.3,547.7 1124.2,548.9 1125.1,568.7 1126,522.8 1126.9,514.1 1127.8,532.5 1128.7,516.1 1129.6,516.9 1130.5,526.6 1131.4,556 1132.3,525.1 1133.2,528.8 1134.1,519.1 1135,509.5 1135.9,504.6 1136.8,512.4 1137.7,516.5 1138.6,533.5 1139.5,576 1140.4,535.4 1141.3,541.1 1142.2,563.7 1143.1,535.9 1144,525.3 1144.9,520.6 1145.8,522.9 1146.7,547.8 1147.6,550.3 1148.5,533.5 1149.4,538.3 1150.3,548.7 1151.2,541.8 1152.1,557.8 1153,566.2 1153.9,547.5 1154.8,537.2 1155.7,580.1 1156.6,568.4 1157.5,572.4 1158.4,593.9 1159.3,605.1 1160.2,563 1161.1,579.6 1162,574.9 1162.9,569.7 1163.8,579.2 1164.7,610.2 1165.6,630.5 1166.5,627.2 1167.4,628.1 1168.3,605.9 1169.2,608.1 1170.1,606.4 1171,624.1 1171.9,654.5 1172.8,608.9 1173.7,645.2 1174.6,628 1175.5,644.6 1176.4,644.9 1177.3,666.2 1178.2,680.1 1179.1,657.8 1180,670.5 1180.9,685.5 1181.8,685.9 1182.7,677.1 1183.6,689.9 1184.5,692.8 1185.4,691.7 1186.3,705.9 1187.2,709.6 1188.1,711 1189,715 1189,745.5" fill="#ec6a6b" stroke="#e0341f" stroke-width="0.9" stroke-linejoin="miter" stroke-miterlimit="6"/>
<rect x="1190.4" y="526.3" width="1.6" height="219.2" fill="#d9503c"/>
<rect x="945.9" y="496.5" width="246.6" height="249" fill="none" stroke="#3e3a39" stroke-width="1.3"/>
<line x1="950.9" y1="496.5" x2="950.9" y2="745.5" stroke="#3e3a39" stroke-width="1.3"/>
<line x1="1188.5" y1="496.5" x2="1188.5" y2="745.5" stroke="#3e3a39" stroke-width="1.3"/>
<line x1="950.9" y1="691.5" x2="1188.5" y2="691.5" stroke="#3e3a39" stroke-width="1.3"/>
<line x1="1066.2" y1="495.5" x2="1072.7" y2="495.5" stroke="#1a1a1a" stroke-width="1.8"/>
<text x="1062.9" y="626.1" font-size="8.6" textLength="11" lengthAdjust="spacingAndGlyphs" stroke="#231815" stroke-width="0.12" fill="#231815">P2</text>
<line x1="1220.9" y1="745.5" x2="1228.9" y2="745.5" stroke="#3e3a39" stroke-width="1.3"/>
<text x="1220.9" y="745.5" font-size="9.5" text-anchor="middle" transform="rotate(-90 1220.9 745.5)" textLength="4.2" lengthAdjust="spacingAndGlyphs" stroke="#231815" stroke-width="0.45" fill="#231815">0</text>
<line x1="1224.3" y1="734.9" x2="1228.9" y2="734.9" stroke="#3e3a39" stroke-width="1.3"/>
<line x1="1224.3" y1="724.3" x2="1228.9" y2="724.3" stroke="#3e3a39" stroke-width="1.3"/>
<line x1="1224.3" y1="713.8" x2="1228.9" y2="713.8" stroke="#3e3a39" stroke-width="1.3"/>
<line x1="1224.3" y1="703.2" x2="1228.9" y2="703.2" stroke="#3e3a39" stroke-width="1.3"/>
<line x1="1220.9" y1="692.6" x2="1228.9" y2="692.6" stroke="#3e3a39" stroke-width="1.3"/>
<text x="1220.9" y="692.6" font-size="9.5" text-anchor="middle" transform="rotate(-90 1220.9 692.6)" textLength="8.4" lengthAdjust="spacingAndGlyphs" stroke="#231815" stroke-width="0.45" fill="#231815">25</text>
<line x1="1224.3" y1="682" x2="1228.9" y2="682" stroke="#3e3a39" stroke-width="1.3"/>
<line x1="1224.3" y1="671.5" x2="1228.9" y2="671.5" stroke="#3e3a39" stroke-width="1.3"/>
<line x1="1224.3" y1="660.9" x2="1228.9" y2="660.9" stroke="#3e3a39" stroke-width="1.3"/>
<line x1="1224.3" y1="650.3" x2="1228.9" y2="650.3" stroke="#3e3a39" stroke-width="1.3"/>
<line x1="1220.9" y1="639.7" x2="1228.9" y2="639.7" stroke="#3e3a39" stroke-width="1.3"/>
<text x="1220.9" y="639.7" font-size="9.5" text-anchor="middle" transform="rotate(-90 1220.9 639.7)" textLength="8.4" lengthAdjust="spacingAndGlyphs" stroke="#231815" stroke-width="0.45" fill="#231815">50</text>
<line x1="1224.3" y1="629.1" x2="1228.9" y2="629.1" stroke="#3e3a39" stroke-width="1.3"/>
<line x1="1224.3" y1="618.6" x2="1228.9" y2="618.6" stroke="#3e3a39" stroke-width="1.3"/>
<line x1="1224.3" y1="608" x2="1228.9" y2="608" stroke="#3e3a39" stroke-width="1.3"/>
<line x1="1224.3" y1="597.4" x2="1228.9" y2="597.4" stroke="#3e3a39" stroke-width="1.3"/>
<line x1="1220.9" y1="586.8" x2="1228.9" y2="586.8" stroke="#3e3a39" stroke-width="1.3"/>
<text x="1220.9" y="586.8" font-size="9.5" text-anchor="middle" transform="rotate(-90 1220.9 586.8)" textLength="8.4" lengthAdjust="spacingAndGlyphs" stroke="#231815" stroke-width="0.45" fill="#231815">75</text>
<line x1="1224.3" y1="576.3" x2="1228.9" y2="576.3" stroke="#3e3a39" stroke-width="1.3"/>
<line x1="1224.3" y1="565.7" x2="1228.9" y2="565.7" stroke="#3e3a39" stroke-width="1.3"/>
<line x1="1224.3" y1="555.1" x2="1228.9" y2="555.1" stroke="#3e3a39" stroke-width="1.3"/>
<line x1="1224.3" y1="544.5" x2="1228.9" y2="544.5" stroke="#3e3a39" stroke-width="1.3"/>
<line x1="1220.9" y1="533.9" x2="1228.9" y2="533.9" stroke="#3e3a39" stroke-width="1.3"/>
<text x="1220.9" y="533.9" font-size="9.5" text-anchor="middle" transform="rotate(-90 1220.9 533.9)" textLength="12.6" lengthAdjust="spacingAndGlyphs" stroke="#231815" stroke-width="0.45" fill="#231815">100</text>
<line x1="1224.3" y1="523.4" x2="1228.9" y2="523.4" stroke="#3e3a39" stroke-width="1.3"/>
<line x1="1224.3" y1="512.8" x2="1228.9" y2="512.8" stroke="#3e3a39" stroke-width="1.3"/>
<line x1="1224.3" y1="502.2" x2="1228.9" y2="502.2" stroke="#3e3a39" stroke-width="1.3"/>
<line x1="1231.6" y1="745.5" x2="1231.6" y2="750.8" stroke="#3e3a39" stroke-width="1.3"/>
<line x1="1239.3" y1="745.5" x2="1239.3" y2="750.8" stroke="#3e3a39" stroke-width="1.3"/>
<line x1="1245.3" y1="745.5" x2="1245.3" y2="750.8" stroke="#3e3a39" stroke-width="1.3"/>
<line x1="1250.1" y1="745.5" x2="1250.1" y2="750.8" stroke="#3e3a39" stroke-width="1.3"/>
<line x1="1254.3" y1="745.5" x2="1254.3" y2="750.8" stroke="#3e3a39" stroke-width="1.3"/>
<line x1="1257.8" y1="745.5" x2="1257.8" y2="750.8" stroke="#3e3a39" stroke-width="1.3"/>
<line x1="1261" y1="745.5" x2="1261" y2="750.8" stroke="#3e3a39" stroke-width="1.3"/>
<line x1="1263.8" y1="745.5" x2="1263.8" y2="753.5" stroke="#3e3a39" stroke-width="1.3"/>
<text x="1265.6" y="763.5" font-size="9" text-anchor="end" textLength="7.4" lengthAdjust="spacingAndGlyphs" stroke="#231815" stroke-width="0.35" fill="#231815">10</text>
<text x="1266.1" y="758.3" font-size="7.2" textLength="3.8" lengthAdjust="spacingAndGlyphs" stroke="#231815" stroke-width="0.35" fill="#231815">2</text>
<line x1="1282.3" y1="745.5" x2="1282.3" y2="750.8" stroke="#3e3a39" stroke-width="1.3"/>
<line x1="1293.2" y1="745.5" x2="1293.2" y2="750.8" stroke="#3e3a39" stroke-width="1.3"/>
<line x1="1300.9" y1="745.5" x2="1300.9" y2="750.8" stroke="#3e3a39" stroke-width="1.3"/>
<line x1="1306.9" y1="745.5" x2="1306.9" y2="750.8" stroke="#3e3a39" stroke-width="1.3"/>
<line x1="1311.7" y1="745.5" x2="1311.7" y2="750.8" stroke="#3e3a39" stroke-width="1.3"/>
<line x1="1315.9" y1="745.5" x2="1315.9" y2="750.8" stroke="#3e3a39" stroke-width="1.3"/>
<line x1="1319.4" y1="745.5" x2="1319.4" y2="750.8" stroke="#3e3a39" stroke-width="1.3"/>
<line x1="1322.6" y1="745.5" x2="1322.6" y2="750.8" stroke="#3e3a39" stroke-width="1.3"/>
<line x1="1325.4" y1="745.5" x2="1325.4" y2="753.5" stroke="#3e3a39" stroke-width="1.3"/>
<text x="1327.2" y="763.5" font-size="9" text-anchor="end" textLength="7.4" lengthAdjust="spacingAndGlyphs" stroke="#231815" stroke-width="0.35" fill="#231815">10</text>
<text x="1327.7" y="758.3" font-size="7.2" textLength="3.8" lengthAdjust="spacingAndGlyphs" stroke="#231815" stroke-width="0.35" fill="#231815">3</text>
<line x1="1343.9" y1="745.5" x2="1343.9" y2="750.8" stroke="#3e3a39" stroke-width="1.3"/>
<line x1="1354.8" y1="745.5" x2="1354.8" y2="750.8" stroke="#3e3a39" stroke-width="1.3"/>
<line x1="1362.5" y1="745.5" x2="1362.5" y2="750.8" stroke="#3e3a39" stroke-width="1.3"/>
<line x1="1368.5" y1="745.5" x2="1368.5" y2="750.8" stroke="#3e3a39" stroke-width="1.3"/>
<line x1="1373.3" y1="745.5" x2="1373.3" y2="750.8" stroke="#3e3a39" stroke-width="1.3"/>
<line x1="1377.5" y1="745.5" x2="1377.5" y2="750.8" stroke="#3e3a39" stroke-width="1.3"/>
<line x1="1381" y1="745.5" x2="1381" y2="750.8" stroke="#3e3a39" stroke-width="1.3"/>
<line x1="1384.2" y1="745.5" x2="1384.2" y2="750.8" stroke="#3e3a39" stroke-width="1.3"/>
<line x1="1387" y1="745.5" x2="1387" y2="753.5" stroke="#3e3a39" stroke-width="1.3"/>
<text x="1388.8" y="763.5" font-size="9" text-anchor="end" textLength="7.4" lengthAdjust="spacingAndGlyphs" stroke="#231815" stroke-width="0.35" fill="#231815">10</text>
<text x="1389.3" y="758.3" font-size="7.2" textLength="3.8" lengthAdjust="spacingAndGlyphs" stroke="#231815" stroke-width="0.35" fill="#231815">4</text>
<line x1="1405.5" y1="745.5" x2="1405.5" y2="750.8" stroke="#3e3a39" stroke-width="1.3"/>
<line x1="1416.4" y1="745.5" x2="1416.4" y2="750.8" stroke="#3e3a39" stroke-width="1.3"/>
<line x1="1424.1" y1="745.5" x2="1424.1" y2="750.8" stroke="#3e3a39" stroke-width="1.3"/>
<line x1="1430.1" y1="745.5" x2="1430.1" y2="750.8" stroke="#3e3a39" stroke-width="1.3"/>
<line x1="1434.9" y1="745.5" x2="1434.9" y2="750.8" stroke="#3e3a39" stroke-width="1.3"/>
<line x1="1439.1" y1="745.5" x2="1439.1" y2="750.8" stroke="#3e3a39" stroke-width="1.3"/>
<line x1="1442.6" y1="745.5" x2="1442.6" y2="750.8" stroke="#3e3a39" stroke-width="1.3"/>
<line x1="1445.8" y1="745.5" x2="1445.8" y2="750.8" stroke="#3e3a39" stroke-width="1.3"/>
<line x1="1448.6" y1="745.5" x2="1448.6" y2="753.5" stroke="#3e3a39" stroke-width="1.3"/>
<text x="1450.4" y="763.5" font-size="9" text-anchor="end" textLength="7.4" lengthAdjust="spacingAndGlyphs" stroke="#231815" stroke-width="0.35" fill="#231815">10</text>
<text x="1450.9" y="758.3" font-size="7.2" textLength="3.8" lengthAdjust="spacingAndGlyphs" stroke="#231815" stroke-width="0.35" fill="#231815">5</text>
<line x1="1467.1" y1="745.5" x2="1467.1" y2="750.8" stroke="#3e3a39" stroke-width="1.3"/>
<clipPath id="h11"><rect x="1228.9" y="496.5" width="246.6" height="248.5"/></clipPath>
<polygon clip-path="url(#h11)" points="1228.9,745.5 1228.9,745.5 1229.8,745.5 1230.7,744.4 1231.6,745.5 1232.5,745.4 1233.4,745.5 1234.3,745.5 1235.2,745.5 1236.1,745.5 1237,745.5 1237.9,745.5 1238.8,745.5 1239.7,745.5 1240.6,745.5 1241.5,743.9 1242.4,745.5 1243.3,745.5 1244.2,744.8 1245.1,745.5 1246,745.5 1246.9,745.5 1247.8,745.5 1248.7,745.5 1249.6,745.5 1250.5,745.5 1251.4,745.5 1252.3,745.5 1253.2,745.5 1254.1,745.5 1255,745.5 1255.9,745.5 1256.8,745.5 1257.7,745.5 1258.6,745.5 1259.5,745.5 1260.4,745.5 1261.3,745.5 1262.2,745.5 1263.1,745.5 1264,745.5 1264.9,745.5 1265.8,745.5 1266.7,745.5 1267.6,745.5 1268.5,745.5 1269.4,745.5 1270.3,745.5 1271.2,745.5 1272.1,744.8 1273,745.5 1273.9,745.5 1274.8,745.5 1275.7,745.5 1276.6,744.5 1277.5,745.5 1278.4,745.5 1279.3,745.5 1280.2,745.5 1281.1,745.5 1282,745.5 1282.9,743.4 1283.8,745.5 1284.7,745.5 1285.6,745.5 1286.5,745.5 1287.4,743.5 1288.3,745.5 1289.2,744.1 1290.1,744.5 1291,742.5 1291.9,744.2 1292.8,742.9 1293.7,744.4 1294.6,739.5 1295.5,740.6 1296.4,740.3 1297.3,740.7 1298.2,739.9 1299.1,738.7 1300,739 1300.9,745 1301.8,739.5 1302.7,733.4 1303.6,732.9 1304.5,729.3 1305.4,729.1 1306.3,731.8 1307.2,725 1308.1,724.5 1309,716.9 1309.9,720.8 1310.8,707.4 1311.7,705.8 1312.6,723.9 1313.5,715 1314.4,718 1315.3,722.7 1316.2,724.2 1317.1,721.5 1318,713.9 1318.9,715 1319.8,698.2 1320.7,707 1321.6,710.3 1322.5,713.1 1323.4,719.9 1324.3,721.3 1325.2,719.3 1326.1,712 1327,715.1 1327.9,709.9 1328.8,705.4 1329.7,694.7 1330.6,688.9 1331.5,705.4 1332.4,709.7 1333.3,714.8 1334.2,710.3 1335.1,711.3 1336,698.9 1336.9,712.9 1337.8,712.1 1338.7,703.2 1339.6,689.5 1340.5,712.2 1341.4,690.4 1342.3,683.8 1343.2,689 1344.1,672.4 1345,699.6 1345.9,691.2 1346.8,688.9 1347.7,681.4 1348.6,700.8 1349.5,689.4 1350.4,686.4 1351.3,674.4 1352.2,668.1 1353.1,674 1354,672.4 1354.9,665.3 1355.8,674 1356.7,668.3 1357.6,670.8 1358.5,663.2 1359.4,659.9 1360.3,662.8 1361.2,647.7 1362.1,641.9 1363,671.1 1363.9,641.2 1364.8,655.3 1365.7,628.3 1366.6,629.3 1367.5,611.7 1368.4,624.7 1369.3,630.6 1370.2,619.5 1371.1,624.6 1372,600.1 1372.9,613.5 1373.8,580.3 1374.7,622 1375.6,609.8 1376.5,590.2 1377.4,632.5 1378.3,609.1 1379.2,605.8 1380.1,586.8 1381,610 1381.9,604.9 1382.8,597.4 1383.7,580.9 1384.6,593 1385.5,570.6 1386.4,576.1 1387.3,565.8 1388.2,538.1 1389.1,581.4 1390,575.3 1390.9,584.3 1391.8,583.8 1392.7,529.3 1393.6,559.1 1394.5,547.4 1395.4,555 1396.3,538.5 1397.2,539.1 1398.1,578.9 1399,571 1399.9,560.1 1400.8,561.9 1401.7,580.3 1402.6,532.8 1403.5,524.3 1404.4,538.7 1405.3,528.2 1406.2,536.7 1407.1,525.2 1408,536 1408.9,542.1 1409.8,565 1410.7,531 1411.6,517.5 1412.5,554.5 1413.4,532.1 1414.3,579.9 1415.2,534.2 1416.1,518.9 1417,522.6 1417.9,503.9 1418.8,516.3 1419.7,524 1420.6,506 1421.5,511.8 1422.4,506.4 1423.3,518.9 1424.2,536.6 1425.1,503.7 1426,520.7 1426.9,507.5 1427.8,497.5 1428.7,502.4 1429.6,551.4 1430.5,497.5 1431.4,528.1 1432.3,529.4 1433.2,497.5 1434.1,522.2 1435,505.7 1435.9,505.6 1436.8,497.5 1437.7,515.9 1438.6,529.8 1439.5,530.3 1440.4,548.9 1441.3,567.2 1442.2,542.1 1443.1,524.3 1444,540.3 1444.9,547.3 1445.8,550.3 1446.7,574.6 1447.6,564.4 1448.5,541.4 1449.4,578.8 1450.3,584.5 1451.2,567.1 1452.1,599.2 1453,589.9 1453.9,592.6 1454.8,619.7 1455.7,615.6 1456.6,613.7 1457.5,643.4 1458.4,647.9 1459.3,616.9 1460.2,623.4 1461.1,655.2 1462,652.7 1462.9,641.3 1463.8,651.4 1464.7,661.5 1465.6,648.3 1466.5,679.9 1467.4,705.5 1468.3,692 1469.2,684 1470.1,681 1471,679.5 1471.4,745.5" fill="#ec6a6b" stroke="#e0341f" stroke-width="0.9" stroke-linejoin="miter" stroke-miterlimit="6"/>
<rect x="1473.4" y="605.4" width="1.6" height="140.1" fill="#d9503c"/>
<rect x="1228.9" y="496.5" width="246.6" height="249" fill="none" stroke="#3e3a39" stroke-width="1.3"/>
<line x1="1233.9" y1="496.5" x2="1233.9" y2="745.5" stroke="#3e3a39" stroke-width="1.3"/>
<line x1="1471.5" y1="496.5" x2="1471.5" y2="745.5" stroke="#3e3a39" stroke-width="1.3"/>
<line x1="1233.9" y1="691.5" x2="1471.5" y2="691.5" stroke="#3e3a39" stroke-width="1.3"/>
<line x1="1349.2" y1="495.5" x2="1355.7" y2="495.5" stroke="#1a1a1a" stroke-width="1.8"/>
<text x="1345.9" y="626.1" font-size="8.6" textLength="11" lengthAdjust="spacingAndGlyphs" stroke="#231815" stroke-width="0.12" fill="#231815">P2</text>
<line x1="1503.3" y1="745.5" x2="1511.3" y2="745.5" stroke="#3e3a39" stroke-width="1.3"/>
<text x="1503.3" y="745.5" font-size="9.5" text-anchor="middle" transform="rotate(-90 1503.3 745.5)" textLength="4.2" lengthAdjust="spacingAndGlyphs" stroke="#231815" stroke-width="0.45" fill="#231815">0</text>
<line x1="1506.7" y1="735.4" x2="1511.3" y2="735.4" stroke="#3e3a39" stroke-width="1.3"/>
<line x1="1506.7" y1="725.3" x2="1511.3" y2="725.3" stroke="#3e3a39" stroke-width="1.3"/>
<line x1="1506.7" y1="715.2" x2="1511.3" y2="715.2" stroke="#3e3a39" stroke-width="1.3"/>
<line x1="1506.7" y1="705.1" x2="1511.3" y2="705.1" stroke="#3e3a39" stroke-width="1.3"/>
<line x1="1503.3" y1="695.1" x2="1511.3" y2="695.1" stroke="#3e3a39" stroke-width="1.3"/>
<text x="1503.3" y="695.1" font-size="9.5" text-anchor="middle" transform="rotate(-90 1503.3 695.1)" textLength="8.4" lengthAdjust="spacingAndGlyphs" stroke="#231815" stroke-width="0.45" fill="#231815">25</text>
<line x1="1506.7" y1="685" x2="1511.3" y2="685" stroke="#3e3a39" stroke-width="1.3"/>
<line x1="1506.7" y1="674.9" x2="1511.3" y2="674.9" stroke="#3e3a39" stroke-width="1.3"/>
<line x1="1506.7" y1="664.8" x2="1511.3" y2="664.8" stroke="#3e3a39" stroke-width="1.3"/>
<line x1="1506.7" y1="654.7" x2="1511.3" y2="654.7" stroke="#3e3a39" stroke-width="1.3"/>
<line x1="1503.3" y1="644.6" x2="1511.3" y2="644.6" stroke="#3e3a39" stroke-width="1.3"/>
<text x="1503.3" y="644.6" font-size="9.5" text-anchor="middle" transform="rotate(-90 1503.3 644.6)" textLength="8.4" lengthAdjust="spacingAndGlyphs" stroke="#231815" stroke-width="0.45" fill="#231815">50</text>
<line x1="1506.7" y1="634.5" x2="1511.3" y2="634.5" stroke="#3e3a39" stroke-width="1.3"/>
<line x1="1506.7" y1="624.4" x2="1511.3" y2="624.4" stroke="#3e3a39" stroke-width="1.3"/>
<line x1="1506.7" y1="614.3" x2="1511.3" y2="614.3" stroke="#3e3a39" stroke-width="1.3"/>
<line x1="1506.7" y1="604.3" x2="1511.3" y2="604.3" stroke="#3e3a39" stroke-width="1.3"/>
<line x1="1503.3" y1="594.2" x2="1511.3" y2="594.2" stroke="#3e3a39" stroke-width="1.3"/>
<text x="1503.3" y="594.2" font-size="9.5" text-anchor="middle" transform="rotate(-90 1503.3 594.2)" textLength="8.4" lengthAdjust="spacingAndGlyphs" stroke="#231815" stroke-width="0.45" fill="#231815">75</text>
<line x1="1506.7" y1="584.1" x2="1511.3" y2="584.1" stroke="#3e3a39" stroke-width="1.3"/>
<line x1="1506.7" y1="574" x2="1511.3" y2="574" stroke="#3e3a39" stroke-width="1.3"/>
<line x1="1506.7" y1="563.9" x2="1511.3" y2="563.9" stroke="#3e3a39" stroke-width="1.3"/>
<line x1="1506.7" y1="553.8" x2="1511.3" y2="553.8" stroke="#3e3a39" stroke-width="1.3"/>
<line x1="1503.3" y1="543.7" x2="1511.3" y2="543.7" stroke="#3e3a39" stroke-width="1.3"/>
<text x="1503.3" y="543.7" font-size="9.5" text-anchor="middle" transform="rotate(-90 1503.3 543.7)" textLength="12.6" lengthAdjust="spacingAndGlyphs" stroke="#231815" stroke-width="0.45" fill="#231815">100</text>
<line x1="1506.7" y1="533.6" x2="1511.3" y2="533.6" stroke="#3e3a39" stroke-width="1.3"/>
<line x1="1506.7" y1="523.5" x2="1511.3" y2="523.5" stroke="#3e3a39" stroke-width="1.3"/>
<line x1="1506.7" y1="513.4" x2="1511.3" y2="513.4" stroke="#3e3a39" stroke-width="1.3"/>
<line x1="1506.7" y1="503.4" x2="1511.3" y2="503.4" stroke="#3e3a39" stroke-width="1.3"/>
<line x1="1514" y1="745.5" x2="1514" y2="750.8" stroke="#3e3a39" stroke-width="1.3"/>
<line x1="1521.7" y1="745.5" x2="1521.7" y2="750.8" stroke="#3e3a39" stroke-width="1.3"/>
<line x1="1527.7" y1="745.5" x2="1527.7" y2="750.8" stroke="#3e3a39" stroke-width="1.3"/>
<line x1="1532.5" y1="745.5" x2="1532.5" y2="750.8" stroke="#3e3a39" stroke-width="1.3"/>
<line x1="1536.7" y1="745.5" x2="1536.7" y2="750.8" stroke="#3e3a39" stroke-width="1.3"/>
<line x1="1540.2" y1="745.5" x2="1540.2" y2="750.8" stroke="#3e3a39" stroke-width="1.3"/>
<line x1="1543.4" y1="745.5" x2="1543.4" y2="750.8" stroke="#3e3a39" stroke-width="1.3"/>
<line x1="1546.2" y1="745.5" x2="1546.2" y2="753.5" stroke="#3e3a39" stroke-width="1.3"/>
<text x="1548" y="763.5" font-size="9" text-anchor="end" textLength="7.4" lengthAdjust="spacingAndGlyphs" stroke="#231815" stroke-width="0.35" fill="#231815">10</text>
<text x="1548.5" y="758.3" font-size="7.2" textLength="3.8" lengthAdjust="spacingAndGlyphs" stroke="#231815" stroke-width="0.35" fill="#231815">2</text>
<line x1="1564.7" y1="745.5" x2="1564.7" y2="750.8" stroke="#3e3a39" stroke-width="1.3"/>
<line x1="1575.6" y1="745.5" x2="1575.6" y2="750.8" stroke="#3e3a39" stroke-width="1.3"/>
<line x1="1583.3" y1="745.5" x2="1583.3" y2="750.8" stroke="#3e3a39" stroke-width="1.3"/>
<line x1="1589.3" y1="745.5" x2="1589.3" y2="750.8" stroke="#3e3a39" stroke-width="1.3"/>
<line x1="1594.1" y1="745.5" x2="1594.1" y2="750.8" stroke="#3e3a39" stroke-width="1.3"/>
<line x1="1598.3" y1="745.5" x2="1598.3" y2="750.8" stroke="#3e3a39" stroke-width="1.3"/>
<line x1="1601.8" y1="745.5" x2="1601.8" y2="750.8" stroke="#3e3a39" stroke-width="1.3"/>
<line x1="1605" y1="745.5" x2="1605" y2="750.8" stroke="#3e3a39" stroke-width="1.3"/>
<line x1="1607.8" y1="745.5" x2="1607.8" y2="753.5" stroke="#3e3a39" stroke-width="1.3"/>
<text x="1609.6" y="763.5" font-size="9" text-anchor="end" textLength="7.4" lengthAdjust="spacingAndGlyphs" stroke="#231815" stroke-width="0.35" fill="#231815">10</text>
<text x="1610.1" y="758.3" font-size="7.2" textLength="3.8" lengthAdjust="spacingAndGlyphs" stroke="#231815" stroke-width="0.35" fill="#231815">3</text>
<line x1="1626.3" y1="745.5" x2="1626.3" y2="750.8" stroke="#3e3a39" stroke-width="1.3"/>
<line x1="1637.2" y1="745.5" x2="1637.2" y2="750.8" stroke="#3e3a39" stroke-width="1.3"/>
<line x1="1644.9" y1="745.5" x2="1644.9" y2="750.8" stroke="#3e3a39" stroke-width="1.3"/>
<line x1="1650.9" y1="745.5" x2="1650.9" y2="750.8" stroke="#3e3a39" stroke-width="1.3"/>
<line x1="1655.7" y1="745.5" x2="1655.7" y2="750.8" stroke="#3e3a39" stroke-width="1.3"/>
<line x1="1659.9" y1="745.5" x2="1659.9" y2="750.8" stroke="#3e3a39" stroke-width="1.3"/>
<line x1="1663.4" y1="745.5" x2="1663.4" y2="750.8" stroke="#3e3a39" stroke-width="1.3"/>
<line x1="1666.6" y1="745.5" x2="1666.6" y2="750.8" stroke="#3e3a39" stroke-width="1.3"/>
<line x1="1669.4" y1="745.5" x2="1669.4" y2="753.5" stroke="#3e3a39" stroke-width="1.3"/>
<text x="1671.2" y="763.5" font-size="9" text-anchor="end" textLength="7.4" lengthAdjust="spacingAndGlyphs" stroke="#231815" stroke-width="0.35" fill="#231815">10</text>
<text x="1671.7" y="758.3" font-size="7.2" textLength="3.8" lengthAdjust="spacingAndGlyphs" stroke="#231815" stroke-width="0.35" fill="#231815">4</text>
<line x1="1687.9" y1="745.5" x2="1687.9" y2="750.8" stroke="#3e3a39" stroke-width="1.3"/>
<line x1="1698.8" y1="745.5" x2="1698.8" y2="750.8" stroke="#3e3a39" stroke-width="1.3"/>
<line x1="1706.5" y1="745.5" x2="1706.5" y2="750.8" stroke="#3e3a39" stroke-width="1.3"/>
<line x1="1712.5" y1="745.5" x2="1712.5" y2="750.8" stroke="#3e3a39" stroke-width="1.3"/>
<line x1="1717.3" y1="745.5" x2="1717.3" y2="750.8" stroke="#3e3a39" stroke-width="1.3"/>
<line x1="1721.5" y1="745.5" x2="1721.5" y2="750.8" stroke="#3e3a39" stroke-width="1.3"/>
<line x1="1725" y1="745.5" x2="1725" y2="750.8" stroke="#3e3a39" stroke-width="1.3"/>
<line x1="1728.2" y1="745.5" x2="1728.2" y2="750.8" stroke="#3e3a39" stroke-width="1.3"/>
<line x1="1731" y1="745.5" x2="1731" y2="753.5" stroke="#3e3a39" stroke-width="1.3"/>
<text x="1732.8" y="763.5" font-size="9" text-anchor="end" textLength="7.4" lengthAdjust="spacingAndGlyphs" stroke="#231815" stroke-width="0.35" fill="#231815">10</text>
<text x="1733.3" y="758.3" font-size="7.2" textLength="3.8" lengthAdjust="spacingAndGlyphs" stroke="#231815" stroke-width="0.35" fill="#231815">5</text>
<line x1="1749.5" y1="745.5" x2="1749.5" y2="750.8" stroke="#3e3a39" stroke-width="1.3"/>
<clipPath id="h12"><rect x="1511.3" y="496.5" width="246.6" height="248.5"/></clipPath>
<polygon clip-path="url(#h12)" points="1511.3,745.5 1511.3,745.5 1512.2,745.5 1513.1,745.5 1514,745.5 1514.9,745.5 1515.8,743.9 1516.7,745 1517.6,745.5 1518.5,745.1 1519.4,745.5 1520.3,745.5 1521.2,745.5 1522.1,745.5 1523,745.5 1523.9,744.7 1524.8,745.5 1525.7,745.5 1526.6,745.5 1527.5,745.5 1528.4,745.5 1529.3,745.5 1530.2,745.5 1531.1,745.5 1532,745.5 1532.9,745.5 1533.8,744.3 1534.7,745.5 1535.6,745.5 1536.5,745.5 1537.4,745.5 1538.3,745.5 1539.2,745.5 1540.1,745.5 1541,745.5 1541.9,745.5 1542.8,745.5 1543.7,745.5 1544.6,745.5 1545.5,745.5 1546.4,745.5 1547.3,745.5 1548.2,745.5 1549.1,745.5 1550,745.5 1550.9,745.5 1551.8,745.5 1552.7,745.5 1553.6,745.5 1554.5,745.5 1555.4,745.5 1556.3,745.5 1557.2,744.7 1558.1,745.5 1559,745.5 1559.9,745.5 1560.8,745.5 1561.7,745.1 1562.6,745.5 1563.5,745.5 1564.4,745.5 1565.3,745.5 1566.2,745.5 1567.1,745.5 1568,743.7 1568.9,742.7 1569.8,741.7 1570.7,743 1571.6,742.3 1572.5,741.4 1573.4,745.5 1574.3,744.7 1575.2,744.9 1576.1,745.2 1577,739.6 1577.9,742.6 1578.8,736 1579.7,745.1 1580.6,738.5 1581.5,736.7 1582.4,735.6 1583.3,733.1 1584.2,735.6 1585.1,730 1586,730.8 1586.9,726.3 1587.8,722.4 1588.7,723.8 1589.6,729.6 1590.5,726.7 1591.4,704 1592.3,706.9 1593.2,710.8 1594.1,706.7 1595,705.3 1595.9,693.8 1596.8,711.5 1597.7,718.9 1598.6,720.9 1599.5,724.5 1600.4,726.3 1601.3,710.1 1602.2,713.7 1603.1,720 1604,712.2 1604.9,715.5 1605.8,710.8 1606.7,716.2 1607.6,713 1608.5,701 1609.4,692.8 1610.3,695.6 1611.2,698.6 1612.1,703.7 1613,713.2 1613.9,701.5 1614.8,706 1615.7,704.3 1616.6,703.5 1617.5,715.8 1618.4,716.1 1619.3,718.5 1620.2,714.2 1621.1,701.3 1622,684.1 1622.9,696.3 1623.8,689.4 1624.7,713.3 1625.6,699.8 1626.5,691.1 1627.4,675.1 1628.3,687.1 1629.2,672.4 1630.1,678.4 1631,688.4 1631.9,670.6 1632.8,699.9 1633.7,679.9 1634.6,681.2 1635.5,676.7 1636.4,668.4 1637.3,703.2 1638.2,696.8 1639.1,678.6 1640,670.6 1640.9,670.9 1641.8,675.1 1642.7,668.3 1643.6,658.6 1644.5,670 1645.4,683.3 1646.3,664.2 1647.2,656.5 1648.1,659 1649,649.5 1649.9,644.1 1650.8,646.6 1651.7,624.7 1652.6,637.8 1653.5,626.4 1654.4,625.5 1655.3,617.9 1656.2,620.2 1657.1,619.8 1658,631.2 1658.9,630.1 1659.8,618.5 1660.7,621.9 1661.6,602.7 1662.5,620.4 1663.4,613.4 1664.3,608.8 1665.2,616.5 1666.1,667.9 1667,591.9 1667.9,636.5 1668.8,604.1 1669.7,617.1 1670.6,640.2 1671.5,593.2 1672.4,580.9 1673.3,590.3 1674.2,550.2 1675.1,557 1676,564.8 1676.9,593.2 1677.8,590.3 1678.7,587.3 1679.6,595.9 1680.5,583.8 1681.4,565.2 1682.3,585 1683.2,569 1684.1,571 1685,577.7 1685.9,550.7 1686.8,523.9 1687.7,533.9 1688.6,531.4 1689.5,556.7 1690.4,522.3 1691.3,552.8 1692.2,555.2 1693.1,527 1694,563.2 1694.9,579.1 1695.8,555.1 1696.7,556.4 1697.6,529.6 1698.5,527.4 1699.4,511.7 1700.3,536.5 1701.2,530.8 1702.1,512.2 1703,515.6 1703.9,514.9 1704.8,509.7 1705.7,534.8 1706.6,502.7 1707.5,511.3 1708.4,511.7 1709.3,503.2 1710.2,543.3 1711.1,528.5 1712,513.7 1712.9,514.6 1713.8,517.4 1714.7,515.3 1715.6,551.4 1716.5,552.7 1717.4,543.9 1718.3,526.2 1719.2,524 1720.1,547.2 1721,571.7 1721.9,546.8 1722.8,509.7 1723.7,561.7 1724.6,552.2 1725.5,546.5 1726.4,547.1 1727.3,545.2 1728.2,564 1729.1,554.1 1730,574.6 1730.9,563.6 1731.8,584.7 1732.7,561.8 1733.6,579 1734.5,605.8 1735.4,580.2 1736.3,607.2 1737.2,618.6 1738.1,623.8 1739,637.8 1739.9,623.9 1740.8,640.3 1741.7,648.3 1742.6,613.3 1743.5,671.9 1744.4,657.2 1745.3,659.5 1746.2,675.3 1747.1,686.2 1748,684 1748.9,675.6 1749.8,663.3 1750.7,664.8 1751.6,657 1752.5,671.1 1753.4,663.5 1754.3,688.2 1754.6,745.5" fill="#ec6a6b" stroke="#e0341f" stroke-width="0.9" stroke-linejoin="miter" stroke-miterlimit="6"/>
<rect x="1755.8" y="615.3" width="1.6" height="130.2" fill="#d9503c"/>
<rect x="1511.3" y="496.5" width="246.6" height="249" fill="none" stroke="#3e3a39" stroke-width="1.3"/>
<line x1="1516.3" y1="496.5" x2="1516.3" y2="745.5" stroke="#3e3a39" stroke-width="1.3"/>
<line x1="1753.9" y1="496.5" x2="1753.9" y2="745.5" stroke="#3e3a39" stroke-width="1.3"/>
<line x1="1516.3" y1="691.5" x2="1753.9" y2="691.5" stroke="#3e3a39" stroke-width="1.3"/>
<line x1="1631.6" y1="495.5" x2="1638.1" y2="495.5" stroke="#1a1a1a" stroke-width="1.8"/>
<text x="1628.3" y="626.1" font-size="8.6" textLength="11" lengthAdjust="spacingAndGlyphs" stroke="#231815" stroke-width="0.12" fill="#231815">P2</text>
<text x="206.4" y="53.1" font-size="31" text-anchor="middle" textLength="15.6" lengthAdjust="spacingAndGlyphs" stroke="#231815" stroke-width="0.2" fill="#231815">0</text>
<text x="221.9" y="53.1" font-size="31" textLength="40.5" lengthAdjust="spacingAndGlyphs" stroke="#231815" stroke-width="0.2" fill="#231815">µM</text>
<text x="490.8" y="53.1" font-size="31" text-anchor="middle" textLength="15.6" lengthAdjust="spacingAndGlyphs" stroke="#231815" stroke-width="0.2" fill="#231815">1</text>
<text x="508.3" y="53.1" font-size="31" textLength="40.5" lengthAdjust="spacingAndGlyphs" stroke="#231815" stroke-width="0.2" fill="#231815">µM</text>
<text x="776.6" y="53.1" font-size="31" text-anchor="middle" textLength="15.6" lengthAdjust="spacingAndGlyphs" stroke="#231815" stroke-width="0.2" fill="#231815">2</text>
<text x="796.4" y="53.1" font-size="31" textLength="40.5" lengthAdjust="spacingAndGlyphs" stroke="#231815" stroke-width="0.2" fill="#231815">µM</text>
<text x="1062.8" y="53.1" font-size="31" text-anchor="middle" textLength="15.6" lengthAdjust="spacingAndGlyphs" stroke="#231815" stroke-width="0.2" fill="#231815">3</text>
<text x="1088.3" y="53.1" font-size="31" textLength="40.5" lengthAdjust="spacingAndGlyphs" stroke="#231815" stroke-width="0.2" fill="#231815">µM</text>
<text x="1347.8" y="53.1" font-size="31" text-anchor="middle" textLength="15.6" lengthAdjust="spacingAndGlyphs" stroke="#231815" stroke-width="0.2" fill="#231815">4</text>
<text x="1368.8" y="53.1" font-size="31" textLength="40.5" lengthAdjust="spacingAndGlyphs" stroke="#231815" stroke-width="0.2" fill="#231815">µM</text>
<text x="1635.8" y="53.1" font-size="31" text-anchor="middle" textLength="15.6" lengthAdjust="spacingAndGlyphs" stroke="#231815" stroke-width="0.2" fill="#231815">5</text>
<text x="1653.2" y="53.1" font-size="31" textLength="40.5" lengthAdjust="spacingAndGlyphs" stroke="#231815" stroke-width="0.2" fill="#231815">µM</text>
<text x="206.4" y="481.8" font-size="31" text-anchor="middle" textLength="15.6" lengthAdjust="spacingAndGlyphs" stroke="#231815" stroke-width="0.2" fill="#231815">0</text>
<text x="221.9" y="481.8" font-size="31" textLength="40.5" lengthAdjust="spacingAndGlyphs" stroke="#231815" stroke-width="0.2" fill="#231815">µM</text>
<text x="490.8" y="481.8" font-size="31" text-anchor="middle" textLength="15.6" lengthAdjust="spacingAndGlyphs" stroke="#231815" stroke-width="0.2" fill="#231815">1</text>
<text x="508.3" y="481.8" font-size="31" textLength="40.5" lengthAdjust="spacingAndGlyphs" stroke="#231815" stroke-width="0.2" fill="#231815">µM</text>
<text x="776.6" y="481.8" font-size="31" text-anchor="middle" textLength="15.6" lengthAdjust="spacingAndGlyphs" stroke="#231815" stroke-width="0.2" fill="#231815">2</text>
<text x="796.4" y="481.8" font-size="31" textLength="40.5" lengthAdjust="spacingAndGlyphs" stroke="#231815" stroke-width="0.2" fill="#231815">µM</text>
<text x="1062.8" y="481.8" font-size="31" text-anchor="middle" textLength="15.6" lengthAdjust="spacingAndGlyphs" stroke="#231815" stroke-width="0.2" fill="#231815">3</text>
<text x="1088.3" y="481.8" font-size="31" textLength="40.5" lengthAdjust="spacingAndGlyphs" stroke="#231815" stroke-width="0.2" fill="#231815">µM</text>
<text x="1347.8" y="481.8" font-size="31" text-anchor="middle" textLength="15.6" lengthAdjust="spacingAndGlyphs" stroke="#231815" stroke-width="0.2" fill="#231815">4</text>
<text x="1368.8" y="481.8" font-size="31" textLength="40.5" lengthAdjust="spacingAndGlyphs" stroke="#231815" stroke-width="0.2" fill="#231815">µM</text>
<text x="1635.8" y="481.8" font-size="31" text-anchor="middle" textLength="15.6" lengthAdjust="spacingAndGlyphs" stroke="#231815" stroke-width="0.2" fill="#231815">5</text>
<text x="1653.2" y="481.8" font-size="31" textLength="40.5" lengthAdjust="spacingAndGlyphs" stroke="#231815" stroke-width="0.2" fill="#231815">µM</text>
<text x="3.5" y="35.2" font-size="44" fill="#231815">A</text>
<text x="0.8" y="458" font-size="44.5" fill="#231815">B</text>
<text x="2.5" y="895" font-size="45" fill="#231815">C</text>
<text x="954.3" y="895" font-size="45" fill="#231815">D</text>
<text x="0.5" y="1599.5" font-size="43" fill="#231815">E</text>
<text x="0.5" y="2081.6" font-size="43" fill="#231815">F</text>
<text x="31.2" y="252.4" font-size="38.4" transform="rotate(-90 31.2 252.4)" textLength="152.5" lengthAdjust="spacingAndGlyphs" fill="#231815">KYSE-30</text>
<text x="70.1" y="311" font-size="27.5" transform="rotate(-90 70.1 311)" textLength="83" lengthAdjust="spacingAndGlyphs" fill="#231815">Counts</text>
<line x1="64.3" y1="76" x2="64.3" y2="205.2" stroke="#231815" stroke-width="1.6"/>
<path d="M64.3 68 L72.9 84 L64.3 79.5 L55.7 84 Z" fill="#231815"/>
<text x="93.2" y="377" font-size="25.6" textLength="217.5" lengthAdjust="spacingAndGlyphs" fill="#231815">DCF Fluorescence</text>
<line x1="316" y1="368.4" x2="1744.6" y2="368.4" stroke="#231815" stroke-width="1.6"/>
<path d="M1752.6 368.4 L1736.6 359.8 L1741.1 368.4 L1736.6 377 Z" fill="#231815"/>
<text x="30.2" y="658" font-size="38.4" transform="rotate(-90 30.2 658)" textLength="172.5" lengthAdjust="spacingAndGlyphs" fill="#231815">KYSE-450</text>
<text x="65.6" y="717.2" font-size="27.5" transform="rotate(-90 65.6 717.2)" textLength="82.5" lengthAdjust="spacingAndGlyphs" fill="#231815">Counts</text>
<line x1="60.1" y1="482.9" x2="60.1" y2="612.5" stroke="#231815" stroke-width="1.6"/>
<path d="M60.1 474.9 L68.7 490.9 L60.1 486.4 L51.5 490.9 Z" fill="#231815"/>
<text x="89.5" y="807.3" font-size="25.6" textLength="217.5" lengthAdjust="spacingAndGlyphs" fill="#231815">DCF Fluorescence</text>
<line x1="312" y1="803.7" x2="1741" y2="803.7" stroke="#231815" stroke-width="1.6"/>
<path d="M1749 803.7 L1733 795.1 L1737.5 803.7 L1733 812.3 Z" fill="#231815"/>
<rect x="238.2" y="1401.3" width="52.2" height="46.5" rx="3" fill="#2a4ea6"/>
<rect x="248.8" y="1399.8" width="31" height="8.9" rx="4.4" fill="#2a4ea6"/>
<rect x="327.4" y="1355.6" width="52.2" height="92.2" rx="3" fill="#d92a22"/>
<rect x="338" y="1354.2" width="31" height="8.9" rx="4.4" fill="#d92a22"/>
<rect x="416.6" y="1278.4" width="52.2" height="169.4" rx="3" fill="#37ac38"/>
<rect x="427.2" y="1276.6" width="31" height="8.9" rx="4.4" fill="#37ac38"/>
<rect x="505.8" y="1213.7" width="52.2" height="234.1" rx="3" fill="#7f3f95"/>
<rect x="516.4" y="1212.4" width="31" height="8.9" rx="4.4" fill="#7f3f95"/>
<rect x="595" y="1061.4" width="52.2" height="386.4" rx="3" fill="#ec7c21"/>
<rect x="605.6" y="1055.5" width="31" height="8.9" rx="4.4" fill="#ec7c21"/>
<rect x="684.2" y="1000.4" width="52.2" height="447.4" rx="3" fill="#000000"/>
<rect x="694.8" y="999" width="31" height="8.9" rx="4.4" fill="#000000"/>
<line x1="219.2" y1="913" x2="219.2" y2="1450" stroke="#000" stroke-width="4.8" stroke-linecap="round"/>
<line x1="204.8" y1="1447.8" x2="757" y2="1447.8" stroke="#000" stroke-width="4.8" stroke-linecap="round"/>
<line x1="204.8" y1="913" x2="219.2" y2="913" stroke="#000" stroke-width="4.8" stroke-linecap="round"/>
<text x="197" y="923.6" font-size="29.5" text-anchor="end" fill="#000">6000</text>
<line x1="204.8" y1="1091.3" x2="219.2" y2="1091.3" stroke="#000" stroke-width="4.8" stroke-linecap="round"/>
<text x="197" y="1101.9" font-size="29.5" text-anchor="end" fill="#000">4000</text>
<line x1="204.8" y1="1269.5" x2="219.2" y2="1269.5" stroke="#000" stroke-width="4.8" stroke-linecap="round"/>
<text x="197" y="1280.1" font-size="29.5" text-anchor="end" fill="#000">2000</text>
<line x1="204.8" y1="1447.8" x2="219.2" y2="1447.8" stroke="#000" stroke-width="4.8" stroke-linecap="round"/>
<text x="197" y="1458.4" font-size="29.5" text-anchor="end" fill="#000">0</text>
<line x1="264.3" y1="1447.8" x2="264.3" y2="1463.4" stroke="#000" stroke-width="4.8" stroke-linecap="round"/>
<text x="263.3" y="1505" font-size="28" text-anchor="middle" fill="#000">0</text>
<line x1="353.5" y1="1447.8" x2="353.5" y2="1463.4" stroke="#000" stroke-width="4.8" stroke-linecap="round"/>
<text x="352.5" y="1505" font-size="28" text-anchor="middle" fill="#000">1</text>
<line x1="442.7" y1="1447.8" x2="442.7" y2="1463.4" stroke="#000" stroke-width="4.8" stroke-linecap="round"/>
<text x="441.7" y="1505" font-size="28" text-anchor="middle" fill="#000">2</text>
<line x1="531.9" y1="1447.8" x2="531.9" y2="1463.4" stroke="#000" stroke-width="4.8" stroke-linecap="round"/>
<text x="530.9" y="1505" font-size="28" text-anchor="middle" fill="#000">3</text>
<line x1="621.1" y1="1447.8" x2="621.1" y2="1463.4" stroke="#000" stroke-width="4.8" stroke-linecap="round"/>
<text x="620.1" y="1505" font-size="28" text-anchor="middle" fill="#000">4</text>
<line x1="710.3" y1="1447.8" x2="710.3" y2="1463.4" stroke="#000" stroke-width="4.8" stroke-linecap="round"/>
<text x="709.3" y="1505" font-size="28" text-anchor="middle" fill="#000">5</text>
<text x="530.1" y="915" font-size="37.5" text-anchor="middle" textLength="153" lengthAdjust="spacingAndGlyphs" fill="#000">KYSE-30</text>
<text x="111.8" y="1240" font-size="36.5" transform="rotate(-90 111.8 1240)" textLength="201" lengthAdjust="spacingAndGlyphs" fill="#000">ROS activity</text>
<text x="4" y="1507" font-size="37" textLength="141.5" lengthAdjust="spacingAndGlyphs" fill="#000">Cisplatin</text>
<text x="158" y="1505" font-size="34" fill="#000">(</text>
<text x="168.5" y="1507" font-size="37" textLength="52" lengthAdjust="spacingAndGlyphs" fill="#000">µM</text>
<text x="221.5" y="1505" font-size="34" fill="#000">)</text>
<rect x="1181.4" y="1296.8" width="52.2" height="156.4" rx="3" fill="#2a4ea6"/>
<rect x="1192" y="1292" width="31" height="8.9" rx="4.4" fill="#2a4ea6"/>
<rect x="1270.7" y="1266.3" width="52.2" height="186.9" rx="3" fill="#d92a22"/>
<rect x="1281.3" y="1260.4" width="31" height="8.9" rx="4.4" fill="#d92a22"/>
<rect x="1360" y="1141.4" width="52.2" height="311.8" rx="3" fill="#37ac38"/>
<rect x="1370.6" y="1140" width="31" height="8.9" rx="4.4" fill="#37ac38"/>
<rect x="1449.3" y="1060.2" width="52.2" height="393" rx="3" fill="#7f3f95"/>
<rect x="1459.9" y="1058.9" width="31" height="8.9" rx="4.4" fill="#7f3f95"/>
<rect x="1538.6" y="997.5" width="52.2" height="455.7" rx="3" fill="#ec7c21"/>
<rect x="1549.2" y="995.5" width="31" height="8.9" rx="4.4" fill="#ec7c21"/>
<rect x="1627.9" y="988.3" width="52.2" height="464.9" rx="3" fill="#000000"/>
<rect x="1638.5" y="975.2" width="31" height="8.9" rx="4.4" fill="#000000"/>
<rect x="1650" y="979.2" width="8" height="13.1" fill="#000000"/>
<line x1="1162.9" y1="917.9" x2="1162.9" y2="1455.4" stroke="#000" stroke-width="4.8" stroke-linecap="round"/>
<line x1="1148.5" y1="1453.2" x2="1701" y2="1453.2" stroke="#000" stroke-width="4.8" stroke-linecap="round"/>
<line x1="1148.5" y1="917.9" x2="1162.9" y2="917.9" stroke="#000" stroke-width="4.8" stroke-linecap="round"/>
<text x="1135" y="928.5" font-size="29.5" text-anchor="end" fill="#000">25000</text>
<line x1="1148.5" y1="1025.3" x2="1162.9" y2="1025.3" stroke="#000" stroke-width="4.8" stroke-linecap="round"/>
<text x="1135" y="1035.9" font-size="29.5" text-anchor="end" fill="#000">20000</text>
<line x1="1148.5" y1="1132.2" x2="1162.9" y2="1132.2" stroke="#000" stroke-width="4.8" stroke-linecap="round"/>
<text x="1135" y="1142.8" font-size="29.5" text-anchor="end" fill="#000">15000</text>
<line x1="1148.5" y1="1239" x2="1162.9" y2="1239" stroke="#000" stroke-width="4.8" stroke-linecap="round"/>
<text x="1135" y="1249.6" font-size="29.5" text-anchor="end" fill="#000">10000</text>
<line x1="1148.5" y1="1345.9" x2="1162.9" y2="1345.9" stroke="#000" stroke-width="4.8" stroke-linecap="round"/>
<text x="1135" y="1356.5" font-size="29.5" text-anchor="end" fill="#000">5000</text>
<line x1="1148.5" y1="1453.2" x2="1162.9" y2="1453.2" stroke="#000" stroke-width="4.8" stroke-linecap="round"/>
<text x="1135" y="1463.8" font-size="29.5" text-anchor="end" fill="#000">0</text>
<line x1="1207.5" y1="1453.2" x2="1207.5" y2="1468.8" stroke="#000" stroke-width="4.8" stroke-linecap="round"/>
<text x="1206.5" y="1511" font-size="28" text-anchor="middle" fill="#000">0</text>
<line x1="1296.8" y1="1453.2" x2="1296.8" y2="1468.8" stroke="#000" stroke-width="4.8" stroke-linecap="round"/>
<text x="1295.8" y="1511" font-size="28" text-anchor="middle" fill="#000">1</text>
<line x1="1386.1" y1="1453.2" x2="1386.1" y2="1468.8" stroke="#000" stroke-width="4.8" stroke-linecap="round"/>
<text x="1385.1" y="1511" font-size="28" text-anchor="middle" fill="#000">2</text>
<line x1="1475.4" y1="1453.2" x2="1475.4" y2="1468.8" stroke="#000" stroke-width="4.8" stroke-linecap="round"/>
<text x="1474.4" y="1511" font-size="28" text-anchor="middle" fill="#000">3</text>
<line x1="1564.7" y1="1453.2" x2="1564.7" y2="1468.8" stroke="#000" stroke-width="4.8" stroke-linecap="round"/>
<text x="1563.7" y="1511" font-size="28" text-anchor="middle" fill="#000">4</text>
<line x1="1654" y1="1453.2" x2="1654" y2="1468.8" stroke="#000" stroke-width="4.8" stroke-linecap="round"/>
<text x="1653" y="1511" font-size="28" text-anchor="middle" fill="#000">5</text>
<text x="1436.3" y="915.2" font-size="37.5" text-anchor="middle" textLength="174.3" lengthAdjust="spacingAndGlyphs" fill="#000">KYSE-450</text>
<text x="1030" y="1240.7" font-size="36.5" transform="rotate(-90 1030 1240.7)" textLength="201" lengthAdjust="spacingAndGlyphs" fill="#000">ROS activity</text>
<text x="957.4" y="1506" font-size="37" textLength="141.5" lengthAdjust="spacingAndGlyphs" fill="#000">Cisplatin</text>
<text x="1111" y="1504" font-size="34" fill="#000">(</text>
<text x="1121.5" y="1506" font-size="37" textLength="52" lengthAdjust="spacingAndGlyphs" fill="#000">µM</text>
<text x="1174.5" y="1504" font-size="34" fill="#000">)</text>
<line x1="160.6" y1="1898.2" x2="168.6" y2="1898.2" stroke="#3e3a39" stroke-width="1.3"/>
<text x="160.6" y="1898.2" font-size="9.5" text-anchor="middle" transform="rotate(-90 160.6 1898.2)" textLength="4.2" lengthAdjust="spacingAndGlyphs" stroke="#231815" stroke-width="0.45" fill="#231815">0</text>
<line x1="164" y1="1889.9" x2="168.6" y2="1889.9" stroke="#3e3a39" stroke-width="1.3"/>
<line x1="164" y1="1881.6" x2="168.6" y2="1881.6" stroke="#3e3a39" stroke-width="1.3"/>
<line x1="164" y1="1873.3" x2="168.6" y2="1873.3" stroke="#3e3a39" stroke-width="1.3"/>
<line x1="164" y1="1865" x2="168.6" y2="1865" stroke="#3e3a39" stroke-width="1.3"/>
<line x1="160.6" y1="1856.8" x2="168.6" y2="1856.8" stroke="#3e3a39" stroke-width="1.3"/>
<text x="160.6" y="1856.8" font-size="9.5" text-anchor="middle" transform="rotate(-90 160.6 1856.8)" textLength="8.4" lengthAdjust="spacingAndGlyphs" stroke="#231815" stroke-width="0.45" fill="#231815">25</text>
<line x1="164" y1="1848.5" x2="168.6" y2="1848.5" stroke="#3e3a39" stroke-width="1.3"/>
<line x1="164" y1="1840.2" x2="168.6" y2="1840.2" stroke="#3e3a39" stroke-width="1.3"/>
<line x1="164" y1="1831.9" x2="168.6" y2="1831.9" stroke="#3e3a39" stroke-width="1.3"/>
<line x1="164" y1="1823.6" x2="168.6" y2="1823.6" stroke="#3e3a39" stroke-width="1.3"/>
<line x1="160.6" y1="1815.3" x2="168.6" y2="1815.3" stroke="#3e3a39" stroke-width="1.3"/>
<text x="160.6" y="1815.3" font-size="9.5" text-anchor="middle" transform="rotate(-90 160.6 1815.3)" textLength="8.4" lengthAdjust="spacingAndGlyphs" stroke="#231815" stroke-width="0.45" fill="#231815">50</text>
<line x1="164" y1="1807" x2="168.6" y2="1807" stroke="#3e3a39" stroke-width="1.3"/>
<line x1="164" y1="1798.7" x2="168.6" y2="1798.7" stroke="#3e3a39" stroke-width="1.3"/>
<line x1="164" y1="1790.4" x2="168.6" y2="1790.4" stroke="#3e3a39" stroke-width="1.3"/>
<line x1="164" y1="1782.2" x2="168.6" y2="1782.2" stroke="#3e3a39" stroke-width="1.3"/>
<line x1="160.6" y1="1773.9" x2="168.6" y2="1773.9" stroke="#3e3a39" stroke-width="1.3"/>
<text x="160.6" y="1773.9" font-size="9.5" text-anchor="middle" transform="rotate(-90 160.6 1773.9)" textLength="8.4" lengthAdjust="spacingAndGlyphs" stroke="#231815" stroke-width="0.45" fill="#231815">75</text>
<line x1="164" y1="1765.6" x2="168.6" y2="1765.6" stroke="#3e3a39" stroke-width="1.3"/>
<line x1="164" y1="1757.3" x2="168.6" y2="1757.3" stroke="#3e3a39" stroke-width="1.3"/>
<line x1="164" y1="1749" x2="168.6" y2="1749" stroke="#3e3a39" stroke-width="1.3"/>
<line x1="164" y1="1740.7" x2="168.6" y2="1740.7" stroke="#3e3a39" stroke-width="1.3"/>
<line x1="160.6" y1="1732.4" x2="168.6" y2="1732.4" stroke="#3e3a39" stroke-width="1.3"/>
<text x="160.6" y="1732.4" font-size="9.5" text-anchor="middle" transform="rotate(-90 160.6 1732.4)" textLength="12.6" lengthAdjust="spacingAndGlyphs" stroke="#231815" stroke-width="0.45" fill="#231815">100</text>
<line x1="164" y1="1724.1" x2="168.6" y2="1724.1" stroke="#3e3a39" stroke-width="1.3"/>
<line x1="164" y1="1715.8" x2="168.6" y2="1715.8" stroke="#3e3a39" stroke-width="1.3"/>
<line x1="164" y1="1707.6" x2="168.6" y2="1707.6" stroke="#3e3a39" stroke-width="1.3"/>
<line x1="164" y1="1699.3" x2="168.6" y2="1699.3" stroke="#3e3a39" stroke-width="1.3"/>
<line x1="160.6" y1="1691" x2="168.6" y2="1691" stroke="#3e3a39" stroke-width="1.3"/>
<text x="160.6" y="1691" font-size="9.5" text-anchor="middle" transform="rotate(-90 160.6 1691)" textLength="12.6" lengthAdjust="spacingAndGlyphs" stroke="#231815" stroke-width="0.45" fill="#231815">125</text>
<line x1="164" y1="1682.7" x2="168.6" y2="1682.7" stroke="#3e3a39" stroke-width="1.3"/>
<line x1="164" y1="1674.4" x2="168.6" y2="1674.4" stroke="#3e3a39" stroke-width="1.3"/>
<line x1="164" y1="1666.1" x2="168.6" y2="1666.1" stroke="#3e3a39" stroke-width="1.3"/>
<line x1="164" y1="1657.8" x2="168.6" y2="1657.8" stroke="#3e3a39" stroke-width="1.3"/>
<line x1="160.6" y1="1649.5" x2="168.6" y2="1649.5" stroke="#3e3a39" stroke-width="1.3"/>
<clipPath id="cE1"><rect x="148.6" y="1647" width="20" height="24"/></clipPath><g clip-path="url(#cE1)">
<text x="160.6" y="1649.5" font-size="9.5" text-anchor="middle" transform="rotate(-90 160.6 1649.5)" textLength="12.6" lengthAdjust="spacingAndGlyphs" stroke="#231815" stroke-width="0.45" fill="#231815">150</text>
</g>
<line x1="171.3" y1="1898.2" x2="171.3" y2="1903.5" stroke="#3e3a39" stroke-width="1.3"/>
<line x1="179" y1="1898.2" x2="179" y2="1903.5" stroke="#3e3a39" stroke-width="1.3"/>
<line x1="185" y1="1898.2" x2="185" y2="1903.5" stroke="#3e3a39" stroke-width="1.3"/>
<line x1="189.8" y1="1898.2" x2="189.8" y2="1903.5" stroke="#3e3a39" stroke-width="1.3"/>
<line x1="194" y1="1898.2" x2="194" y2="1903.5" stroke="#3e3a39" stroke-width="1.3"/>
<line x1="197.5" y1="1898.2" x2="197.5" y2="1903.5" stroke="#3e3a39" stroke-width="1.3"/>
<line x1="200.7" y1="1898.2" x2="200.7" y2="1903.5" stroke="#3e3a39" stroke-width="1.3"/>
<line x1="203.5" y1="1898.2" x2="203.5" y2="1906.2" stroke="#3e3a39" stroke-width="1.3"/>
<text x="205.3" y="1916.2" font-size="9" text-anchor="end" textLength="7.4" lengthAdjust="spacingAndGlyphs" stroke="#231815" stroke-width="0.35" fill="#231815">10</text>
<text x="205.8" y="1911" font-size="7.2" textLength="3.8" lengthAdjust="spacingAndGlyphs" stroke="#231815" stroke-width="0.35" fill="#231815">2</text>
<line x1="222" y1="1898.2" x2="222" y2="1903.5" stroke="#3e3a39" stroke-width="1.3"/>
<line x1="232.9" y1="1898.2" x2="232.9" y2="1903.5" stroke="#3e3a39" stroke-width="1.3"/>
<line x1="240.6" y1="1898.2" x2="240.6" y2="1903.5" stroke="#3e3a39" stroke-width="1.3"/>
<line x1="246.6" y1="1898.2" x2="246.6" y2="1903.5" stroke="#3e3a39" stroke-width="1.3"/>
<line x1="251.4" y1="1898.2" x2="251.4" y2="1903.5" stroke="#3e3a39" stroke-width="1.3"/>
<line x1="255.6" y1="1898.2" x2="255.6" y2="1903.5" stroke="#3e3a39" stroke-width="1.3"/>
<line x1="259.1" y1="1898.2" x2="259.1" y2="1903.5" stroke="#3e3a39" stroke-width="1.3"/>
<line x1="262.3" y1="1898.2" x2="262.3" y2="1903.5" stroke="#3e3a39" stroke-width="1.3"/>
<line x1="265.1" y1="1898.2" x2="265.1" y2="1906.2" stroke="#3e3a39" stroke-width="1.3"/>
<text x="266.9" y="1916.2" font-size="9" text-anchor="end" textLength="7.4" lengthAdjust="spacingAndGlyphs" stroke="#231815" stroke-width="0.35" fill="#231815">10</text>
<text x="267.4" y="1911" font-size="7.2" textLength="3.8" lengthAdjust="spacingAndGlyphs" stroke="#231815" stroke-width="0.35" fill="#231815">3</text>
<line x1="283.6" y1="1898.2" x2="283.6" y2="1903.5" stroke="#3e3a39" stroke-width="1.3"/>
<line x1="294.5" y1="1898.2" x2="294.5" y2="1903.5" stroke="#3e3a39" stroke-width="1.3"/>
<line x1="302.2" y1="1898.2" x2="302.2" y2="1903.5" stroke="#3e3a39" stroke-width="1.3"/>
<line x1="308.2" y1="1898.2" x2="308.2" y2="1903.5" stroke="#3e3a39" stroke-width="1.3"/>
<line x1="313" y1="1898.2" x2="313" y2="1903.5" stroke="#3e3a39" stroke-width="1.3"/>
<line x1="317.2" y1="1898.2" x2="317.2" y2="1903.5" stroke="#3e3a39" stroke-width="1.3"/>
<line x1="320.7" y1="1898.2" x2="320.7" y2="1903.5" stroke="#3e3a39" stroke-width="1.3"/>
<line x1="323.9" y1="1898.2" x2="323.9" y2="1903.5" stroke="#3e3a39" stroke-width="1.3"/>
<line x1="326.7" y1="1898.2" x2="326.7" y2="1906.2" stroke="#3e3a39" stroke-width="1.3"/>
<text x="328.5" y="1916.2" font-size="9" text-anchor="end" textLength="7.4" lengthAdjust="spacingAndGlyphs" stroke="#231815" stroke-width="0.35" fill="#231815">10</text>
<text x="329" y="1911" font-size="7.2" textLength="3.8" lengthAdjust="spacingAndGlyphs" stroke="#231815" stroke-width="0.35" fill="#231815">4</text>
<line x1="345.2" y1="1898.2" x2="345.2" y2="1903.5" stroke="#3e3a39" stroke-width="1.3"/>
<line x1="356.1" y1="1898.2" x2="356.1" y2="1903.5" stroke="#3e3a39" stroke-width="1.3"/>
<line x1="363.8" y1="1898.2" x2="363.8" y2="1903.5" stroke="#3e3a39" stroke-width="1.3"/>
<line x1="369.8" y1="1898.2" x2="369.8" y2="1903.5" stroke="#3e3a39" stroke-width="1.3"/>
<line x1="374.6" y1="1898.2" x2="374.6" y2="1903.5" stroke="#3e3a39" stroke-width="1.3"/>
<line x1="378.8" y1="1898.2" x2="378.8" y2="1903.5" stroke="#3e3a39" stroke-width="1.3"/>
<line x1="382.3" y1="1898.2" x2="382.3" y2="1903.5" stroke="#3e3a39" stroke-width="1.3"/>
<line x1="385.5" y1="1898.2" x2="385.5" y2="1903.5" stroke="#3e3a39" stroke-width="1.3"/>
<line x1="388.3" y1="1898.2" x2="388.3" y2="1906.2" stroke="#3e3a39" stroke-width="1.3"/>
<text x="390.1" y="1916.2" font-size="9" text-anchor="end" textLength="7.4" lengthAdjust="spacingAndGlyphs" stroke="#231815" stroke-width="0.35" fill="#231815">10</text>
<text x="390.6" y="1911" font-size="7.2" textLength="3.8" lengthAdjust="spacingAndGlyphs" stroke="#231815" stroke-width="0.35" fill="#231815">5</text>
<line x1="406.8" y1="1898.2" x2="406.8" y2="1903.5" stroke="#3e3a39" stroke-width="1.3"/>
<clipPath id="h13"><rect x="168.6" y="1649.2" width="246.6" height="248.5"/></clipPath>
<polygon clip-path="url(#h13)" points="168.8,1898.2 168.8,1879 169.7,1888.4 170.6,1890.7 171.5,1897.4 172.4,1896.9 173.3,1896.9 174.2,1895.7 175.1,1895.5 176,1896 176.9,1893.2 177.8,1894.9 178.7,1896.1 179.6,1885.9 180.5,1894.3 181.4,1890.9 182.3,1891.2 183.2,1885.6 184.1,1891.4 185,1890.4 185.9,1886.1 186.8,1880.1 187.7,1875 188.6,1875.7 189.5,1875.3 190.4,1875.5 191.3,1874 192.2,1872.7 193.1,1868.9 194,1852.5 194.9,1852.9 195.8,1839.8 196.7,1814.1 197.6,1821.4 198.5,1809.4 199.4,1803.7 200.3,1811.4 201.2,1778.9 202.1,1789.1 203,1769.6 203.9,1764 204.8,1747.9 205.7,1763.1 206.6,1728.6 207.5,1761.6 208.4,1724.4 209.3,1731.3 210.2,1697.1 211.1,1690.1 212,1680.4 212.9,1688.5 213.8,1693.3 214.7,1677 215.6,1657.2 216.5,1668.6 217.4,1678.1 218.3,1655.7 219.2,1666.1 220.1,1681.3 221,1665.2 221.9,1667.9 222.8,1686.1 223.7,1685.5 224.6,1652.3 225.5,1699 226.4,1709.4 227.3,1650.2 228.2,1679.8 229.1,1678 230,1658.5 230.9,1676.7 231.8,1696.1 232.7,1721.6 233.6,1690.4 234.5,1693.4 235.4,1717.9 236.3,1708.8 237.2,1718.4 238.1,1720.2 239,1724 239.9,1695.1 240.8,1745.2 241.7,1721.3 242.6,1713.3 243.5,1739.4 244.4,1743.5 245.3,1747.6 246.2,1740 247.1,1743.4 248,1757.2 248.9,1763.6 249.8,1746.2 250.7,1770.7 251.6,1745.6 252.5,1762.7 253.4,1770.4 254.3,1759.5 255.2,1767.8 256.1,1775.2 257,1773.3 257.9,1750 258.8,1754.5 259.7,1766.2 260.6,1794.4 261.5,1798.7 262.4,1772.1 263.3,1758 264.2,1801.6 265.1,1789 266,1792.9 266.9,1819.5 267.8,1809.7 268.7,1812 269.6,1810.8 270.5,1821.4 271.4,1793.6 272.3,1807.6 273.2,1808.3 274.1,1804.7 275,1809.9 275.9,1824.5 276.8,1810.6 277.7,1808.6 278.6,1829.8 279.5,1822.1 280.4,1804.3 281.3,1796.7 282.2,1834.6 283.1,1823.2 284,1819.7 284.9,1853.7 285.8,1813.6 286.7,1810.2 287.6,1821.4 288.5,1828.2 289.4,1833.9 290.3,1830.1 291.2,1837.7 292.1,1845.5 293,1827.9 293.9,1819.8 294.8,1850 295.7,1843 296.6,1840.7 297.5,1844.5 298.4,1852.9 299.3,1845.5 300.2,1856.6 301.1,1866.8 302,1848.1 302.9,1852.5 303.8,1860.1 304.7,1858.6 305.6,1850.1 306.5,1845.5 307.4,1836.2 308.3,1847.5 309.2,1852.7 310.1,1832.5 311,1867.9 311.9,1874.6 312.8,1867.3 313.7,1854.3 314.6,1870.4 315.5,1869.7 316.4,1864.2 317.3,1855.7 318.2,1863.5 319.1,1869.2 320,1869.7 320.9,1879.8 321.8,1885 322.7,1867 323.6,1863.4 324.5,1868.6 325.4,1871.1 326.3,1868.7 327.2,1875.3 328.1,1875.3 329,1874.2 329.9,1877.4 330.8,1884.3 331.7,1882.3 332.6,1884.1 333.5,1880.6 334.4,1885.1 335.3,1881.8 336.2,1879.4 337.1,1886.2 338,1874 338.9,1875.3 339.8,1876.7 340.7,1882.2 341.6,1884.5 342.5,1881.1 343.4,1891.4 344.3,1888.9 345.2,1889.7 346.1,1890.8 347,1888 347.9,1890.9 348.8,1892 349.7,1886.3 350.6,1885.5 351.5,1886.7 352.4,1886.5 353.3,1891.8 354.2,1889.2 355.1,1884.6 356,1891.2 356.9,1885.7 357.8,1890 358.7,1887.7 359.6,1886.3 360.5,1888.5 361.4,1890.5 362.3,1895.7 363.2,1889.9 364.1,1887.5 365,1896.7 365.9,1890.8 366.8,1892.4 367.7,1895 368.6,1896.4 369.5,1893.1 370.4,1889.4 371.3,1888.8 372.2,1891.1 373.1,1890.8 374,1893 374.9,1891.1 375.8,1891.1 376.7,1892.7 377.6,1895.9 378.5,1893.7 379.4,1895.1 380.3,1894.5 381.2,1895.7 382.1,1893.5 383,1894.8 383.9,1896.1 384.8,1897.1 385.7,1894.5 386.6,1895.5 387.5,1893.2 388.4,1898.2 389.3,1895.1 390.2,1895.6 391.1,1896.6 392,1895.2 392.9,1893.7 393.8,1895.8 394.7,1898.2 395.6,1896.6 396.5,1896.6 397.4,1895.4 398.3,1896.5 399.2,1897 400.1,1896.1 401,1896.7 401.9,1896.8 402.8,1897.1 403.7,1896.6 404.6,1897.9 405.5,1896.5 406.4,1897.8 407.3,1897.8 408.2,1898.2 409.1,1895.5 410,1897.1 410.9,1898.2 411.8,1897.3 412.7,1895.7 413.6,1894 414.2,1898.2" fill="#ec6a6b" stroke="#e0341f" stroke-width="0.9" stroke-linejoin="miter" stroke-miterlimit="6"/>
<rect x="168.6" y="1649.2" width="246.6" height="249" fill="none" stroke="#3e3a39" stroke-width="1.3"/>
<line x1="173.6" y1="1649.2" x2="173.6" y2="1898.2" stroke="#3e3a39" stroke-width="1.3"/>
<line x1="411.2" y1="1649.2" x2="411.2" y2="1898.2" stroke="#3e3a39" stroke-width="1.3"/>
<line x1="173.6" y1="1844.2" x2="411.2" y2="1844.2" stroke="#3e3a39" stroke-width="1.3"/>
<line x1="288.9" y1="1648.2" x2="295.4" y2="1648.2" stroke="#1a1a1a" stroke-width="1.8"/>
<text x="285.6" y="1778.8" font-size="8.6" textLength="11" lengthAdjust="spacingAndGlyphs" stroke="#231815" stroke-width="0.12" fill="#231815">P2</text>
<line x1="459.1" y1="1898.2" x2="467.1" y2="1898.2" stroke="#3e3a39" stroke-width="1.3"/>
<text x="459.1" y="1898.2" font-size="9.5" text-anchor="middle" transform="rotate(-90 459.1 1898.2)" textLength="4.2" lengthAdjust="spacingAndGlyphs" stroke="#231815" stroke-width="0.45" fill="#231815">0</text>
<line x1="462.5" y1="1886.2" x2="467.1" y2="1886.2" stroke="#3e3a39" stroke-width="1.3"/>
<line x1="462.5" y1="1874.2" x2="467.1" y2="1874.2" stroke="#3e3a39" stroke-width="1.3"/>
<line x1="462.5" y1="1862.2" x2="467.1" y2="1862.2" stroke="#3e3a39" stroke-width="1.3"/>
<line x1="462.5" y1="1850.2" x2="467.1" y2="1850.2" stroke="#3e3a39" stroke-width="1.3"/>
<line x1="459.1" y1="1838.2" x2="467.1" y2="1838.2" stroke="#3e3a39" stroke-width="1.3"/>
<text x="459.1" y="1838.2" font-size="9.5" text-anchor="middle" transform="rotate(-90 459.1 1838.2)" textLength="8.4" lengthAdjust="spacingAndGlyphs" stroke="#231815" stroke-width="0.45" fill="#231815">25</text>
<line x1="462.5" y1="1826.2" x2="467.1" y2="1826.2" stroke="#3e3a39" stroke-width="1.3"/>
<line x1="462.5" y1="1814.2" x2="467.1" y2="1814.2" stroke="#3e3a39" stroke-width="1.3"/>
<line x1="462.5" y1="1802.2" x2="467.1" y2="1802.2" stroke="#3e3a39" stroke-width="1.3"/>
<line x1="462.5" y1="1790.3" x2="467.1" y2="1790.3" stroke="#3e3a39" stroke-width="1.3"/>
<line x1="459.1" y1="1778.3" x2="467.1" y2="1778.3" stroke="#3e3a39" stroke-width="1.3"/>
<text x="459.1" y="1778.3" font-size="9.5" text-anchor="middle" transform="rotate(-90 459.1 1778.3)" textLength="8.4" lengthAdjust="spacingAndGlyphs" stroke="#231815" stroke-width="0.45" fill="#231815">50</text>
<line x1="462.5" y1="1766.3" x2="467.1" y2="1766.3" stroke="#3e3a39" stroke-width="1.3"/>
<line x1="462.5" y1="1754.3" x2="467.1" y2="1754.3" stroke="#3e3a39" stroke-width="1.3"/>
<line x1="462.5" y1="1742.3" x2="467.1" y2="1742.3" stroke="#3e3a39" stroke-width="1.3"/>
<line x1="462.5" y1="1730.3" x2="467.1" y2="1730.3" stroke="#3e3a39" stroke-width="1.3"/>
<line x1="459.1" y1="1718.3" x2="467.1" y2="1718.3" stroke="#3e3a39" stroke-width="1.3"/>
<text x="459.1" y="1718.3" font-size="9.5" text-anchor="middle" transform="rotate(-90 459.1 1718.3)" textLength="8.4" lengthAdjust="spacingAndGlyphs" stroke="#231815" stroke-width="0.45" fill="#231815">75</text>
<line x1="462.5" y1="1706.3" x2="467.1" y2="1706.3" stroke="#3e3a39" stroke-width="1.3"/>
<line x1="462.5" y1="1694.3" x2="467.1" y2="1694.3" stroke="#3e3a39" stroke-width="1.3"/>
<line x1="462.5" y1="1682.3" x2="467.1" y2="1682.3" stroke="#3e3a39" stroke-width="1.3"/>
<line x1="462.5" y1="1670.3" x2="467.1" y2="1670.3" stroke="#3e3a39" stroke-width="1.3"/>
<line x1="459.1" y1="1658.3" x2="467.1" y2="1658.3" stroke="#3e3a39" stroke-width="1.3"/>
<text x="459.1" y="1658.3" font-size="9.5" text-anchor="middle" transform="rotate(-90 459.1 1658.3)" textLength="12.6" lengthAdjust="spacingAndGlyphs" stroke="#231815" stroke-width="0.45" fill="#231815">100</text>
<line x1="469.8" y1="1898.2" x2="469.8" y2="1903.5" stroke="#3e3a39" stroke-width="1.3"/>
<line x1="477.5" y1="1898.2" x2="477.5" y2="1903.5" stroke="#3e3a39" stroke-width="1.3"/>
<line x1="483.5" y1="1898.2" x2="483.5" y2="1903.5" stroke="#3e3a39" stroke-width="1.3"/>
<line x1="488.3" y1="1898.2" x2="488.3" y2="1903.5" stroke="#3e3a39" stroke-width="1.3"/>
<line x1="492.5" y1="1898.2" x2="492.5" y2="1903.5" stroke="#3e3a39" stroke-width="1.3"/>
<line x1="496" y1="1898.2" x2="496" y2="1903.5" stroke="#3e3a39" stroke-width="1.3"/>
<line x1="499.2" y1="1898.2" x2="499.2" y2="1903.5" stroke="#3e3a39" stroke-width="1.3"/>
<line x1="502" y1="1898.2" x2="502" y2="1906.2" stroke="#3e3a39" stroke-width="1.3"/>
<text x="503.8" y="1916.2" font-size="9" text-anchor="end" textLength="7.4" lengthAdjust="spacingAndGlyphs" stroke="#231815" stroke-width="0.35" fill="#231815">10</text>
<text x="504.3" y="1911" font-size="7.2" textLength="3.8" lengthAdjust="spacingAndGlyphs" stroke="#231815" stroke-width="0.35" fill="#231815">2</text>
<line x1="520.5" y1="1898.2" x2="520.5" y2="1903.5" stroke="#3e3a39" stroke-width="1.3"/>
<line x1="531.4" y1="1898.2" x2="531.4" y2="1903.5" stroke="#3e3a39" stroke-width="1.3"/>
<line x1="539.1" y1="1898.2" x2="539.1" y2="1903.5" stroke="#3e3a39" stroke-width="1.3"/>
<line x1="545.1" y1="1898.2" x2="545.1" y2="1903.5" stroke="#3e3a39" stroke-width="1.3"/>
<line x1="549.9" y1="1898.2" x2="549.9" y2="1903.5" stroke="#3e3a39" stroke-width="1.3"/>
<line x1="554.1" y1="1898.2" x2="554.1" y2="1903.5" stroke="#3e3a39" stroke-width="1.3"/>
<line x1="557.6" y1="1898.2" x2="557.6" y2="1903.5" stroke="#3e3a39" stroke-width="1.3"/>
<line x1="560.8" y1="1898.2" x2="560.8" y2="1903.5" stroke="#3e3a39" stroke-width="1.3"/>
<line x1="563.6" y1="1898.2" x2="563.6" y2="1906.2" stroke="#3e3a39" stroke-width="1.3"/>
<text x="565.4" y="1916.2" font-size="9" text-anchor="end" textLength="7.4" lengthAdjust="spacingAndGlyphs" stroke="#231815" stroke-width="0.35" fill="#231815">10</text>
<text x="565.9" y="1911" font-size="7.2" textLength="3.8" lengthAdjust="spacingAndGlyphs" stroke="#231815" stroke-width="0.35" fill="#231815">3</text>
<line x1="582.1" y1="1898.2" x2="582.1" y2="1903.5" stroke="#3e3a39" stroke-width="1.3"/>
<line x1="593" y1="1898.2" x2="593" y2="1903.5" stroke="#3e3a39" stroke-width="1.3"/>
<line x1="600.7" y1="1898.2" x2="600.7" y2="1903.5" stroke="#3e3a39" stroke-width="1.3"/>
<line x1="606.7" y1="1898.2" x2="606.7" y2="1903.5" stroke="#3e3a39" stroke-width="1.3"/>
<line x1="611.5" y1="1898.2" x2="611.5" y2="1903.5" stroke="#3e3a39" stroke-width="1.3"/>
<line x1="615.7" y1="1898.2" x2="615.7" y2="1903.5" stroke="#3e3a39" stroke-width="1.3"/>
<line x1="619.2" y1="1898.2" x2="619.2" y2="1903.5" stroke="#3e3a39" stroke-width="1.3"/>
<line x1="622.4" y1="1898.2" x2="622.4" y2="1903.5" stroke="#3e3a39" stroke-width="1.3"/>
<line x1="625.2" y1="1898.2" x2="625.2" y2="1906.2" stroke="#3e3a39" stroke-width="1.3"/>
<text x="627" y="1916.2" font-size="9" text-anchor="end" textLength="7.4" lengthAdjust="spacingAndGlyphs" stroke="#231815" stroke-width="0.35" fill="#231815">10</text>
<text x="627.5" y="1911" font-size="7.2" textLength="3.8" lengthAdjust="spacingAndGlyphs" stroke="#231815" stroke-width="0.35" fill="#231815">4</text>
<line x1="643.7" y1="1898.2" x2="643.7" y2="1903.5" stroke="#3e3a39" stroke-width="1.3"/>
<line x1="654.6" y1="1898.2" x2="654.6" y2="1903.5" stroke="#3e3a39" stroke-width="1.3"/>
<line x1="662.3" y1="1898.2" x2="662.3" y2="1903.5" stroke="#3e3a39" stroke-width="1.3"/>
<line x1="668.3" y1="1898.2" x2="668.3" y2="1903.5" stroke="#3e3a39" stroke-width="1.3"/>
<line x1="673.1" y1="1898.2" x2="673.1" y2="1903.5" stroke="#3e3a39" stroke-width="1.3"/>
<line x1="677.3" y1="1898.2" x2="677.3" y2="1903.5" stroke="#3e3a39" stroke-width="1.3"/>
<line x1="680.8" y1="1898.2" x2="680.8" y2="1903.5" stroke="#3e3a39" stroke-width="1.3"/>
<line x1="684" y1="1898.2" x2="684" y2="1903.5" stroke="#3e3a39" stroke-width="1.3"/>
<line x1="686.8" y1="1898.2" x2="686.8" y2="1906.2" stroke="#3e3a39" stroke-width="1.3"/>
<text x="688.6" y="1916.2" font-size="9" text-anchor="end" textLength="7.4" lengthAdjust="spacingAndGlyphs" stroke="#231815" stroke-width="0.35" fill="#231815">10</text>
<text x="689.1" y="1911" font-size="7.2" textLength="3.8" lengthAdjust="spacingAndGlyphs" stroke="#231815" stroke-width="0.35" fill="#231815">5</text>
<line x1="705.3" y1="1898.2" x2="705.3" y2="1903.5" stroke="#3e3a39" stroke-width="1.3"/>
<clipPath id="h14"><rect x="467.1" y="1649.2" width="246.6" height="248.5"/></clipPath>
<polygon clip-path="url(#h14)" points="467.1,1898.2 467.1,1898.2 468,1898.2 468.9,1898.2 469.8,1898.2 470.7,1898.2 471.6,1898.2 472.5,1898.2 473.4,1898.2 474.3,1898.2 475.2,1898.2 476.1,1898.2 477,1898.2 477.9,1898.2 478.8,1898.2 479.7,1898.2 480.6,1896.2 481.5,1898.2 482.4,1898.2 483.3,1898.2 484.2,1898.2 485.1,1898.2 486,1898.2 486.9,1896.9 487.8,1898.2 488.7,1898.2 489.6,1898.2 490.5,1898.2 491.4,1898.2 492.3,1898.2 493.2,1898.2 494.1,1898.2 495,1898.2 495.9,1898.2 496.8,1898.2 497.7,1897.4 498.6,1897.4 499.5,1898.2 500.4,1894.8 501.3,1896.5 502.2,1894.6 503.1,1896.9 504,1897.1 504.9,1894.4 505.8,1895.6 506.7,1896.3 507.6,1898.2 508.5,1889.1 509.4,1888.2 510.3,1888.6 511.2,1892.8 512.1,1888.5 513,1889 513.9,1896.8 514.8,1894.7 515.7,1894.9 516.6,1895.8 517.5,1891.8 518.4,1889.1 519.3,1887.1 520.2,1890.3 521.1,1886.9 522,1885.4 522.9,1873 523.8,1872.7 524.7,1867.8 525.6,1864.5 526.5,1853.9 527.4,1838.9 528.3,1832.4 529.2,1836.7 530.1,1855.6 531,1844.2 531.9,1855.8 532.8,1831.1 533.7,1819.1 534.6,1870.3 535.5,1809.7 536.4,1818 537.3,1826.1 538.2,1795.8 539.1,1782.4 540,1772.2 540.9,1769.8 541.8,1775.6 542.7,1762.8 543.6,1759.6 544.5,1738.1 545.4,1745.8 546.3,1724.3 547.2,1731.1 548.1,1740.9 549,1744.1 549.9,1728.9 550.8,1741.2 551.7,1727.2 552.6,1738.8 553.5,1730.8 554.4,1757 555.3,1735.3 556.2,1737.5 557.1,1760.2 558,1784.2 558.9,1759.6 559.8,1752.1 560.7,1755 561.6,1741 562.5,1744.5 563.4,1736.4 564.3,1740.8 565.2,1756.8 566.1,1742.9 567,1738.9 567.9,1762 568.8,1760.3 569.7,1724.4 570.6,1736.3 571.5,1729.7 572.4,1732.2 573.3,1729.4 574.2,1734.7 575.1,1704.1 576,1742.2 576.9,1693.5 577.8,1703.4 578.7,1724.6 579.6,1747.4 580.5,1725.4 581.4,1705 582.3,1707.4 583.2,1733.5 584.1,1719 585,1741.8 585.9,1722.2 586.8,1753.4 587.7,1759.8 588.6,1765.9 589.5,1731.1 590.4,1715 591.3,1704.2 592.2,1684.9 593.1,1686.2 594,1661.8 594.9,1677.3 595.8,1687.5 596.7,1685 597.6,1702.7 598.5,1720.1 599.4,1691.1 600.3,1712.3 601.2,1700 602.1,1661.2 603,1733.7 603.9,1690.6 604.8,1686.9 605.7,1723.8 606.6,1724.7 607.5,1753.9 608.4,1741 609.3,1709.1 610.2,1703.8 611.1,1701.4 612,1656.4 612.9,1652.9 613.8,1650.2 614.7,1698.6 615.6,1688.6 616.5,1679.3 617.4,1690.1 618.3,1728.2 619.2,1720.7 620.1,1741.7 621,1711 621.9,1697.1 622.8,1727.4 623.7,1709.3 624.6,1719.2 625.5,1709.5 626.4,1705.4 627.3,1672.6 628.2,1685.6 629.1,1711.8 630,1714.7 630.9,1706.7 631.8,1694.9 632.7,1727.8 633.6,1729.7 634.5,1739.9 635.4,1702.8 636.3,1776.6 637.2,1739 638.1,1732.5 639,1738.6 639.9,1747.6 640.8,1734.1 641.7,1757.6 642.6,1741.7 643.5,1769.5 644.4,1757.6 645.3,1746.9 646.2,1761.9 647.1,1761.9 648,1773.5 648.9,1773.4 649.8,1780.1 650.7,1785.9 651.6,1799.3 652.5,1792.1 653.4,1791.3 654.3,1790.1 655.2,1814.3 656.1,1800.3 657,1816.3 657.9,1813.4 658.8,1778.3 659.7,1782.8 660.6,1784.9 661.5,1780.9 662.4,1793.5 663.3,1813 664.2,1806.3 665.1,1824 666,1820.3 666.9,1827.7 667.8,1835.9 668.7,1821.1 669.6,1824.1 670.5,1843 671.4,1833.9 672.3,1844.3 673.2,1858.5 674.1,1854.6 675,1852.2 675.9,1853.2 676.8,1858.8 677.7,1852.5 678.6,1864.7 679.5,1847.7 680.4,1848.6 681.3,1851.4 682.2,1859.4 683.1,1846.1 684,1875.3 684.9,1876.1 685.8,1866.7 686.7,1875.7 687.6,1877.5 688.5,1878.7 689.4,1878 690.3,1884.4 691.2,1882.7 692.1,1883.3 693,1881.8 693.9,1886.6 694.8,1874.8 695.7,1882.9 696.6,1882.6 697.5,1888.4 698.4,1895.5 699.3,1891.1 700.2,1884.9 701.1,1891.5 702,1885 702.9,1878.9 703.8,1883.1 704.7,1887.9 705.6,1896.8 706.5,1893.7 707.4,1895.7 708.3,1896.3 709.2,1894.9 710.1,1898.2 711,1883.3 711.9,1875.6 712.8,1872.5 712.9,1898.2" fill="#ec6a6b" stroke="#e0341f" stroke-width="0.9" stroke-linejoin="miter" stroke-miterlimit="6"/>
<rect x="467.1" y="1649.2" width="246.6" height="249" fill="none" stroke="#3e3a39" stroke-width="1.3"/>
<line x1="472.1" y1="1649.2" x2="472.1" y2="1898.2" stroke="#3e3a39" stroke-width="1.3"/>
<line x1="709.7" y1="1649.2" x2="709.7" y2="1898.2" stroke="#3e3a39" stroke-width="1.3"/>
<line x1="472.1" y1="1844.2" x2="709.7" y2="1844.2" stroke="#3e3a39" stroke-width="1.3"/>
<line x1="587.4" y1="1648.2" x2="593.9" y2="1648.2" stroke="#1a1a1a" stroke-width="1.8"/>
<text x="584.1" y="1778.8" font-size="8.6" textLength="11" lengthAdjust="spacingAndGlyphs" stroke="#231815" stroke-width="0.12" fill="#231815">P2</text>
<line x1="756.1" y1="1896.1" x2="764.1" y2="1896.1" stroke="#3e3a39" stroke-width="1.3"/>
<text x="756.1" y="1896.1" font-size="9.5" text-anchor="middle" transform="rotate(-90 756.1 1896.1)" textLength="4.2" lengthAdjust="spacingAndGlyphs" stroke="#231815" stroke-width="0.45" fill="#231815">0</text>
<line x1="759.5" y1="1890.5" x2="764.1" y2="1890.5" stroke="#3e3a39" stroke-width="1.3"/>
<line x1="759.5" y1="1884.8" x2="764.1" y2="1884.8" stroke="#3e3a39" stroke-width="1.3"/>
<line x1="759.5" y1="1879.2" x2="764.1" y2="1879.2" stroke="#3e3a39" stroke-width="1.3"/>
<line x1="759.5" y1="1873.5" x2="764.1" y2="1873.5" stroke="#3e3a39" stroke-width="1.3"/>
<line x1="756.1" y1="1867.9" x2="764.1" y2="1867.9" stroke="#3e3a39" stroke-width="1.3"/>
<text x="756.1" y="1867.9" font-size="9.5" text-anchor="middle" transform="rotate(-90 756.1 1867.9)" textLength="8.4" lengthAdjust="spacingAndGlyphs" stroke="#231815" stroke-width="0.45" fill="#231815">10</text>
<line x1="759.5" y1="1862.2" x2="764.1" y2="1862.2" stroke="#3e3a39" stroke-width="1.3"/>
<line x1="759.5" y1="1856.6" x2="764.1" y2="1856.6" stroke="#3e3a39" stroke-width="1.3"/>
<line x1="759.5" y1="1850.9" x2="764.1" y2="1850.9" stroke="#3e3a39" stroke-width="1.3"/>
<line x1="759.5" y1="1845.3" x2="764.1" y2="1845.3" stroke="#3e3a39" stroke-width="1.3"/>
<line x1="756.1" y1="1839.6" x2="764.1" y2="1839.6" stroke="#3e3a39" stroke-width="1.3"/>
<text x="756.1" y="1839.6" font-size="9.5" text-anchor="middle" transform="rotate(-90 756.1 1839.6)" textLength="8.4" lengthAdjust="spacingAndGlyphs" stroke="#231815" stroke-width="0.45" fill="#231815">20</text>
<line x1="759.5" y1="1834" x2="764.1" y2="1834" stroke="#3e3a39" stroke-width="1.3"/>
<line x1="759.5" y1="1828.3" x2="764.1" y2="1828.3" stroke="#3e3a39" stroke-width="1.3"/>
<line x1="759.5" y1="1822.7" x2="764.1" y2="1822.7" stroke="#3e3a39" stroke-width="1.3"/>
<line x1="759.5" y1="1817.1" x2="764.1" y2="1817.1" stroke="#3e3a39" stroke-width="1.3"/>
<line x1="756.1" y1="1811.4" x2="764.1" y2="1811.4" stroke="#3e3a39" stroke-width="1.3"/>
<text x="756.1" y="1811.4" font-size="9.5" text-anchor="middle" transform="rotate(-90 756.1 1811.4)" textLength="8.4" lengthAdjust="spacingAndGlyphs" stroke="#231815" stroke-width="0.45" fill="#231815">30</text>
<line x1="759.5" y1="1805.8" x2="764.1" y2="1805.8" stroke="#3e3a39" stroke-width="1.3"/>
<line x1="759.5" y1="1800.1" x2="764.1" y2="1800.1" stroke="#3e3a39" stroke-width="1.3"/>
<line x1="759.5" y1="1794.5" x2="764.1" y2="1794.5" stroke="#3e3a39" stroke-width="1.3"/>
<line x1="759.5" y1="1788.8" x2="764.1" y2="1788.8" stroke="#3e3a39" stroke-width="1.3"/>
<line x1="756.1" y1="1783.2" x2="764.1" y2="1783.2" stroke="#3e3a39" stroke-width="1.3"/>
<text x="756.1" y="1783.2" font-size="9.5" text-anchor="middle" transform="rotate(-90 756.1 1783.2)" textLength="8.4" lengthAdjust="spacingAndGlyphs" stroke="#231815" stroke-width="0.45" fill="#231815">40</text>
<line x1="759.5" y1="1777.5" x2="764.1" y2="1777.5" stroke="#3e3a39" stroke-width="1.3"/>
<line x1="759.5" y1="1771.9" x2="764.1" y2="1771.9" stroke="#3e3a39" stroke-width="1.3"/>
<line x1="759.5" y1="1766.2" x2="764.1" y2="1766.2" stroke="#3e3a39" stroke-width="1.3"/>
<line x1="759.5" y1="1760.6" x2="764.1" y2="1760.6" stroke="#3e3a39" stroke-width="1.3"/>
<line x1="756.1" y1="1754.9" x2="764.1" y2="1754.9" stroke="#3e3a39" stroke-width="1.3"/>
<text x="756.1" y="1754.9" font-size="9.5" text-anchor="middle" transform="rotate(-90 756.1 1754.9)" textLength="8.4" lengthAdjust="spacingAndGlyphs" stroke="#231815" stroke-width="0.45" fill="#231815">50</text>
<line x1="759.5" y1="1749.3" x2="764.1" y2="1749.3" stroke="#3e3a39" stroke-width="1.3"/>
<line x1="759.5" y1="1743.7" x2="764.1" y2="1743.7" stroke="#3e3a39" stroke-width="1.3"/>
<line x1="759.5" y1="1738" x2="764.1" y2="1738" stroke="#3e3a39" stroke-width="1.3"/>
<line x1="759.5" y1="1732.4" x2="764.1" y2="1732.4" stroke="#3e3a39" stroke-width="1.3"/>
<line x1="756.1" y1="1726.7" x2="764.1" y2="1726.7" stroke="#3e3a39" stroke-width="1.3"/>
<text x="756.1" y="1726.7" font-size="9.5" text-anchor="middle" transform="rotate(-90 756.1 1726.7)" textLength="8.4" lengthAdjust="spacingAndGlyphs" stroke="#231815" stroke-width="0.45" fill="#231815">60</text>
<line x1="759.5" y1="1721.1" x2="764.1" y2="1721.1" stroke="#3e3a39" stroke-width="1.3"/>
<line x1="759.5" y1="1715.4" x2="764.1" y2="1715.4" stroke="#3e3a39" stroke-width="1.3"/>
<line x1="759.5" y1="1709.8" x2="764.1" y2="1709.8" stroke="#3e3a39" stroke-width="1.3"/>
<line x1="759.5" y1="1704.1" x2="764.1" y2="1704.1" stroke="#3e3a39" stroke-width="1.3"/>
<line x1="756.1" y1="1698.5" x2="764.1" y2="1698.5" stroke="#3e3a39" stroke-width="1.3"/>
<text x="756.1" y="1698.5" font-size="9.5" text-anchor="middle" transform="rotate(-90 756.1 1698.5)" textLength="8.4" lengthAdjust="spacingAndGlyphs" stroke="#231815" stroke-width="0.45" fill="#231815">70</text>
<line x1="759.5" y1="1692.8" x2="764.1" y2="1692.8" stroke="#3e3a39" stroke-width="1.3"/>
<line x1="759.5" y1="1687.2" x2="764.1" y2="1687.2" stroke="#3e3a39" stroke-width="1.3"/>
<line x1="759.5" y1="1681.5" x2="764.1" y2="1681.5" stroke="#3e3a39" stroke-width="1.3"/>
<line x1="759.5" y1="1675.9" x2="764.1" y2="1675.9" stroke="#3e3a39" stroke-width="1.3"/>
<line x1="756.1" y1="1670.2" x2="764.1" y2="1670.2" stroke="#3e3a39" stroke-width="1.3"/>
<text x="756.1" y="1670.2" font-size="9.5" text-anchor="middle" transform="rotate(-90 756.1 1670.2)" textLength="8.4" lengthAdjust="spacingAndGlyphs" stroke="#231815" stroke-width="0.45" fill="#231815">80</text>
<line x1="759.5" y1="1664.6" x2="764.1" y2="1664.6" stroke="#3e3a39" stroke-width="1.3"/>
<line x1="759.5" y1="1659" x2="764.1" y2="1659" stroke="#3e3a39" stroke-width="1.3"/>
<line x1="759.5" y1="1653.3" x2="764.1" y2="1653.3" stroke="#3e3a39" stroke-width="1.3"/>
<line x1="759.5" y1="1647.7" x2="764.1" y2="1647.7" stroke="#3e3a39" stroke-width="1.3"/>
<line x1="766.8" y1="1896.1" x2="766.8" y2="1901.4" stroke="#3e3a39" stroke-width="1.3"/>
<line x1="774.5" y1="1896.1" x2="774.5" y2="1901.4" stroke="#3e3a39" stroke-width="1.3"/>
<line x1="780.5" y1="1896.1" x2="780.5" y2="1901.4" stroke="#3e3a39" stroke-width="1.3"/>
<line x1="785.3" y1="1896.1" x2="785.3" y2="1901.4" stroke="#3e3a39" stroke-width="1.3"/>
<line x1="789.5" y1="1896.1" x2="789.5" y2="1901.4" stroke="#3e3a39" stroke-width="1.3"/>
<line x1="793" y1="1896.1" x2="793" y2="1901.4" stroke="#3e3a39" stroke-width="1.3"/>
<line x1="796.2" y1="1896.1" x2="796.2" y2="1901.4" stroke="#3e3a39" stroke-width="1.3"/>
<line x1="799" y1="1896.1" x2="799" y2="1904.1" stroke="#3e3a39" stroke-width="1.3"/>
<text x="800.8" y="1914.1" font-size="9" text-anchor="end" textLength="7.4" lengthAdjust="spacingAndGlyphs" stroke="#231815" stroke-width="0.35" fill="#231815">10</text>
<text x="801.3" y="1908.9" font-size="7.2" textLength="3.8" lengthAdjust="spacingAndGlyphs" stroke="#231815" stroke-width="0.35" fill="#231815">2</text>
<line x1="817.5" y1="1896.1" x2="817.5" y2="1901.4" stroke="#3e3a39" stroke-width="1.3"/>
<line x1="828.4" y1="1896.1" x2="828.4" y2="1901.4" stroke="#3e3a39" stroke-width="1.3"/>
<line x1="836.1" y1="1896.1" x2="836.1" y2="1901.4" stroke="#3e3a39" stroke-width="1.3"/>
<line x1="842.1" y1="1896.1" x2="842.1" y2="1901.4" stroke="#3e3a39" stroke-width="1.3"/>
<line x1="846.9" y1="1896.1" x2="846.9" y2="1901.4" stroke="#3e3a39" stroke-width="1.3"/>
<line x1="851.1" y1="1896.1" x2="851.1" y2="1901.4" stroke="#3e3a39" stroke-width="1.3"/>
<line x1="854.6" y1="1896.1" x2="854.6" y2="1901.4" stroke="#3e3a39" stroke-width="1.3"/>
<line x1="857.8" y1="1896.1" x2="857.8" y2="1901.4" stroke="#3e3a39" stroke-width="1.3"/>
<line x1="860.6" y1="1896.1" x2="860.6" y2="1904.1" stroke="#3e3a39" stroke-width="1.3"/>
<text x="862.4" y="1914.1" font-size="9" text-anchor="end" textLength="7.4" lengthAdjust="spacingAndGlyphs" stroke="#231815" stroke-width="0.35" fill="#231815">10</text>
<text x="862.9" y="1908.9" font-size="7.2" textLength="3.8" lengthAdjust="spacingAndGlyphs" stroke="#231815" stroke-width="0.35" fill="#231815">3</text>
<line x1="879.1" y1="1896.1" x2="879.1" y2="1901.4" stroke="#3e3a39" stroke-width="1.3"/>
<line x1="890" y1="1896.1" x2="890" y2="1901.4" stroke="#3e3a39" stroke-width="1.3"/>
<line x1="897.7" y1="1896.1" x2="897.7" y2="1901.4" stroke="#3e3a39" stroke-width="1.3"/>
<line x1="903.7" y1="1896.1" x2="903.7" y2="1901.4" stroke="#3e3a39" stroke-width="1.3"/>
<line x1="908.5" y1="1896.1" x2="908.5" y2="1901.4" stroke="#3e3a39" stroke-width="1.3"/>
<line x1="912.7" y1="1896.1" x2="912.7" y2="1901.4" stroke="#3e3a39" stroke-width="1.3"/>
<line x1="916.2" y1="1896.1" x2="916.2" y2="1901.4" stroke="#3e3a39" stroke-width="1.3"/>
<line x1="919.4" y1="1896.1" x2="919.4" y2="1901.4" stroke="#3e3a39" stroke-width="1.3"/>
<line x1="922.2" y1="1896.1" x2="922.2" y2="1904.1" stroke="#3e3a39" stroke-width="1.3"/>
<text x="924" y="1914.1" font-size="9" text-anchor="end" textLength="7.4" lengthAdjust="spacingAndGlyphs" stroke="#231815" stroke-width="0.35" fill="#231815">10</text>
<text x="924.5" y="1908.9" font-size="7.2" textLength="3.8" lengthAdjust="spacingAndGlyphs" stroke="#231815" stroke-width="0.35" fill="#231815">4</text>
<line x1="940.7" y1="1896.1" x2="940.7" y2="1901.4" stroke="#3e3a39" stroke-width="1.3"/>
<line x1="951.6" y1="1896.1" x2="951.6" y2="1901.4" stroke="#3e3a39" stroke-width="1.3"/>
<line x1="959.3" y1="1896.1" x2="959.3" y2="1901.4" stroke="#3e3a39" stroke-width="1.3"/>
<line x1="965.3" y1="1896.1" x2="965.3" y2="1901.4" stroke="#3e3a39" stroke-width="1.3"/>
<line x1="970.1" y1="1896.1" x2="970.1" y2="1901.4" stroke="#3e3a39" stroke-width="1.3"/>
<line x1="974.3" y1="1896.1" x2="974.3" y2="1901.4" stroke="#3e3a39" stroke-width="1.3"/>
<line x1="977.8" y1="1896.1" x2="977.8" y2="1901.4" stroke="#3e3a39" stroke-width="1.3"/>
<line x1="981" y1="1896.1" x2="981" y2="1901.4" stroke="#3e3a39" stroke-width="1.3"/>
<line x1="983.8" y1="1896.1" x2="983.8" y2="1904.1" stroke="#3e3a39" stroke-width="1.3"/>
<text x="985.6" y="1914.1" font-size="9" text-anchor="end" textLength="7.4" lengthAdjust="spacingAndGlyphs" stroke="#231815" stroke-width="0.35" fill="#231815">10</text>
<text x="986.1" y="1908.9" font-size="7.2" textLength="3.8" lengthAdjust="spacingAndGlyphs" stroke="#231815" stroke-width="0.35" fill="#231815">5</text>
<line x1="1002.3" y1="1896.1" x2="1002.3" y2="1901.4" stroke="#3e3a39" stroke-width="1.3"/>
<clipPath id="h15"><rect x="764.1" y="1647.1" width="246.6" height="248.5"/></clipPath>
<polygon clip-path="url(#h15)" points="764.1,1896.1 764.1,1896.1 765,1896.1 765.9,1896.1 766.8,1896.1 767.7,1895.9 768.6,1896.1 769.5,1896.1 770.4,1896.1 771.3,1896.1 772.2,1896.1 773.1,1895.7 774,1896.1 774.9,1894.7 775.8,1896.1 776.7,1896.1 777.6,1896.1 778.5,1896.1 779.4,1896.1 780.3,1896.1 781.2,1896.1 782.1,1896.1 783,1894.6 783.9,1896.1 784.8,1895 785.7,1896.1 786.6,1896.1 787.5,1896.1 788.4,1896.1 789.3,1896.1 790.2,1894.4 791.1,1896.1 792,1893.1 792.9,1895.8 793.8,1895.1 794.7,1895.6 795.6,1894.4 796.5,1892.7 797.4,1893.1 798.3,1894.1 799.2,1895.4 800.1,1893.5 801,1892.6 801.9,1893.1 802.8,1890.1 803.7,1891.3 804.6,1887.1 805.5,1888.8 806.4,1886.3 807.3,1888.5 808.2,1889 809.1,1888.9 810,1884 810.9,1878.2 811.8,1871.3 812.7,1871 813.6,1870.8 814.5,1861.5 815.4,1853.7 816.3,1863.6 817.2,1853.6 818.1,1857.6 819,1856 819.9,1853 820.8,1844.2 821.7,1838.6 822.6,1838.6 823.5,1836.5 824.4,1832.7 825.3,1824.2 826.2,1826.5 827.1,1788.6 828,1793.1 828.9,1794 829.8,1794 830.7,1778.1 831.6,1804.5 832.5,1775.9 833.4,1771.3 834.3,1762.5 835.2,1763.5 836.1,1712.9 837,1711.6 837.9,1733.4 838.8,1752.4 839.7,1737.4 840.6,1780.2 841.5,1775.3 842.4,1776.3 843.3,1774 844.2,1771.3 845.1,1773 846,1803.9 846.9,1761.2 847.8,1783.5 848.7,1803.5 849.6,1744.5 850.5,1738.5 851.4,1773.3 852.3,1782.4 853.2,1814 854.1,1767.4 855,1769.9 855.9,1790.6 856.8,1773.4 857.7,1779.4 858.6,1826 859.5,1799.8 860.4,1786.9 861.3,1798.2 862.2,1795.1 863.1,1779.6 864,1782 864.9,1810.1 865.8,1784 866.7,1796.8 867.6,1819.1 868.5,1809.7 869.4,1805 870.3,1816.2 871.2,1803.4 872.1,1786.9 873,1790.4 873.9,1798.1 874.8,1783.5 875.7,1793.4 876.6,1775.9 877.5,1775.4 878.4,1772.3 879.3,1772 880.2,1756.3 881.1,1756.4 882,1755.7 882.9,1770.8 883.8,1754.5 884.7,1754.2 885.6,1755.3 886.5,1754.7 887.4,1739.6 888.3,1765.8 889.2,1777.6 890.1,1768 891,1744.1 891.9,1751.4 892.8,1732.2 893.7,1742.2 894.6,1734.5 895.5,1749.3 896.4,1706.8 897.3,1691.1 898.2,1692.4 899.1,1696.8 900,1692.8 900.9,1703 901.8,1724.6 902.7,1713 903.6,1693.9 904.5,1673.8 905.4,1648.1 906.3,1660.1 907.2,1686.8 908.1,1754.1 909,1765.7 909.9,1735.1 910.8,1709.4 911.7,1690.2 912.6,1708.8 913.5,1678.5 914.4,1678.4 915.3,1689.1 916.2,1723.2 917.1,1742.2 918,1713.6 918.9,1711.5 919.8,1694.9 920.7,1697.2 921.6,1717.4 922.5,1708.2 923.4,1743.3 924.3,1722.5 925.2,1733.3 926.1,1719.8 927,1730.4 927.9,1715.4 928.8,1757.6 929.7,1751.1 930.6,1756.7 931.5,1763 932.4,1798.5 933.3,1762.2 934.2,1759.4 935.1,1761.2 936,1755.3 936.9,1724.8 937.8,1761.4 938.7,1769.8 939.6,1801.8 940.5,1770.9 941.4,1773.1 942.3,1771.4 943.2,1757.8 944.1,1765.5 945,1763.7 945.9,1761 946.8,1768.9 947.7,1781.1 948.6,1787.4 949.5,1782.8 950.4,1781.4 951.3,1785 952.2,1764 953.1,1773 954,1751.9 954.9,1752.1 955.8,1759.2 956.7,1766.9 957.6,1746.2 958.5,1767.6 959.4,1765.1 960.3,1784.8 961.2,1798 962.1,1811.3 963,1798.6 963.9,1801.2 964.8,1792.9 965.7,1803 966.6,1789.7 967.5,1779.7 968.4,1776.4 969.3,1771.1 970.2,1764.5 971.1,1741.3 972,1777.7 972.9,1765 973.8,1767.5 974.7,1765.3 975.6,1795.3 976.5,1786.6 977.4,1781.1 978.3,1783 979.2,1784.8 980.1,1773.5 981,1763.4 981.9,1783 982.8,1772 983.7,1786.7 984.6,1792.2 985.5,1774.7 986.4,1787.7 987.3,1798.2 988.2,1793 989.1,1785.8 990,1788.4 990.9,1782.1 991.8,1794.1 992.7,1786 993.6,1793.4 994.5,1816.3 995.4,1819.8 996.3,1806 997.2,1795.7 998.1,1804.2 999,1814.6 999.9,1834.3 1000.8,1834.9 1001.7,1833.1 1002.6,1823.9 1003.5,1836.6 1004.4,1837.5 1005.3,1840.7 1006.2,1839.8 1006.6,1896.1" fill="#ec6a6b" stroke="#e0341f" stroke-width="0.9" stroke-linejoin="miter" stroke-miterlimit="6"/>
<rect x="1008.6" y="1730.5" width="1.6" height="165.6" fill="#d9503c"/>
<rect x="764.1" y="1647.1" width="246.6" height="249" fill="none" stroke="#3e3a39" stroke-width="1.3"/>
<line x1="769.1" y1="1647.1" x2="769.1" y2="1896.1" stroke="#3e3a39" stroke-width="1.3"/>
<line x1="1006.7" y1="1647.1" x2="1006.7" y2="1896.1" stroke="#3e3a39" stroke-width="1.3"/>
<line x1="769.1" y1="1842.1" x2="1006.7" y2="1842.1" stroke="#3e3a39" stroke-width="1.3"/>
<line x1="884.4" y1="1646.1" x2="890.9" y2="1646.1" stroke="#1a1a1a" stroke-width="1.8"/>
<text x="881.1" y="1776.7" font-size="8.6" textLength="11" lengthAdjust="spacingAndGlyphs" stroke="#231815" stroke-width="0.12" fill="#231815">P2</text>
<text x="268.7" y="1629.8" font-size="31" text-anchor="middle" textLength="96" lengthAdjust="spacingAndGlyphs" fill="#231815">Control</text>
<text x="586" y="1630" font-size="31" text-anchor="middle" textLength="114" lengthAdjust="spacingAndGlyphs" fill="#231815">Cisplatin</text>
<text x="885.4" y="1630" font-size="31" text-anchor="middle" textLength="201" lengthAdjust="spacingAndGlyphs" fill="#231815">Cisplatin+PAI-1</text>
<text x="82" y="1833" font-size="38.2" transform="rotate(-90 82 1833)" textLength="153" lengthAdjust="spacingAndGlyphs" fill="#231815">KYSE-30</text>
<text x="129" y="1891.5" font-size="23.9" transform="rotate(-90 129 1891.5)" textLength="70" lengthAdjust="spacingAndGlyphs" fill="#231815">Counts</text>
<line x1="123.6" y1="1658.8" x2="123.6" y2="1786.5" stroke="#231815" stroke-width="1.6"/>
<path d="M123.6 1650.8 L132.2 1666.8 L123.6 1662.3 L115 1666.8 Z" fill="#231815"/>
<text x="174.8" y="1942" font-size="22.2" textLength="185" lengthAdjust="spacingAndGlyphs" fill="#231815">DCF Fluorescence</text>
<line x1="385.3" y1="1934" x2="1014" y2="1934" stroke="#231815" stroke-width="1.6"/>
<path d="M1022 1934 L1006 1925.4 L1010.5 1934 L1006 1942.6 Z" fill="#231815"/>
<rect x="1323.4" y="1920" width="65.6" height="37.7" rx="3" fill="#2a4ea6"/>
<rect x="1439.6" y="1634.9" width="65.6" height="322.8" rx="3" fill="#d92a22"/>
<rect x="1453.6" y="1634.2" width="37.5" height="8.9" rx="4.4" fill="#d92a22"/>
<rect x="1555.8" y="1674.6" width="65.6" height="283.1" rx="3" fill="#37ac38"/>
<rect x="1569.8" y="1671" width="37.5" height="8.9" rx="4.4" fill="#37ac38"/>
<line x1="1299.3" y1="1609.1" x2="1299.3" y2="1959.9" stroke="#000" stroke-width="4.8" stroke-linecap="round"/>
<line x1="1290.6" y1="1957.7" x2="1650" y2="1957.7" stroke="#000" stroke-width="4.8" stroke-linecap="round"/>
<line x1="1290.6" y1="1609.1" x2="1299.3" y2="1609.1" stroke="#000" stroke-width="4.8" stroke-linecap="round"/>
<text x="1284.2" y="1618.3" font-size="25.6" text-anchor="end" fill="#000">5000</text>
<line x1="1290.6" y1="1679" x2="1299.3" y2="1679" stroke="#000" stroke-width="4.8" stroke-linecap="round"/>
<text x="1284.2" y="1688.2" font-size="25.6" text-anchor="end" fill="#000">4000</text>
<line x1="1290.6" y1="1748.6" x2="1299.3" y2="1748.6" stroke="#000" stroke-width="4.8" stroke-linecap="round"/>
<text x="1284.2" y="1757.8" font-size="25.6" text-anchor="end" fill="#000">3000</text>
<line x1="1290.6" y1="1818.6" x2="1299.3" y2="1818.6" stroke="#000" stroke-width="4.8" stroke-linecap="round"/>
<text x="1284.2" y="1827.8" font-size="25.6" text-anchor="end" fill="#000">2000</text>
<line x1="1290.6" y1="1888.1" x2="1299.3" y2="1888.1" stroke="#000" stroke-width="4.8" stroke-linecap="round"/>
<text x="1284.2" y="1897.3" font-size="25.6" text-anchor="end" fill="#000">1000</text>
<line x1="1290.6" y1="1957.7" x2="1299.3" y2="1957.7" stroke="#000" stroke-width="4.8" stroke-linecap="round"/>
<text x="1284.2" y="1966.9" font-size="25.6" text-anchor="end" fill="#000">0</text>
<line x1="1356.5" y1="1957.7" x2="1356.5" y2="1967.7" stroke="#000" stroke-width="4.8" stroke-linecap="round"/>
<text x="1348.2" y="1995" font-size="22" text-anchor="middle" fill="#000">Control</text>
<line x1="1472.3" y1="1957.7" x2="1472.3" y2="1967.7" stroke="#000" stroke-width="4.8" stroke-linecap="round"/>
<text x="1472.5" y="1995" font-size="22" text-anchor="middle" fill="#000">Cisplatin</text>
<line x1="1588.1" y1="1957.7" x2="1588.1" y2="1967.7" stroke="#000" stroke-width="4.8" stroke-linecap="round"/>
<text x="1607.8" y="1995" font-size="22" text-anchor="middle" fill="#000">Cisplatin+PAI-1</text>
<path d="M1462.9 1623.4 V1598.9 H1586.1 V1657" fill="none" stroke="#000" stroke-width="2"/>
<text x="1535.8" y="1602" font-size="27" text-anchor="middle" textLength="25" lengthAdjust="spacingAndGlyphs" fill="#000">**</text>
<text x="1169" y="1846" font-size="29.8" transform="rotate(-90 1169 1846)" textLength="123" lengthAdjust="spacingAndGlyphs" fill="#231815">KYSE-30</text>
<text x="1211.2" y="1865.2" font-size="29.6" transform="rotate(-90 1211.2 1865.2)" textLength="161" lengthAdjust="spacingAndGlyphs" fill="#231815">ROS activity</text>
<line x1="160.6" y1="2371" x2="168.6" y2="2371" stroke="#3e3a39" stroke-width="1.3"/>
<text x="160.6" y="2371" font-size="9.5" text-anchor="middle" transform="rotate(-90 160.6 2371)" textLength="4.2" lengthAdjust="spacingAndGlyphs" stroke="#231815" stroke-width="0.45" fill="#231815">0</text>
<line x1="164" y1="2359.5" x2="168.6" y2="2359.5" stroke="#3e3a39" stroke-width="1.3"/>
<line x1="164" y1="2348" x2="168.6" y2="2348" stroke="#3e3a39" stroke-width="1.3"/>
<line x1="164" y1="2336.5" x2="168.6" y2="2336.5" stroke="#3e3a39" stroke-width="1.3"/>
<line x1="164" y1="2325" x2="168.6" y2="2325" stroke="#3e3a39" stroke-width="1.3"/>
<line x1="160.6" y1="2313.5" x2="168.6" y2="2313.5" stroke="#3e3a39" stroke-width="1.3"/>
<text x="160.6" y="2313.5" font-size="9.5" text-anchor="middle" transform="rotate(-90 160.6 2313.5)" textLength="8.4" lengthAdjust="spacingAndGlyphs" stroke="#231815" stroke-width="0.45" fill="#231815">25</text>
<line x1="164" y1="2302" x2="168.6" y2="2302" stroke="#3e3a39" stroke-width="1.3"/>
<line x1="164" y1="2290.5" x2="168.6" y2="2290.5" stroke="#3e3a39" stroke-width="1.3"/>
<line x1="164" y1="2278.9" x2="168.6" y2="2278.9" stroke="#3e3a39" stroke-width="1.3"/>
<line x1="164" y1="2267.4" x2="168.6" y2="2267.4" stroke="#3e3a39" stroke-width="1.3"/>
<line x1="160.6" y1="2255.9" x2="168.6" y2="2255.9" stroke="#3e3a39" stroke-width="1.3"/>
<text x="160.6" y="2255.9" font-size="9.5" text-anchor="middle" transform="rotate(-90 160.6 2255.9)" textLength="8.4" lengthAdjust="spacingAndGlyphs" stroke="#231815" stroke-width="0.45" fill="#231815">50</text>
<line x1="164" y1="2244.4" x2="168.6" y2="2244.4" stroke="#3e3a39" stroke-width="1.3"/>
<line x1="164" y1="2232.9" x2="168.6" y2="2232.9" stroke="#3e3a39" stroke-width="1.3"/>
<line x1="164" y1="2221.4" x2="168.6" y2="2221.4" stroke="#3e3a39" stroke-width="1.3"/>
<line x1="164" y1="2209.9" x2="168.6" y2="2209.9" stroke="#3e3a39" stroke-width="1.3"/>
<line x1="160.6" y1="2198.4" x2="168.6" y2="2198.4" stroke="#3e3a39" stroke-width="1.3"/>
<text x="160.6" y="2198.4" font-size="9.5" text-anchor="middle" transform="rotate(-90 160.6 2198.4)" textLength="8.4" lengthAdjust="spacingAndGlyphs" stroke="#231815" stroke-width="0.45" fill="#231815">75</text>
<line x1="164" y1="2186.9" x2="168.6" y2="2186.9" stroke="#3e3a39" stroke-width="1.3"/>
<line x1="164" y1="2175.4" x2="168.6" y2="2175.4" stroke="#3e3a39" stroke-width="1.3"/>
<line x1="164" y1="2163.9" x2="168.6" y2="2163.9" stroke="#3e3a39" stroke-width="1.3"/>
<line x1="164" y1="2152.4" x2="168.6" y2="2152.4" stroke="#3e3a39" stroke-width="1.3"/>
<line x1="160.6" y1="2140.9" x2="168.6" y2="2140.9" stroke="#3e3a39" stroke-width="1.3"/>
<text x="160.6" y="2140.9" font-size="9.5" text-anchor="middle" transform="rotate(-90 160.6 2140.9)" textLength="12.6" lengthAdjust="spacingAndGlyphs" stroke="#231815" stroke-width="0.45" fill="#231815">100</text>
<line x1="164" y1="2129.4" x2="168.6" y2="2129.4" stroke="#3e3a39" stroke-width="1.3"/>
<line x1="171.3" y1="2371" x2="171.3" y2="2376.3" stroke="#3e3a39" stroke-width="1.3"/>
<line x1="179" y1="2371" x2="179" y2="2376.3" stroke="#3e3a39" stroke-width="1.3"/>
<line x1="185" y1="2371" x2="185" y2="2376.3" stroke="#3e3a39" stroke-width="1.3"/>
<line x1="189.8" y1="2371" x2="189.8" y2="2376.3" stroke="#3e3a39" stroke-width="1.3"/>
<line x1="194" y1="2371" x2="194" y2="2376.3" stroke="#3e3a39" stroke-width="1.3"/>
<line x1="197.5" y1="2371" x2="197.5" y2="2376.3" stroke="#3e3a39" stroke-width="1.3"/>
<line x1="200.7" y1="2371" x2="200.7" y2="2376.3" stroke="#3e3a39" stroke-width="1.3"/>
<line x1="203.5" y1="2371" x2="203.5" y2="2379" stroke="#3e3a39" stroke-width="1.3"/>
<text x="205.3" y="2389" font-size="9" text-anchor="end" textLength="7.4" lengthAdjust="spacingAndGlyphs" stroke="#231815" stroke-width="0.35" fill="#231815">10</text>
<text x="205.8" y="2383.8" font-size="7.2" textLength="3.8" lengthAdjust="spacingAndGlyphs" stroke="#231815" stroke-width="0.35" fill="#231815">2</text>
<line x1="222" y1="2371" x2="222" y2="2376.3" stroke="#3e3a39" stroke-width="1.3"/>
<line x1="232.9" y1="2371" x2="232.9" y2="2376.3" stroke="#3e3a39" stroke-width="1.3"/>
<line x1="240.6" y1="2371" x2="240.6" y2="2376.3" stroke="#3e3a39" stroke-width="1.3"/>
<line x1="246.6" y1="2371" x2="246.6" y2="2376.3" stroke="#3e3a39" stroke-width="1.3"/>
<line x1="251.4" y1="2371" x2="251.4" y2="2376.3" stroke="#3e3a39" stroke-width="1.3"/>
<line x1="255.6" y1="2371" x2="255.6" y2="2376.3" stroke="#3e3a39" stroke-width="1.3"/>
<line x1="259.1" y1="2371" x2="259.1" y2="2376.3" stroke="#3e3a39" stroke-width="1.3"/>
<line x1="262.3" y1="2371" x2="262.3" y2="2376.3" stroke="#3e3a39" stroke-width="1.3"/>
<line x1="265.1" y1="2371" x2="265.1" y2="2379" stroke="#3e3a39" stroke-width="1.3"/>
<text x="266.9" y="2389" font-size="9" text-anchor="end" textLength="7.4" lengthAdjust="spacingAndGlyphs" stroke="#231815" stroke-width="0.35" fill="#231815">10</text>
<text x="267.4" y="2383.8" font-size="7.2" textLength="3.8" lengthAdjust="spacingAndGlyphs" stroke="#231815" stroke-width="0.35" fill="#231815">3</text>
<line x1="283.6" y1="2371" x2="283.6" y2="2376.3" stroke="#3e3a39" stroke-width="1.3"/>
<line x1="294.5" y1="2371" x2="294.5" y2="2376.3" stroke="#3e3a39" stroke-width="1.3"/>
<line x1="302.2" y1="2371" x2="302.2" y2="2376.3" stroke="#3e3a39" stroke-width="1.3"/>
<line x1="308.2" y1="2371" x2="308.2" y2="2376.3" stroke="#3e3a39" stroke-width="1.3"/>
<line x1="313" y1="2371" x2="313" y2="2376.3" stroke="#3e3a39" stroke-width="1.3"/>
<line x1="317.2" y1="2371" x2="317.2" y2="2376.3" stroke="#3e3a39" stroke-width="1.3"/>
<line x1="320.7" y1="2371" x2="320.7" y2="2376.3" stroke="#3e3a39" stroke-width="1.3"/>
<line x1="323.9" y1="2371" x2="323.9" y2="2376.3" stroke="#3e3a39" stroke-width="1.3"/>
<line x1="326.7" y1="2371" x2="326.7" y2="2379" stroke="#3e3a39" stroke-width="1.3"/>
<text x="328.5" y="2389" font-size="9" text-anchor="end" textLength="7.4" lengthAdjust="spacingAndGlyphs" stroke="#231815" stroke-width="0.35" fill="#231815">10</text>
<text x="329" y="2383.8" font-size="7.2" textLength="3.8" lengthAdjust="spacingAndGlyphs" stroke="#231815" stroke-width="0.35" fill="#231815">4</text>
<line x1="345.2" y1="2371" x2="345.2" y2="2376.3" stroke="#3e3a39" stroke-width="1.3"/>
<line x1="356.1" y1="2371" x2="356.1" y2="2376.3" stroke="#3e3a39" stroke-width="1.3"/>
<line x1="363.8" y1="2371" x2="363.8" y2="2376.3" stroke="#3e3a39" stroke-width="1.3"/>
<line x1="369.8" y1="2371" x2="369.8" y2="2376.3" stroke="#3e3a39" stroke-width="1.3"/>
<line x1="374.6" y1="2371" x2="374.6" y2="2376.3" stroke="#3e3a39" stroke-width="1.3"/>
<line x1="378.8" y1="2371" x2="378.8" y2="2376.3" stroke="#3e3a39" stroke-width="1.3"/>
<line x1="382.3" y1="2371" x2="382.3" y2="2376.3" stroke="#3e3a39" stroke-width="1.3"/>
<line x1="385.5" y1="2371" x2="385.5" y2="2376.3" stroke="#3e3a39" stroke-width="1.3"/>
<line x1="388.3" y1="2371" x2="388.3" y2="2379" stroke="#3e3a39" stroke-width="1.3"/>
<text x="390.1" y="2389" font-size="9" text-anchor="end" textLength="7.4" lengthAdjust="spacingAndGlyphs" stroke="#231815" stroke-width="0.35" fill="#231815">10</text>
<text x="390.6" y="2383.8" font-size="7.2" textLength="3.8" lengthAdjust="spacingAndGlyphs" stroke="#231815" stroke-width="0.35" fill="#231815">5</text>
<line x1="406.8" y1="2371" x2="406.8" y2="2376.3" stroke="#3e3a39" stroke-width="1.3"/>
<clipPath id="h16"><rect x="168.6" y="2122" width="246.6" height="248.5"/></clipPath>
<polygon clip-path="url(#h16)" points="168.8,2371 168.8,2371 169.7,2371 170.6,2371 171.5,2370.6 172.4,2371 173.3,2371 174.2,2371 175.1,2371 176,2369.9 176.9,2371 177.8,2371 178.7,2371 179.6,2371 180.5,2371 181.4,2371 182.3,2371 183.2,2371 184.1,2371 185,2371 185.9,2371 186.8,2371 187.7,2371 188.6,2371 189.5,2371 190.4,2371 191.3,2371 192.2,2371 193.1,2371 194,2371 194.9,2371 195.8,2371 196.7,2371 197.6,2371 198.5,2371 199.4,2371 200.3,2371 201.2,2371 202.1,2371 203,2371 203.9,2371 204.8,2371 205.7,2370.7 206.6,2371 207.5,2371 208.4,2369.7 209.3,2369.4 210.2,2367.2 211.1,2366.1 212,2363.9 212.9,2369.8 213.8,2367 214.7,2367.4 215.6,2366.8 216.5,2367.6 217.4,2368.8 218.3,2364.4 219.2,2369.2 220.1,2362.2 221,2363.9 221.9,2368.1 222.8,2362.8 223.7,2358.5 224.6,2355.2 225.5,2349.8 226.4,2358.1 227.3,2363.5 228.2,2358.7 229.1,2356.1 230,2356.3 230.9,2354.4 231.8,2353.8 232.7,2357.1 233.6,2353.3 234.5,2348.4 235.4,2345.4 236.3,2340.7 237.2,2350 238.1,2347.7 239,2346.7 239.9,2341.1 240.8,2339.2 241.7,2335.2 242.6,2332.2 243.5,2327.6 244.4,2328.2 245.3,2334.6 246.2,2321.6 247.1,2319.7 248,2311.4 248.9,2321.9 249.8,2314.3 250.7,2314.6 251.6,2295.4 252.5,2306.8 253.4,2305.5 254.3,2301.6 255.2,2270.1 256.1,2278.3 257,2273 257.9,2311.6 258.8,2280.9 259.7,2272.2 260.6,2270.6 261.5,2291.3 262.4,2258.7 263.3,2238.9 264.2,2266.5 265.1,2270.2 266,2261.2 266.9,2262.1 267.8,2255.6 268.7,2226.2 269.6,2240.2 270.5,2232.6 271.4,2232.6 272.3,2219.9 273.2,2242.6 274.1,2238.6 275,2250 275.9,2252.7 276.8,2245.4 277.7,2240.9 278.6,2233.7 279.5,2217.6 280.4,2223 281.3,2244.3 282.2,2222.6 283.1,2207.2 284,2219 284.9,2215.7 285.8,2225.7 286.7,2212.6 287.6,2231.5 288.5,2210.2 289.4,2213.4 290.3,2216.6 291.2,2187.7 292.1,2222.9 293,2209 293.9,2188.1 294.8,2218 295.7,2163.8 296.6,2173.6 297.5,2181.5 298.4,2160 299.3,2173.7 300.2,2163 301.1,2167.4 302,2167.5 302.9,2167.9 303.8,2148.9 304.7,2152.7 305.6,2168.6 306.5,2158.5 307.4,2142.5 308.3,2154.5 309.2,2156.6 310.1,2145.8 311,2138 311.9,2168.2 312.8,2123 313.7,2123.7 314.6,2148.2 315.5,2171.3 316.4,2135.4 317.3,2151.5 318.2,2154.4 319.1,2134.8 320,2172.4 320.9,2162.7 321.8,2150.9 322.7,2166.4 323.6,2147.8 324.5,2149.7 325.4,2152.2 326.3,2212 327.2,2147.4 328.1,2182.3 329,2141.2 329.9,2150.7 330.8,2157.6 331.7,2167.7 332.6,2205.2 333.5,2181 334.4,2179.8 335.3,2188.9 336.2,2181.3 337.1,2183.5 338,2173.8 338.9,2167.2 339.8,2131.7 340.7,2165 341.6,2176.4 342.5,2175.4 343.4,2181.4 344.3,2162.3 345.2,2189.6 346.1,2164.1 347,2174.2 347.9,2173.2 348.8,2153.4 349.7,2203.8 350.6,2176.4 351.5,2190.1 352.4,2181.2 353.3,2152.6 354.2,2160.1 355.1,2187.8 356,2197 356.9,2197.6 357.8,2200 358.7,2201.6 359.6,2190.2 360.5,2197.3 361.4,2242.6 362.3,2191.2 363.2,2216.1 364.1,2216.1 365,2219.2 365.9,2224.8 366.8,2219.8 367.7,2226.8 368.6,2219.2 369.5,2204.9 370.4,2215.7 371.3,2229.9 372.2,2239.8 373.1,2258.6 374,2283 374.9,2265.4 375.8,2272.3 376.7,2279.1 377.6,2249.8 378.5,2268.1 379.4,2283.7 380.3,2290 381.2,2294 382.1,2306.2 383,2283.5 383.9,2314 384.8,2318.2 385.7,2320.4 386.6,2324.6 387.5,2323.3 388.4,2327.6 389.3,2344.9 390.2,2325.7 391.1,2344.2 392,2329.4 392.9,2359.2 393.8,2346.2 394.7,2357.6 395.6,2356.8 396.5,2363.6 397.4,2364.6 398.3,2358.3 399.2,2354.8 400.1,2365.5 401,2359.2 401.9,2361.5 402.8,2363.4 403.7,2364.2 404.6,2367.5 405.5,2368.1 406.4,2371 407.3,2365.4 408.2,2367.9 409.1,2368.6 410,2365.4 410.9,2368.3 411.8,2364.9 412.7,2359.4 413.6,2345.9 414.2,2371" fill="#ec6a6b" stroke="#e0341f" stroke-width="0.9" stroke-linejoin="miter" stroke-miterlimit="6"/>
<rect x="168.6" y="2122" width="246.6" height="249" fill="none" stroke="#3e3a39" stroke-width="1.3"/>
<line x1="173.6" y1="2122" x2="173.6" y2="2371" stroke="#3e3a39" stroke-width="1.3"/>
<line x1="411.2" y1="2122" x2="411.2" y2="2371" stroke="#3e3a39" stroke-width="1.3"/>
<line x1="173.6" y1="2317" x2="411.2" y2="2317" stroke="#3e3a39" stroke-width="1.3"/>
<line x1="288.9" y1="2121" x2="295.4" y2="2121" stroke="#1a1a1a" stroke-width="1.8"/>
<text x="285.6" y="2251.6" font-size="8.6" textLength="11" lengthAdjust="spacingAndGlyphs" stroke="#231815" stroke-width="0.12" fill="#231815">P2</text>
<line x1="459.1" y1="2371" x2="467.1" y2="2371" stroke="#3e3a39" stroke-width="1.3"/>
<text x="459.1" y="2371" font-size="9.5" text-anchor="middle" transform="rotate(-90 459.1 2371)" textLength="4.2" lengthAdjust="spacingAndGlyphs" stroke="#231815" stroke-width="0.45" fill="#231815">0</text>
<line x1="462.5" y1="2361.3" x2="467.1" y2="2361.3" stroke="#3e3a39" stroke-width="1.3"/>
<line x1="462.5" y1="2351.7" x2="467.1" y2="2351.7" stroke="#3e3a39" stroke-width="1.3"/>
<line x1="462.5" y1="2342" x2="467.1" y2="2342" stroke="#3e3a39" stroke-width="1.3"/>
<line x1="462.5" y1="2332.4" x2="467.1" y2="2332.4" stroke="#3e3a39" stroke-width="1.3"/>
<line x1="459.1" y1="2322.7" x2="467.1" y2="2322.7" stroke="#3e3a39" stroke-width="1.3"/>
<text x="459.1" y="2322.7" font-size="9.5" text-anchor="middle" transform="rotate(-90 459.1 2322.7)" textLength="8.4" lengthAdjust="spacingAndGlyphs" stroke="#231815" stroke-width="0.45" fill="#231815">25</text>
<line x1="462.5" y1="2313" x2="467.1" y2="2313" stroke="#3e3a39" stroke-width="1.3"/>
<line x1="462.5" y1="2303.4" x2="467.1" y2="2303.4" stroke="#3e3a39" stroke-width="1.3"/>
<line x1="462.5" y1="2293.7" x2="467.1" y2="2293.7" stroke="#3e3a39" stroke-width="1.3"/>
<line x1="462.5" y1="2284.1" x2="467.1" y2="2284.1" stroke="#3e3a39" stroke-width="1.3"/>
<line x1="459.1" y1="2274.4" x2="467.1" y2="2274.4" stroke="#3e3a39" stroke-width="1.3"/>
<text x="459.1" y="2274.4" font-size="9.5" text-anchor="middle" transform="rotate(-90 459.1 2274.4)" textLength="8.4" lengthAdjust="spacingAndGlyphs" stroke="#231815" stroke-width="0.45" fill="#231815">50</text>
<line x1="462.5" y1="2264.8" x2="467.1" y2="2264.8" stroke="#3e3a39" stroke-width="1.3"/>
<line x1="462.5" y1="2255.1" x2="467.1" y2="2255.1" stroke="#3e3a39" stroke-width="1.3"/>
<line x1="462.5" y1="2245.4" x2="467.1" y2="2245.4" stroke="#3e3a39" stroke-width="1.3"/>
<line x1="462.5" y1="2235.8" x2="467.1" y2="2235.8" stroke="#3e3a39" stroke-width="1.3"/>
<line x1="459.1" y1="2226.1" x2="467.1" y2="2226.1" stroke="#3e3a39" stroke-width="1.3"/>
<text x="459.1" y="2226.1" font-size="9.5" text-anchor="middle" transform="rotate(-90 459.1 2226.1)" textLength="8.4" lengthAdjust="spacingAndGlyphs" stroke="#231815" stroke-width="0.45" fill="#231815">75</text>
<line x1="462.5" y1="2216.5" x2="467.1" y2="2216.5" stroke="#3e3a39" stroke-width="1.3"/>
<line x1="462.5" y1="2206.8" x2="467.1" y2="2206.8" stroke="#3e3a39" stroke-width="1.3"/>
<line x1="462.5" y1="2197.1" x2="467.1" y2="2197.1" stroke="#3e3a39" stroke-width="1.3"/>
<line x1="462.5" y1="2187.5" x2="467.1" y2="2187.5" stroke="#3e3a39" stroke-width="1.3"/>
<line x1="459.1" y1="2177.8" x2="467.1" y2="2177.8" stroke="#3e3a39" stroke-width="1.3"/>
<text x="459.1" y="2177.8" font-size="9.5" text-anchor="middle" transform="rotate(-90 459.1 2177.8)" textLength="12.6" lengthAdjust="spacingAndGlyphs" stroke="#231815" stroke-width="0.45" fill="#231815">100</text>
<line x1="462.5" y1="2168.2" x2="467.1" y2="2168.2" stroke="#3e3a39" stroke-width="1.3"/>
<line x1="462.5" y1="2158.5" x2="467.1" y2="2158.5" stroke="#3e3a39" stroke-width="1.3"/>
<line x1="462.5" y1="2148.9" x2="467.1" y2="2148.9" stroke="#3e3a39" stroke-width="1.3"/>
<line x1="462.5" y1="2139.2" x2="467.1" y2="2139.2" stroke="#3e3a39" stroke-width="1.3"/>
<line x1="459.1" y1="2129.5" x2="467.1" y2="2129.5" stroke="#3e3a39" stroke-width="1.3"/>
<text x="459.1" y="2129.5" font-size="9.5" text-anchor="middle" transform="rotate(-90 459.1 2129.5)" textLength="12.6" lengthAdjust="spacingAndGlyphs" stroke="#231815" stroke-width="0.45" fill="#231815">125</text>
<line x1="469.8" y1="2371" x2="469.8" y2="2376.3" stroke="#3e3a39" stroke-width="1.3"/>
<line x1="477.5" y1="2371" x2="477.5" y2="2376.3" stroke="#3e3a39" stroke-width="1.3"/>
<line x1="483.5" y1="2371" x2="483.5" y2="2376.3" stroke="#3e3a39" stroke-width="1.3"/>
<line x1="488.3" y1="2371" x2="488.3" y2="2376.3" stroke="#3e3a39" stroke-width="1.3"/>
<line x1="492.5" y1="2371" x2="492.5" y2="2376.3" stroke="#3e3a39" stroke-width="1.3"/>
<line x1="496" y1="2371" x2="496" y2="2376.3" stroke="#3e3a39" stroke-width="1.3"/>
<line x1="499.2" y1="2371" x2="499.2" y2="2376.3" stroke="#3e3a39" stroke-width="1.3"/>
<line x1="502" y1="2371" x2="502" y2="2379" stroke="#3e3a39" stroke-width="1.3"/>
<text x="503.8" y="2389" font-size="9" text-anchor="end" textLength="7.4" lengthAdjust="spacingAndGlyphs" stroke="#231815" stroke-width="0.35" fill="#231815">10</text>
<text x="504.3" y="2383.8" font-size="7.2" textLength="3.8" lengthAdjust="spacingAndGlyphs" stroke="#231815" stroke-width="0.35" fill="#231815">2</text>
<line x1="520.5" y1="2371" x2="520.5" y2="2376.3" stroke="#3e3a39" stroke-width="1.3"/>
<line x1="531.4" y1="2371" x2="531.4" y2="2376.3" stroke="#3e3a39" stroke-width="1.3"/>
<line x1="539.1" y1="2371" x2="539.1" y2="2376.3" stroke="#3e3a39" stroke-width="1.3"/>
<line x1="545.1" y1="2371" x2="545.1" y2="2376.3" stroke="#3e3a39" stroke-width="1.3"/>
<line x1="549.9" y1="2371" x2="549.9" y2="2376.3" stroke="#3e3a39" stroke-width="1.3"/>
<line x1="554.1" y1="2371" x2="554.1" y2="2376.3" stroke="#3e3a39" stroke-width="1.3"/>
<line x1="557.6" y1="2371" x2="557.6" y2="2376.3" stroke="#3e3a39" stroke-width="1.3"/>
<line x1="560.8" y1="2371" x2="560.8" y2="2376.3" stroke="#3e3a39" stroke-width="1.3"/>
<line x1="563.6" y1="2371" x2="563.6" y2="2379" stroke="#3e3a39" stroke-width="1.3"/>
<text x="565.4" y="2389" font-size="9" text-anchor="end" textLength="7.4" lengthAdjust="spacingAndGlyphs" stroke="#231815" stroke-width="0.35" fill="#231815">10</text>
<text x="565.9" y="2383.8" font-size="7.2" textLength="3.8" lengthAdjust="spacingAndGlyphs" stroke="#231815" stroke-width="0.35" fill="#231815">3</text>
<line x1="582.1" y1="2371" x2="582.1" y2="2376.3" stroke="#3e3a39" stroke-width="1.3"/>
<line x1="593" y1="2371" x2="593" y2="2376.3" stroke="#3e3a39" stroke-width="1.3"/>
<line x1="600.7" y1="2371" x2="600.7" y2="2376.3" stroke="#3e3a39" stroke-width="1.3"/>
<line x1="606.7" y1="2371" x2="606.7" y2="2376.3" stroke="#3e3a39" stroke-width="1.3"/>
<line x1="611.5" y1="2371" x2="611.5" y2="2376.3" stroke="#3e3a39" stroke-width="1.3"/>
<line x1="615.7" y1="2371" x2="615.7" y2="2376.3" stroke="#3e3a39" stroke-width="1.3"/>
<line x1="619.2" y1="2371" x2="619.2" y2="2376.3" stroke="#3e3a39" stroke-width="1.3"/>
<line x1="622.4" y1="2371" x2="622.4" y2="2376.3" stroke="#3e3a39" stroke-width="1.3"/>
<line x1="625.2" y1="2371" x2="625.2" y2="2379" stroke="#3e3a39" stroke-width="1.3"/>
<text x="627" y="2389" font-size="9" text-anchor="end" textLength="7.4" lengthAdjust="spacingAndGlyphs" stroke="#231815" stroke-width="0.35" fill="#231815">10</text>
<text x="627.5" y="2383.8" font-size="7.2" textLength="3.8" lengthAdjust="spacingAndGlyphs" stroke="#231815" stroke-width="0.35" fill="#231815">4</text>
<line x1="643.7" y1="2371" x2="643.7" y2="2376.3" stroke="#3e3a39" stroke-width="1.3"/>
<line x1="654.6" y1="2371" x2="654.6" y2="2376.3" stroke="#3e3a39" stroke-width="1.3"/>
<line x1="662.3" y1="2371" x2="662.3" y2="2376.3" stroke="#3e3a39" stroke-width="1.3"/>
<line x1="668.3" y1="2371" x2="668.3" y2="2376.3" stroke="#3e3a39" stroke-width="1.3"/>
<line x1="673.1" y1="2371" x2="673.1" y2="2376.3" stroke="#3e3a39" stroke-width="1.3"/>
<line x1="677.3" y1="2371" x2="677.3" y2="2376.3" stroke="#3e3a39" stroke-width="1.3"/>
<line x1="680.8" y1="2371" x2="680.8" y2="2376.3" stroke="#3e3a39" stroke-width="1.3"/>
<line x1="684" y1="2371" x2="684" y2="2376.3" stroke="#3e3a39" stroke-width="1.3"/>
<line x1="686.8" y1="2371" x2="686.8" y2="2379" stroke="#3e3a39" stroke-width="1.3"/>
<text x="688.6" y="2389" font-size="9" text-anchor="end" textLength="7.4" lengthAdjust="spacingAndGlyphs" stroke="#231815" stroke-width="0.35" fill="#231815">10</text>
<text x="689.1" y="2383.8" font-size="7.2" textLength="3.8" lengthAdjust="spacingAndGlyphs" stroke="#231815" stroke-width="0.35" fill="#231815">5</text>
<line x1="705.3" y1="2371" x2="705.3" y2="2376.3" stroke="#3e3a39" stroke-width="1.3"/>
<clipPath id="h17"><rect x="467.1" y="2122" width="246.6" height="248.5"/></clipPath>
<polygon clip-path="url(#h17)" points="467.1,2371 467.1,2371 468,2371 468.9,2371 469.8,2371 470.7,2371 471.6,2371 472.5,2371 473.4,2371 474.3,2371 475.2,2371 476.1,2371 477,2371 477.9,2370.2 478.8,2371 479.7,2371 480.6,2371 481.5,2371 482.4,2371 483.3,2371 484.2,2371 485.1,2371 486,2371 486.9,2371 487.8,2371 488.7,2371 489.6,2371 490.5,2371 491.4,2371 492.3,2371 493.2,2371 494.1,2371 495,2371 495.9,2370.9 496.8,2371 497.7,2371 498.6,2371 499.5,2371 500.4,2371 501.3,2371 502.2,2371 503.1,2371 504,2371 504.9,2371 505.8,2371 506.7,2371 507.6,2371 508.5,2371 509.4,2371 510.3,2371 511.2,2371 512.1,2371 513,2371 513.9,2371 514.8,2371 515.7,2369.9 516.6,2371 517.5,2371 518.4,2371 519.3,2371 520.2,2371 521.1,2371 522,2371 522.9,2371 523.8,2371 524.7,2371 525.6,2371 526.5,2371 527.4,2371 528.3,2371 529.2,2371 530.1,2371 531,2371 531.9,2371 532.8,2371 533.7,2371 534.6,2370.5 535.5,2369.4 536.4,2367.9 537.3,2370.7 538.2,2371 539.1,2371 540,2369 540.9,2369.6 541.8,2369.9 542.7,2367.1 543.6,2368 544.5,2366.7 545.4,2366.2 546.3,2363.7 547.2,2367.5 548.1,2366.3 549,2362 549.9,2356.6 550.8,2358.1 551.7,2363.2 552.6,2359.3 553.5,2356.9 554.4,2352.6 555.3,2356.4 556.2,2359.7 557.1,2345.5 558,2345 558.9,2344.7 559.8,2344.8 560.7,2348.6 561.6,2348 562.5,2346 563.4,2346.6 564.3,2341.9 565.2,2347.9 566.1,2336 567,2344.3 567.9,2347.5 568.8,2335.4 569.7,2336.6 570.6,2341 571.5,2353.1 572.4,2343.6 573.3,2341 574.2,2334.2 575.1,2325.4 576,2308.1 576.9,2331.5 577.8,2327.9 578.7,2334.7 579.6,2338.8 580.5,2323.3 581.4,2324.8 582.3,2312.9 583.2,2318.3 584.1,2322.8 585,2330.8 585.9,2326.4 586.8,2324.2 587.7,2306.3 588.6,2323.1 589.5,2319.9 590.4,2306.4 591.3,2319.2 592.2,2289.9 593.1,2326 594,2297.2 594.9,2292.3 595.8,2320.4 596.7,2326.7 597.6,2314.5 598.5,2307.8 599.4,2278.5 600.3,2282.2 601.2,2274.8 602.1,2280.6 603,2284.4 603.9,2296.2 604.8,2280.5 605.7,2289.9 606.6,2283.3 607.5,2291.4 608.4,2271.6 609.3,2262.2 610.2,2265.7 611.1,2268.9 612,2282.6 612.9,2272.1 613.8,2240.3 614.7,2257.1 615.6,2267.4 616.5,2252.9 617.4,2252.5 618.3,2264 619.2,2212.8 620.1,2235.6 621,2229.5 621.9,2268.3 622.8,2252.1 623.7,2228.5 624.6,2252.8 625.5,2231.2 626.4,2222.3 627.3,2224.5 628.2,2237.7 629.1,2259.3 630,2253.9 630.9,2255.1 631.8,2253.9 632.7,2228.3 633.6,2259.3 634.5,2195.2 635.4,2201.6 636.3,2186 637.2,2216.6 638.1,2183.3 639,2188.9 639.9,2224.6 640.8,2223.5 641.7,2212.4 642.6,2191.6 643.5,2206 644.4,2186.4 645.3,2212.7 646.2,2162.7 647.1,2185.3 648,2165.3 648.9,2182.1 649.8,2169 650.7,2176.4 651.6,2147.4 652.5,2134.7 653.4,2156 654.3,2151.5 655.2,2161.5 656.1,2152.7 657,2173 657.9,2141.1 658.8,2138.3 659.7,2134.5 660.6,2141 661.5,2148.4 662.4,2189 663.3,2151.5 664.2,2128.6 665.1,2148.3 666,2132 666.9,2152.2 667.8,2171.3 668.7,2128.4 669.6,2148.7 670.5,2156 671.4,2174.4 672.3,2128.1 673.2,2173.1 674.1,2180.2 675,2179 675.9,2194.4 676.8,2147.9 677.7,2166.5 678.6,2211.5 679.5,2184.1 680.4,2174.7 681.3,2191.4 682.2,2210.1 683.1,2215.7 684,2205.9 684.9,2197 685.8,2226.5 686.7,2213.8 687.6,2240.2 688.5,2239.7 689.4,2249.2 690.3,2252.8 691.2,2244.6 692.1,2279.6 693,2250.6 693.9,2258.2 694.8,2239.1 695.7,2238 696.6,2257.5 697.5,2281.1 698.4,2279.1 699.3,2294.8 700.2,2302.8 701.1,2280.7 702,2287.2 702.9,2307.1 703.8,2321.1 704.7,2317.1 705.6,2315.2 706.5,2327.8 707.4,2313 708.3,2315.3 709,2371" fill="#ec6a6b" stroke="#e0341f" stroke-width="0.9" stroke-linejoin="miter" stroke-miterlimit="6"/>
<rect x="711.6" y="2252.1" width="1.6" height="118.9" fill="#d9503c"/>
<rect x="467.1" y="2122" width="246.6" height="249" fill="none" stroke="#3e3a39" stroke-width="1.3"/>
<line x1="472.1" y1="2122" x2="472.1" y2="2371" stroke="#3e3a39" stroke-width="1.3"/>
<line x1="709.7" y1="2122" x2="709.7" y2="2371" stroke="#3e3a39" stroke-width="1.3"/>
<line x1="472.1" y1="2317" x2="709.7" y2="2317" stroke="#3e3a39" stroke-width="1.3"/>
<line x1="587.4" y1="2121" x2="593.9" y2="2121" stroke="#1a1a1a" stroke-width="1.8"/>
<text x="584.1" y="2251.6" font-size="8.6" textLength="11" lengthAdjust="spacingAndGlyphs" stroke="#231815" stroke-width="0.12" fill="#231815">P2</text>
<line x1="755.9" y1="2371" x2="763.9" y2="2371" stroke="#3e3a39" stroke-width="1.3"/>
<text x="755.9" y="2371" font-size="9.5" text-anchor="middle" transform="rotate(-90 755.9 2371)" textLength="4.2" lengthAdjust="spacingAndGlyphs" stroke="#231815" stroke-width="0.45" fill="#231815">0</text>
<line x1="759.3" y1="2356.9" x2="763.9" y2="2356.9" stroke="#3e3a39" stroke-width="1.3"/>
<line x1="759.3" y1="2342.8" x2="763.9" y2="2342.8" stroke="#3e3a39" stroke-width="1.3"/>
<line x1="759.3" y1="2328.6" x2="763.9" y2="2328.6" stroke="#3e3a39" stroke-width="1.3"/>
<line x1="759.3" y1="2314.5" x2="763.9" y2="2314.5" stroke="#3e3a39" stroke-width="1.3"/>
<line x1="755.9" y1="2300.4" x2="763.9" y2="2300.4" stroke="#3e3a39" stroke-width="1.3"/>
<text x="755.9" y="2300.4" font-size="9.5" text-anchor="middle" transform="rotate(-90 755.9 2300.4)" textLength="8.4" lengthAdjust="spacingAndGlyphs" stroke="#231815" stroke-width="0.45" fill="#231815">50</text>
<line x1="759.3" y1="2286.3" x2="763.9" y2="2286.3" stroke="#3e3a39" stroke-width="1.3"/>
<line x1="759.3" y1="2272.1" x2="763.9" y2="2272.1" stroke="#3e3a39" stroke-width="1.3"/>
<line x1="759.3" y1="2258" x2="763.9" y2="2258" stroke="#3e3a39" stroke-width="1.3"/>
<line x1="759.3" y1="2243.9" x2="763.9" y2="2243.9" stroke="#3e3a39" stroke-width="1.3"/>
<line x1="755.9" y1="2229.8" x2="763.9" y2="2229.8" stroke="#3e3a39" stroke-width="1.3"/>
<text x="755.9" y="2229.8" font-size="9.5" text-anchor="middle" transform="rotate(-90 755.9 2229.8)" textLength="12.6" lengthAdjust="spacingAndGlyphs" stroke="#231815" stroke-width="0.45" fill="#231815">100</text>
<line x1="759.3" y1="2215.6" x2="763.9" y2="2215.6" stroke="#3e3a39" stroke-width="1.3"/>
<line x1="759.3" y1="2201.5" x2="763.9" y2="2201.5" stroke="#3e3a39" stroke-width="1.3"/>
<line x1="759.3" y1="2187.4" x2="763.9" y2="2187.4" stroke="#3e3a39" stroke-width="1.3"/>
<line x1="759.3" y1="2173.3" x2="763.9" y2="2173.3" stroke="#3e3a39" stroke-width="1.3"/>
<line x1="755.9" y1="2159.1" x2="763.9" y2="2159.1" stroke="#3e3a39" stroke-width="1.3"/>
<text x="755.9" y="2159.1" font-size="9.5" text-anchor="middle" transform="rotate(-90 755.9 2159.1)" textLength="12.6" lengthAdjust="spacingAndGlyphs" stroke="#231815" stroke-width="0.45" fill="#231815">150</text>
<line x1="759.3" y1="2145" x2="763.9" y2="2145" stroke="#3e3a39" stroke-width="1.3"/>
<line x1="759.3" y1="2130.9" x2="763.9" y2="2130.9" stroke="#3e3a39" stroke-width="1.3"/>
<line x1="766.6" y1="2371" x2="766.6" y2="2376.3" stroke="#3e3a39" stroke-width="1.3"/>
<line x1="774.3" y1="2371" x2="774.3" y2="2376.3" stroke="#3e3a39" stroke-width="1.3"/>
<line x1="780.3" y1="2371" x2="780.3" y2="2376.3" stroke="#3e3a39" stroke-width="1.3"/>
<line x1="785.1" y1="2371" x2="785.1" y2="2376.3" stroke="#3e3a39" stroke-width="1.3"/>
<line x1="789.3" y1="2371" x2="789.3" y2="2376.3" stroke="#3e3a39" stroke-width="1.3"/>
<line x1="792.8" y1="2371" x2="792.8" y2="2376.3" stroke="#3e3a39" stroke-width="1.3"/>
<line x1="796" y1="2371" x2="796" y2="2376.3" stroke="#3e3a39" stroke-width="1.3"/>
<line x1="798.8" y1="2371" x2="798.8" y2="2379" stroke="#3e3a39" stroke-width="1.3"/>
<text x="800.6" y="2389" font-size="9" text-anchor="end" textLength="7.4" lengthAdjust="spacingAndGlyphs" stroke="#231815" stroke-width="0.35" fill="#231815">10</text>
<text x="801.1" y="2383.8" font-size="7.2" textLength="3.8" lengthAdjust="spacingAndGlyphs" stroke="#231815" stroke-width="0.35" fill="#231815">2</text>
<line x1="817.3" y1="2371" x2="817.3" y2="2376.3" stroke="#3e3a39" stroke-width="1.3"/>
<line x1="828.2" y1="2371" x2="828.2" y2="2376.3" stroke="#3e3a39" stroke-width="1.3"/>
<line x1="835.9" y1="2371" x2="835.9" y2="2376.3" stroke="#3e3a39" stroke-width="1.3"/>
<line x1="841.9" y1="2371" x2="841.9" y2="2376.3" stroke="#3e3a39" stroke-width="1.3"/>
<line x1="846.7" y1="2371" x2="846.7" y2="2376.3" stroke="#3e3a39" stroke-width="1.3"/>
<line x1="850.9" y1="2371" x2="850.9" y2="2376.3" stroke="#3e3a39" stroke-width="1.3"/>
<line x1="854.4" y1="2371" x2="854.4" y2="2376.3" stroke="#3e3a39" stroke-width="1.3"/>
<line x1="857.6" y1="2371" x2="857.6" y2="2376.3" stroke="#3e3a39" stroke-width="1.3"/>
<line x1="860.4" y1="2371" x2="860.4" y2="2379" stroke="#3e3a39" stroke-width="1.3"/>
<text x="862.2" y="2389" font-size="9" text-anchor="end" textLength="7.4" lengthAdjust="spacingAndGlyphs" stroke="#231815" stroke-width="0.35" fill="#231815">10</text>
<text x="862.7" y="2383.8" font-size="7.2" textLength="3.8" lengthAdjust="spacingAndGlyphs" stroke="#231815" stroke-width="0.35" fill="#231815">3</text>
<line x1="878.9" y1="2371" x2="878.9" y2="2376.3" stroke="#3e3a39" stroke-width="1.3"/>
<line x1="889.8" y1="2371" x2="889.8" y2="2376.3" stroke="#3e3a39" stroke-width="1.3"/>
<line x1="897.5" y1="2371" x2="897.5" y2="2376.3" stroke="#3e3a39" stroke-width="1.3"/>
<line x1="903.5" y1="2371" x2="903.5" y2="2376.3" stroke="#3e3a39" stroke-width="1.3"/>
<line x1="908.3" y1="2371" x2="908.3" y2="2376.3" stroke="#3e3a39" stroke-width="1.3"/>
<line x1="912.5" y1="2371" x2="912.5" y2="2376.3" stroke="#3e3a39" stroke-width="1.3"/>
<line x1="916" y1="2371" x2="916" y2="2376.3" stroke="#3e3a39" stroke-width="1.3"/>
<line x1="919.2" y1="2371" x2="919.2" y2="2376.3" stroke="#3e3a39" stroke-width="1.3"/>
<line x1="922" y1="2371" x2="922" y2="2379" stroke="#3e3a39" stroke-width="1.3"/>
<text x="923.8" y="2389" font-size="9" text-anchor="end" textLength="7.4" lengthAdjust="spacingAndGlyphs" stroke="#231815" stroke-width="0.35" fill="#231815">10</text>
<text x="924.3" y="2383.8" font-size="7.2" textLength="3.8" lengthAdjust="spacingAndGlyphs" stroke="#231815" stroke-width="0.35" fill="#231815">4</text>
<line x1="940.5" y1="2371" x2="940.5" y2="2376.3" stroke="#3e3a39" stroke-width="1.3"/>
<line x1="951.4" y1="2371" x2="951.4" y2="2376.3" stroke="#3e3a39" stroke-width="1.3"/>
<line x1="959.1" y1="2371" x2="959.1" y2="2376.3" stroke="#3e3a39" stroke-width="1.3"/>
<line x1="965.1" y1="2371" x2="965.1" y2="2376.3" stroke="#3e3a39" stroke-width="1.3"/>
<line x1="969.9" y1="2371" x2="969.9" y2="2376.3" stroke="#3e3a39" stroke-width="1.3"/>
<line x1="974.1" y1="2371" x2="974.1" y2="2376.3" stroke="#3e3a39" stroke-width="1.3"/>
<line x1="977.6" y1="2371" x2="977.6" y2="2376.3" stroke="#3e3a39" stroke-width="1.3"/>
<line x1="980.8" y1="2371" x2="980.8" y2="2376.3" stroke="#3e3a39" stroke-width="1.3"/>
<line x1="983.6" y1="2371" x2="983.6" y2="2379" stroke="#3e3a39" stroke-width="1.3"/>
<text x="985.4" y="2389" font-size="9" text-anchor="end" textLength="7.4" lengthAdjust="spacingAndGlyphs" stroke="#231815" stroke-width="0.35" fill="#231815">10</text>
<text x="985.9" y="2383.8" font-size="7.2" textLength="3.8" lengthAdjust="spacingAndGlyphs" stroke="#231815" stroke-width="0.35" fill="#231815">5</text>
<line x1="1002.1" y1="2371" x2="1002.1" y2="2376.3" stroke="#3e3a39" stroke-width="1.3"/>
<clipPath id="h18"><rect x="763.9" y="2122" width="246.6" height="248.5"/></clipPath>
<polygon clip-path="url(#h18)" points="763.9,2371 763.9,2371 764.8,2371 765.7,2371 766.6,2371 767.5,2371 768.4,2371 769.3,2371 770.2,2371 771.1,2371 772,2371 772.9,2371 773.8,2371 774.7,2371 775.6,2371 776.5,2371 777.4,2371 778.3,2371 779.2,2371 780.1,2369.5 781,2371 781.9,2371 782.8,2371 783.7,2371 784.6,2371 785.5,2371 786.4,2371 787.3,2371 788.2,2371 789.1,2371 790,2371 790.9,2371 791.8,2371 792.7,2371 793.6,2371 794.5,2371 795.4,2371 796.3,2371 797.2,2370.7 798.1,2371 799,2371 799.9,2371 800.8,2371 801.7,2371 802.6,2371 803.5,2370.6 804.4,2371 805.3,2371 806.2,2371 807.1,2371 808,2371 808.9,2371 809.8,2369.5 810.7,2371 811.6,2371 812.5,2371 813.4,2371 814.3,2371 815.2,2371 816.1,2371 817,2369.9 817.9,2371 818.8,2371 819.7,2371 820.6,2371 821.5,2371 822.4,2371 823.3,2371 824.2,2369.6 825.1,2371 826,2371 826.9,2371 827.8,2371 828.7,2370.3 829.6,2370.6 830.5,2371 831.4,2371 832.3,2371 833.2,2371 834.1,2371 835,2371 835.9,2370.3 836.8,2371 837.7,2371 838.6,2370.2 839.5,2371 840.4,2368.3 841.3,2367.8 842.2,2367.5 843.1,2366.4 844,2365.3 844.9,2365.3 845.8,2363.9 846.7,2368.2 847.6,2366.7 848.5,2366.5 849.4,2365.7 850.3,2359 851.2,2360.7 852.1,2355.1 853,2355.1 853.9,2360.2 854.8,2367.7 855.7,2351.6 856.6,2350.2 857.5,2356.6 858.4,2347.9 859.3,2351.7 860.2,2354.1 861.1,2347.3 862,2357.4 862.9,2351.5 863.8,2352.5 864.7,2345.5 865.6,2343.8 866.5,2348.9 867.4,2350.5 868.3,2355.1 869.2,2350.7 870.1,2349.2 871,2351.6 871.9,2343.2 872.8,2343.1 873.7,2354.7 874.6,2341.6 875.5,2358.3 876.4,2361.7 877.3,2355.5 878.2,2353.5 879.1,2348.9 880,2344 880.9,2345.7 881.8,2347.3 882.7,2346.4 883.6,2335 884.5,2344.7 885.4,2344.4 886.3,2346.8 887.2,2344.1 888.1,2352.7 889,2345 889.9,2350 890.8,2338.6 891.7,2319.9 892.6,2330.9 893.5,2342 894.4,2332 895.3,2338.4 896.2,2339.5 897.1,2343.7 898,2349.2 898.9,2332.6 899.8,2337.9 900.7,2341.7 901.6,2335.4 902.5,2338.6 903.4,2345.6 904.3,2326.4 905.2,2321.7 906.1,2316.7 907,2321.7 907.9,2327.8 908.8,2332.1 909.7,2334.3 910.6,2332 911.5,2341.9 912.4,2313.8 913.3,2314.3 914.2,2309 915.1,2294 916,2300.6 916.9,2309.1 917.8,2302.3 918.7,2321.9 919.6,2321.4 920.5,2315.8 921.4,2326.2 922.3,2302 923.2,2304.5 924.1,2308.1 925,2297.8 925.9,2311 926.8,2326 927.7,2308.5 928.6,2298.7 929.5,2307.5 930.4,2297.7 931.3,2295.5 932.2,2275.7 933.1,2274.1 934,2272.4 934.9,2273.9 935.8,2269.6 936.7,2293.1 937.6,2280.8 938.5,2291.1 939.4,2259.9 940.3,2272.2 941.2,2258.3 942.1,2278.5 943,2274.1 943.9,2271.6 944.8,2271 945.7,2248 946.6,2270 947.5,2254.5 948.4,2210.6 949.3,2226.7 950.2,2252.9 951.1,2224.6 952,2238.4 952.9,2199.7 953.8,2228.3 954.7,2204 955.6,2214.8 956.5,2213.6 957.4,2203.7 958.3,2183.5 959.2,2165.4 960.1,2146.4 961,2200.7 961.9,2187.8 962.8,2200.8 963.7,2187.3 964.6,2191.2 965.5,2177.5 966.4,2178.2 967.3,2144.3 968.2,2123 969.1,2135.5 970,2135.8 970.9,2169.6 971.8,2164.9 972.7,2140.9 973.6,2125.5 974.5,2155.8 975.4,2163.7 976.3,2187.6 977.2,2172.8 978.1,2151.5 979,2160.9 979.9,2144 980.8,2173.6 981.7,2201.9 982.6,2210.6 983.5,2220.7 984.4,2170.8 985.3,2222.3 986.2,2174.9 987.1,2194.1 988,2199.3 988.9,2224.2 989.8,2239.2 990.7,2233.1 991.6,2217.6 992.5,2255.4 993.4,2270.1 994.3,2261 995.2,2285.3 996.1,2272.3 997,2277.9 997.9,2273 998.8,2300.8 999.7,2292.1 1000.6,2291.7 1001.5,2309.7 1002.4,2321.6 1003.3,2301.5 1004.2,2315.8 1005.1,2304.7 1006,2316.1 1006.6,2371" fill="#ec6a6b" stroke="#e0341f" stroke-width="0.9" stroke-linejoin="miter" stroke-miterlimit="6"/>
<rect x="1008.4" y="2135.4" width="1.6" height="235.6" fill="#d9503c"/>
<rect x="763.9" y="2122" width="246.6" height="249" fill="none" stroke="#3e3a39" stroke-width="1.3"/>
<line x1="768.9" y1="2122" x2="768.9" y2="2371" stroke="#3e3a39" stroke-width="1.3"/>
<line x1="1006.5" y1="2122" x2="1006.5" y2="2371" stroke="#3e3a39" stroke-width="1.3"/>
<line x1="768.9" y1="2317" x2="1006.5" y2="2317" stroke="#3e3a39" stroke-width="1.3"/>
<line x1="884.2" y1="2121" x2="890.7" y2="2121" stroke="#1a1a1a" stroke-width="1.8"/>
<text x="880.9" y="2251.6" font-size="8.6" textLength="11" lengthAdjust="spacingAndGlyphs" stroke="#231815" stroke-width="0.12" fill="#231815">P2</text>
<text x="280.7" y="2107.8" font-size="31" text-anchor="middle" textLength="96" lengthAdjust="spacingAndGlyphs" fill="#231815">Control</text>
<text x="598.5" y="2107.6" font-size="31" text-anchor="middle" textLength="114" lengthAdjust="spacingAndGlyphs" fill="#231815">Cisplatin</text>
<text x="897" y="2107.6" font-size="31" text-anchor="middle" textLength="201.5" lengthAdjust="spacingAndGlyphs" fill="#231815">Cisplatin+PAI-1</text>
<text x="78.2" y="2322.7" font-size="38.4" transform="rotate(-90 78.2 2322.7)" textLength="174" lengthAdjust="spacingAndGlyphs" fill="#231815">KYSE-450</text>
<text x="123.6" y="2376.3" font-size="23.9" transform="rotate(-90 123.6 2376.3)" textLength="70.5" lengthAdjust="spacingAndGlyphs" fill="#231815">Counts</text>
<line x1="119.4" y1="2142.9" x2="119.4" y2="2272" stroke="#231815" stroke-width="1.6"/>
<path d="M119.4 2134.9 L128 2150.9 L119.4 2146.4 L110.8 2150.9 Z" fill="#231815"/>
<text x="174.8" y="2434.7" font-size="22.2" textLength="185" lengthAdjust="spacingAndGlyphs" fill="#231815">DCF Fluorescence</text>
<line x1="385.3" y1="2427" x2="1014" y2="2427" stroke="#231815" stroke-width="1.6"/>
<path d="M1022 2427 L1006 2418.4 L1010.5 2427 L1006 2435.6 Z" fill="#231815"/>
<rect x="1333.6" y="2382.5" width="68.3" height="69.6" rx="3" fill="#2a4ea6"/>
<rect x="1349" y="2381.3" width="37.5" height="8.9" rx="4.4" fill="#2a4ea6"/>
<rect x="1455.6" y="2187.8" width="68.3" height="264.3" rx="3" fill="#d92a22"/>
<rect x="1471" y="2182.1" width="37.5" height="8.9" rx="4.4" fill="#d92a22"/>
<rect x="1577.5" y="2237.7" width="68.3" height="214.4" rx="3" fill="#37ac38"/>
<rect x="1592.9" y="2232.7" width="37.5" height="8.9" rx="4.4" fill="#37ac38"/>
<line x1="1307" y1="2086.7" x2="1307" y2="2454.3" stroke="#000" stroke-width="4.8" stroke-linecap="round"/>
<line x1="1297" y1="2452.1" x2="1675.5" y2="2452.1" stroke="#000" stroke-width="4.8" stroke-linecap="round"/>
<line x1="1297" y1="2086.7" x2="1307" y2="2086.7" stroke="#000" stroke-width="4.8" stroke-linecap="round"/>
<text x="1287.5" y="2095.9" font-size="25.6" text-anchor="end" fill="#000">40000</text>
<line x1="1297" y1="2178.3" x2="1307" y2="2178.3" stroke="#000" stroke-width="4.8" stroke-linecap="round"/>
<text x="1287.5" y="2187.5" font-size="25.6" text-anchor="end" fill="#000">30000</text>
<line x1="1297" y1="2269.6" x2="1307" y2="2269.6" stroke="#000" stroke-width="4.8" stroke-linecap="round"/>
<text x="1287.5" y="2278.8" font-size="25.6" text-anchor="end" fill="#000">20000</text>
<line x1="1297" y1="2360.8" x2="1307" y2="2360.8" stroke="#000" stroke-width="4.8" stroke-linecap="round"/>
<text x="1287.5" y="2370" font-size="25.6" text-anchor="end" fill="#000">10000</text>
<line x1="1297" y1="2452.1" x2="1307" y2="2452.1" stroke="#000" stroke-width="4.8" stroke-linecap="round"/>
<text x="1287.5" y="2461.3" font-size="25.6" text-anchor="end" fill="#000">0</text>
<line x1="1367.6" y1="2452.1" x2="1367.6" y2="2462.1" stroke="#000" stroke-width="4.8" stroke-linecap="round"/>
<text x="1364.9" y="2491.4" font-size="22" text-anchor="middle" fill="#000">Control</text>
<line x1="1489.5" y1="2452.1" x2="1489.5" y2="2462.1" stroke="#000" stroke-width="4.8" stroke-linecap="round"/>
<text x="1489.4" y="2491.4" font-size="22" text-anchor="middle" fill="#000">Cisplatin</text>
<line x1="1611.5" y1="2452.1" x2="1611.5" y2="2462.1" stroke="#000" stroke-width="4.8" stroke-linecap="round"/>
<text x="1624.8" y="2491.4" font-size="22" text-anchor="middle" fill="#000">Cisplatin+PAI-1</text>
<path d="M1487.5 2164 V2149.3 H1608.6 V2201.3" fill="none" stroke="#000" stroke-width="2"/>
<text x="1552.1" y="2153" font-size="27" text-anchor="middle" textLength="38" lengthAdjust="spacingAndGlyphs" fill="#000">***</text>
<text x="1161.3" y="2319.5" font-size="29.9" transform="rotate(-90 1161.3 2319.5)" textLength="139" lengthAdjust="spacingAndGlyphs" fill="#231815">KYSE-450</text>
<text x="1200.8" y="2331.6" font-size="29.7" transform="rotate(-90 1200.8 2331.6)" textLength="162" lengthAdjust="spacingAndGlyphs" fill="#231815">ROS activity</text>
</svg>
</body></html>
